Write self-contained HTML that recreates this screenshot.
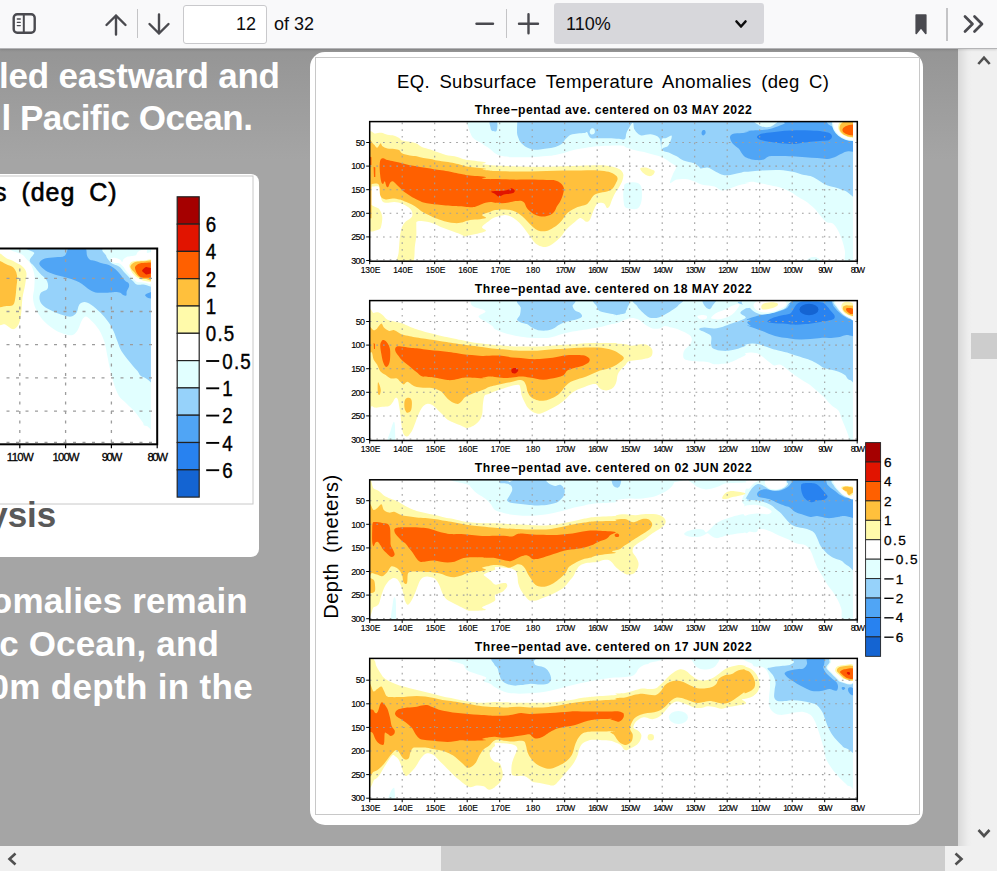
<!DOCTYPE html>
<html><head><meta charset="utf-8">
<style>
html,body{margin:0;padding:0;}
body{width:997px;height:871px;overflow:hidden;position:relative;background:#a5a5a5;font-family:"Liberation Sans",sans-serif;}
#slide{position:absolute;left:0;top:48px;width:958px;height:798px;background:linear-gradient(#959595 0px,#a5a5a5 112px,#a5a5a5 100%);overflow:hidden;}
#toolbar{position:absolute;left:0;top:0;width:997px;height:48px;background:#f9f9fa;box-shadow:0 1px 0 #b4b4b6, 0 2px 2px rgba(0,0,0,.12);z-index:5;}
.tbtxt{position:absolute;font-size:18px;color:#0c0c0d;line-height:20px;}
.sep{position:absolute;width:1px;background:#c4c4c6;}
.hl{position:absolute;color:#fff;font-weight:bold;font-size:35px;line-height:42px;white-space:nowrap;}
.card{position:absolute;background:#fff;}
#vsb{position:absolute;left:958px;top:48px;width:39px;height:798px;background:linear-gradient(90deg,#d9d9d9 0,#ededed 10px,#f0f0f0 14px,#f0f0f0 100%);}
#hsb{position:absolute;left:0;top:846px;width:997px;height:25px;background:#f0f0f0;}
.thumb{position:absolute;background:#cdcdcd;}
svg{position:absolute;left:0;top:0;}
</style></head><body>
<div id="slide">
 <div class="hl" id="h1" style="right:678.2px;top:7px;letter-spacing:-0.2px;">led eastward and</div>
 <div class="hl" id="h2" style="right:705.5px;top:49.1px;letter-spacing:-0.48px;">l Pacific Ocean.</div>
 <div class="hl" id="h3" style="right:710.2px;top:532.2px;letter-spacing:0.15px;">omalies remain</div>
 <div class="hl" id="h4" style="right:739px;top:574.9px;letter-spacing:0.16px;">c Ocean, and</div>
 <div class="hl" id="h5" style="right:705px;top:617.7px;letter-spacing:0.33px;">0m depth in the</div>
 <div class="card" id="cardL" style="left:-20px;top:126px;width:279.3px;height:383px;border-radius:8px;"></div>
 <div class="card" id="cardR" style="left:310.3px;top:4px;width:612.6px;height:773px;border-radius:15px;"></div>
</div>
<div id="vsb"><div class="thumb" style="left:13px;top:285px;width:26px;height:26px;"></div></div>
<div id="hsb"><div class="thumb" style="left:441px;top:0;width:504px;height:25px;"></div></div>
<div id="toolbar">
 <div class="sep" style="left:137px;top:9px;height:29px;"></div>
 <div style="position:absolute;left:183px;top:5px;width:82px;height:37px;border:1px solid #c9c9cc;border-radius:3px;background:#fff;box-sizing:content-box;"></div>
 <div class="tbtxt" style="left:236px;top:14px;">12</div>
 <div class="tbtxt" style="left:274px;top:14px;">of 32</div>
 <div class="sep" style="left:506px;top:9px;height:29px;"></div>
 <div style="position:absolute;left:554px;top:3px;width:210px;height:41px;border-radius:3px;background:#d7d7db;"></div>
 <div class="tbtxt" style="left:566px;top:14px;">110%</div>
 <div class="sep" style="left:946px;top:8px;height:33px;width:2px;background:#c4c4c6;"></div>
</div>
<svg width="997" height="871" viewBox="0 0 997 871" style="z-index:6" fill="none" stroke="#4a4a4f" stroke-width="2.4" stroke-linecap="round" stroke-linejoin="round">
<rect x="13.7" y="14.3" width="21" height="18.5" rx="3.5"/><line x1="23.8" y1="14.5" x2="23.8" y2="32.5" stroke-width="2"/><g stroke-width="1.3"><line x1="17.3" y1="19" x2="20.3" y2="19"/><line x1="17.3" y1="22.3" x2="20.3" y2="22.3"/><line x1="17.3" y1="25.6" x2="20.3" y2="25.6"/></g>
<path d="M116 34.5V15.5M106.5 25L116 15.5L125.5 25"/>
<path d="M159 14.5V33.5M149.5 24L159 33.5L168.5 24"/>
<path d="M476.5 23.8H493"/><path d="M519 23.8H538M528.5 14.3V33.3"/>
<path d="M736.5 21.5L741 26.5L745.5 21.5" stroke="#0c0c0d" stroke-width="2.6"/>
<path d="M916.2 15H925.8V33.5L921 27.5L916.2 33.5Z" fill="#4a4a4f" stroke-width="1.6"/>
<path d="M965 16.5L972.5 24L965 31.5M974.5 16.5L982 24L974.5 31.5" stroke-width="2.7"/>
<g stroke="#505050" stroke-width="2.6" stroke-linecap="butt" stroke-linejoin="miter"><path d="M978.3 64L984 57.6L989.7 64"/><path d="M978.5 830L984 836L989.5 830"/><path d="M15.5 853.5L9.5 859L15.5 864.5"/><path d="M955.5 853.5L961.5 859L955.5 864.5"/></g>
</svg>
<svg width="997" height="871" viewBox="0 0 997 871" style="z-index:2" font-family="Liberation Sans, sans-serif">
<style>.gr{stroke:#9e9e9e;stroke-width:1.05;stroke-dasharray:1.7 4.95;}.gl{stroke:#9c9c9c;stroke-width:1.3;stroke-dasharray:3 6.5;}</style>
<defs><clipPath id="slideclip"><rect x="0" y="49" width="958" height="797"/></clipPath></defs>
<g clip-path="url(#slideclip)">
<rect x="315.5" y="57.5" width="604" height="757" fill="#fff" stroke="#c8c8c8" stroke-width="1"/>
<text x="613.0" y="87.9" font-size="18.50" text-anchor="middle" font-weight="normal" fill="#000" textLength="432.0" lengthAdjust="spacing" word-spacing="4">EQ. Subsurface Temperature Anomalies (deg C)</text>
<clipPath id="cp1"><rect x="369.7" y="121.6" width="483.3" height="139.6"/></clipPath>
<g clip-path="url(#cp1)">
<path d="M466.6 121.9 C466.9 123.0 467.7 125.3 468.3 127.1 C468.9 128.8 469.3 130.5 470.0 132.2 C470.8 133.9 471.5 135.9 472.6 137.4 C473.8 138.8 475.3 139.8 476.9 140.8 C478.5 141.8 480.7 142.5 482.1 143.4 C483.5 144.3 484.1 145.0 485.5 146.0 C487.0 147.0 489.1 148.2 490.7 149.4 C492.3 150.6 493.6 152.2 495.0 153.2 C496.4 154.2 497.9 154.9 499.3 155.5 C500.7 156.0 501.5 156.0 503.6 156.3 C505.8 156.6 507.9 157.0 512.2 157.2 C516.5 157.3 523.7 157.4 529.4 157.2 C535.2 157.0 542.4 156.4 546.7 156.0 C551.0 155.6 552.4 155.5 555.3 154.9 C558.1 154.4 561.0 153.7 563.9 152.9 C566.7 152.1 569.6 151.0 572.5 150.3 C575.4 149.6 577.9 149.2 581.1 148.6 C584.2 148.0 588.0 147.3 591.4 146.9 C594.9 146.4 597.7 146.2 601.8 146.0 C605.8 145.8 611.7 145.6 615.5 145.6 C619.4 145.6 623.4 145.8 625.0 146.0 C626.6 146.2 623.3 146.1 625.0 146.9 C626.7 147.6 631.6 149.3 635.3 150.3 C639.1 151.3 642.9 151.7 647.4 152.9 C651.8 154.0 658.0 155.5 662.0 157.2 C666.0 158.9 669.1 161.6 671.5 163.2 C673.9 164.8 676.0 164.9 676.3 166.7 C676.6 168.4 674.2 170.8 673.2 173.5 C672.2 176.3 669.5 182.0 670.1 183.0 C670.7 184.0 674.1 180.2 676.7 179.6 C679.2 178.9 682.4 178.8 685.3 179.1 C688.1 179.3 691.0 180.3 693.9 181.3 C696.7 182.2 699.0 183.9 702.5 184.7 C705.9 185.6 711.4 185.5 714.5 186.5 C717.7 187.4 719.1 190.0 721.4 190.4 C723.7 190.8 725.4 189.9 728.3 189.0 C731.2 188.2 735.2 186.3 738.6 185.3 C742.1 184.2 747.9 183.4 749.0 183.0 C750.0 182.6 744.5 183.2 745.0 183.0 C745.5 182.8 749.6 181.8 751.9 181.8 C754.2 181.8 756.2 182.5 758.8 183.0 C761.4 183.5 763.9 184.0 767.4 184.7 C770.8 185.5 775.7 186.2 779.4 187.3 C783.2 188.5 786.9 190.2 789.8 191.6 C792.6 193.1 794.1 194.3 796.7 195.9 C799.2 197.5 802.4 199.1 805.3 201.1 C808.1 203.1 811.6 205.8 813.9 208.0 C816.2 210.1 817.3 212.0 819.0 214.0 C820.8 216.0 822.8 218.6 824.2 220.0 C825.6 221.5 826.2 222.0 827.6 222.6 C829.1 223.2 831.1 222.2 832.8 223.5 C834.5 224.8 836.4 227.5 838.0 230.4 C839.6 233.2 841.1 237.3 842.3 240.7 C843.4 244.1 844.2 247.3 844.9 251.0 C845.6 254.8 843.1 261.1 846.6 263.1 C850.0 265.1 862.4 286.9 865.5 263.1 C868.7 239.3 932.0 144.0 865.5 120.2 C799.0 96.3 533.1 119.9 466.6 120.2 C400.1 120.5 466.3 120.7 466.6 121.9Z" fill="#e1ffff"/>
<path d="M624.1 187.3 C624.4 185.9 623.7 184.7 625.0 183.9 C626.3 183.0 629.7 182.3 631.9 182.2 C634.0 182.0 636.3 182.2 637.9 183.0 C639.5 183.9 640.7 184.9 641.4 187.3 C642.0 189.8 642.0 194.8 641.9 197.6 C641.7 200.5 641.3 202.7 640.5 204.5 C639.7 206.4 638.8 208.1 637.1 208.8 C635.3 209.6 632.2 209.1 630.2 208.8 C628.2 208.6 626.1 208.4 625.0 207.1 C623.9 205.8 623.9 203.5 623.6 201.1 C623.3 198.7 623.2 194.8 623.3 192.5 C623.4 190.2 623.9 188.8 624.1 187.3Z" fill="#e1ffff"/>
<path d="M807.0 261.4 C805.3 260.8 808.4 258.6 809.6 257.9 C810.7 257.2 812.4 257.0 813.9 257.1 C815.3 257.1 817.2 257.5 818.2 258.3 C819.2 259.0 821.8 260.8 819.9 261.4 C818.0 261.9 808.7 261.9 807.0 261.4Z" fill="#e1ffff"/>
<path d="M517.4 120.2 C517.3 122.2 516.9 129.3 517.0 132.2 C517.2 135.1 517.6 135.7 518.2 137.4 C518.9 139.1 519.5 141.0 520.8 142.5 C522.1 144.1 524.0 145.7 526.0 146.9 C528.0 148.0 530.6 149.0 532.9 149.4 C535.2 149.9 537.5 149.6 539.8 149.4 C542.1 149.3 544.1 149.0 546.7 148.6 C549.2 148.1 552.7 147.7 555.3 146.9 C557.8 146.0 560.4 144.7 562.2 143.4 C563.9 142.1 564.2 140.5 565.6 139.1 C567.0 137.7 568.8 135.7 570.8 134.8 C572.8 133.9 575.4 133.9 577.6 133.6 C579.9 133.3 583.0 133.3 584.5 133.1 C586.1 132.8 586.4 131.8 587.1 132.2 C587.8 132.6 588.1 134.7 588.8 135.7 C589.6 136.7 589.8 137.8 591.4 138.2 C593.0 138.7 595.4 138.2 598.3 138.2 C601.2 138.2 605.2 138.2 608.6 138.2 C612.1 138.3 616.2 138.6 619.0 138.8 C621.7 138.9 623.7 140.2 625.0 139.1 C626.3 138.0 625.4 134.9 626.7 132.2 C628.0 129.5 631.5 123.2 632.7 122.7 C634.0 122.3 633.2 127.5 634.5 129.6 C635.8 131.7 637.8 134.5 640.5 135.3 C643.2 136.1 647.7 133.8 650.8 134.3 C654.0 134.8 657.6 135.7 659.4 138.2 C661.3 140.8 660.3 147.0 662.0 149.4 C663.7 151.9 667.3 151.7 669.8 152.9 C672.2 154.0 674.4 155.0 676.7 156.3 C679.0 157.6 680.7 159.5 683.5 160.6 C686.4 161.8 691.3 162.2 693.9 163.2 C696.5 164.2 697.9 165.8 699.0 166.7 C700.2 167.5 699.3 168.2 700.8 168.4 C702.2 168.5 705.4 167.1 707.6 167.5 C709.9 167.9 712.2 169.8 714.5 171.0 C716.8 172.1 719.1 173.7 721.4 174.4 C723.7 175.1 725.7 175.4 728.3 175.3 C730.9 175.1 734.1 174.2 736.9 173.5 C739.8 172.9 744.2 171.8 745.5 171.5 C746.9 171.2 742.2 172.0 745.0 171.8 C747.8 171.6 756.5 170.7 762.2 170.4 C768.0 170.2 774.4 169.9 779.4 170.1 C784.5 170.3 788.6 171.1 792.4 171.8 C796.1 172.5 798.8 173.7 801.8 174.4 C804.8 175.1 807.8 175.3 810.4 176.1 C813.0 177.0 815.0 178.3 817.3 179.6 C819.6 180.9 821.9 182.7 824.2 183.9 C826.5 185.0 828.8 185.7 831.1 186.5 C833.4 187.2 835.7 187.5 838.0 188.2 C840.3 188.9 840.3 189.3 844.9 190.8 C849.5 192.2 862.1 208.6 865.5 196.8 C869.0 185.0 923.6 132.9 865.5 120.2 C807.5 107.4 575.4 120.2 517.4 120.2 C459.4 120.2 517.4 118.2 517.4 120.2Z" fill="#96d2fa"/>
<path d="M589.7 131.4 C589.8 130.4 590.7 128.9 591.4 128.4 C592.1 128.0 593.4 128.1 594.0 128.8 C594.6 129.4 595.0 131.3 594.9 132.2 C594.7 133.1 593.9 134.0 593.1 134.3 C592.4 134.6 591.1 134.4 590.6 133.9 C590.0 133.5 589.6 132.3 589.7 131.4Z" fill="#e1ffff"/>
<path d="M489.8 121.0 C488.8 122.0 490.1 125.5 490.4 127.1 C490.6 128.6 490.8 129.8 491.6 130.5 C492.3 131.2 494.1 131.4 495.0 131.4 C495.9 131.4 496.3 131.5 496.7 130.5 C497.1 129.5 497.5 126.9 497.4 125.3 C497.4 123.8 497.6 121.7 496.4 121.0 C495.1 120.3 490.8 120.0 489.8 121.0Z" fill="#96d2fa"/>
<path d="M662.0 139.1 C662.7 137.4 664.0 138.8 665.5 138.2 C666.9 137.7 669.6 135.9 670.6 135.7 C671.7 135.4 671.8 135.7 671.8 136.5 C671.8 137.4 671.3 139.2 670.6 140.8 C670.0 142.4 669.2 144.8 668.0 146.0 C666.9 147.1 664.8 147.3 663.7 147.7 C662.7 148.1 661.8 150.0 661.5 148.6 C661.2 147.1 661.4 140.8 662.0 139.1Z" fill="#e1ffff"/>
<path d="M755.3 121.0 C752.3 121.6 756.8 123.5 757.9 124.5 C759.1 125.4 760.4 126.3 762.2 126.7 C764.1 127.1 767.1 127.4 769.1 127.1 C771.1 126.7 773.1 125.5 774.3 124.5 C775.4 123.5 779.2 121.6 776.0 121.0 C772.8 120.5 758.3 120.5 755.3 121.0Z" fill="#e1ffff"/>
<path d="M730.0 137.4 C730.0 135.8 730.6 134.7 732.6 133.9 C734.6 133.2 739.4 133.5 742.1 133.1 C744.8 132.6 748.5 131.6 749.0 131.4 C749.5 131.1 744.5 131.5 745.0 131.4 C745.5 131.2 749.6 130.7 751.9 130.5 C754.2 130.3 756.2 130.3 758.8 130.2 C761.4 130.0 764.5 130.2 767.4 129.6 C770.3 129.1 773.1 128.1 776.0 127.1 C778.9 126.0 782.3 124.8 784.6 123.6 C786.9 122.5 776.3 120.7 789.8 120.2 C803.3 119.6 852.9 115.1 865.5 120.2 C878.2 125.2 868.4 145.1 865.5 150.3 C862.7 155.5 852.3 150.6 848.3 151.2 C844.3 151.7 843.7 152.7 841.4 153.7 C839.1 154.7 836.8 156.3 834.5 157.2 C832.2 158.0 830.5 158.8 827.6 158.9 C824.8 159.1 821.0 158.3 817.3 158.0 C813.6 157.8 809.4 157.5 805.3 157.2 C801.1 156.9 796.7 156.5 792.4 156.3 C788.0 156.1 783.3 156.0 779.4 156.0 C775.6 156.0 771.7 155.8 769.1 156.3 C766.5 156.9 765.9 158.8 763.9 159.4 C761.9 160.1 759.3 160.2 757.1 160.1 C754.8 160.0 752.2 159.6 750.2 158.9 C748.2 158.2 744.9 156.0 745.0 156.0 C745.1 156.0 750.6 158.7 750.7 158.9 C750.8 159.1 747.0 158.0 745.5 157.2 C744.1 156.3 743.2 155.2 742.1 153.7 C740.9 152.3 740.2 150.3 738.6 148.6 C737.1 146.9 734.1 145.3 732.6 143.4 C731.2 141.5 730.0 139.0 730.0 137.4Z" fill="#50a5f5"/>
<path d="M701.6 132.2 C701.8 131.4 702.3 130.4 702.8 130.2 C703.4 129.9 704.6 130.0 705.1 130.5 C705.5 131.0 705.8 132.3 705.6 133.1 C705.4 133.9 704.5 135.0 703.9 135.3 C703.3 135.6 702.3 135.3 702.0 134.8 C701.6 134.3 701.5 133.0 701.6 132.2Z" fill="#50a5f5"/>
<path d="M757.1 136.5 C757.6 135.6 759.6 134.3 762.2 133.6 C764.8 132.9 768.8 132.7 772.5 132.2 C776.3 131.8 780.6 131.2 784.6 130.8 C788.6 130.5 792.4 130.2 796.7 130.2 C801.0 130.1 806.1 130.3 810.4 130.5 C814.7 130.7 819.3 130.9 822.5 131.4 C825.6 131.8 827.8 132.2 829.4 133.1 C830.9 133.9 832.0 135.4 832.0 136.5 C832.0 137.7 830.9 139.2 829.4 140.0 C827.8 140.7 825.6 140.5 822.5 140.8 C819.3 141.1 814.4 141.3 810.4 141.7 C806.4 142.1 801.5 143.0 798.4 143.4 C795.2 143.8 794.1 143.9 791.5 143.9 C788.9 143.9 785.8 143.6 782.9 143.4 C780.0 143.2 777.4 143.0 774.3 142.5 C771.1 142.1 766.5 141.4 763.9 140.8 C761.4 140.3 759.9 139.8 758.8 139.1 C757.6 138.4 756.5 137.4 757.1 136.5Z" fill="#2882f0"/>
<ellipse cx="853.5" cy="121.0" rx="27.0" ry="9.0" fill="#96d2fa"/>
<ellipse cx="853.5" cy="123.0" rx="21.5" ry="18.0" fill="#e1ffff"/>
<ellipse cx="853.5" cy="123.0" rx="20.3" ry="17.0" fill="#ffffff"/>
<ellipse cx="853.5" cy="127.0" rx="15.3" ry="10.7" fill="#fffaaa"/>
<ellipse cx="853.5" cy="128.0" rx="14.0" ry="9.2" fill="#ffc03c"/>
<ellipse cx="853.5" cy="130.0" rx="11.2" ry="5.4" fill="#ff6000"/>
<path d="M368.4 135.7 C369.6 126.9 373.2 134.1 375.3 133.6 C377.5 133.1 379.3 132.5 381.4 132.7 C383.4 132.9 385.2 134.3 387.4 134.8 C389.5 135.3 392.3 135.1 394.3 135.7 C396.3 136.2 398.1 137.4 399.4 138.2 C400.7 139.0 400.3 139.9 402.0 140.5 C403.7 141.1 407.3 141.2 409.8 141.7 C412.2 142.2 414.6 142.5 416.7 143.4 C418.7 144.3 419.5 145.8 421.8 146.9 C424.1 147.9 427.8 148.6 430.4 149.4 C433.0 150.3 434.7 151.1 437.3 152.0 C439.9 152.9 443.1 154.2 445.9 154.9 C448.8 155.7 452.0 155.8 454.5 156.3 C457.1 156.9 459.1 157.8 461.4 158.4 C463.7 159.0 464.3 159.5 468.3 160.1 C472.3 160.8 483.2 161.7 485.5 162.4 C487.8 163.0 481.5 163.6 482.1 164.1 C482.7 164.5 486.8 164.7 489.0 164.9 C491.1 165.2 491.1 165.2 495.0 165.5 C498.9 165.7 506.5 166.1 512.2 166.3 C518.0 166.5 523.7 166.6 529.4 166.7 C535.2 166.7 540.9 166.7 546.7 166.7 C552.4 166.6 558.1 166.5 563.9 166.3 C569.6 166.2 575.4 166.0 581.1 165.8 C586.8 165.6 594.0 165.3 598.3 165.3 C602.6 165.3 604.1 165.4 606.9 165.8 C609.8 166.2 613.2 166.8 615.5 167.5 C617.8 168.2 619.4 169.0 620.7 170.1 C622.0 171.2 623.0 172.7 623.3 174.4 C623.6 176.1 623.1 178.3 622.4 180.4 C621.7 182.6 620.1 185.3 619.0 187.3 C617.8 189.3 616.7 190.5 615.5 192.5 C614.4 194.5 613.1 197.1 612.1 199.4 C611.1 201.7 610.4 204.8 609.5 206.3 C608.6 207.7 607.8 208.4 606.9 208.0 C606.1 207.5 605.5 204.5 604.3 203.7 C603.2 202.8 601.3 202.7 600.0 202.8 C598.7 203.0 597.7 203.1 596.6 204.5 C595.4 206.0 594.3 208.8 593.1 211.4 C592.0 214.0 590.8 218.3 589.7 220.0 C588.6 221.8 587.4 221.9 586.3 221.8 C585.1 221.6 584.0 219.7 582.8 219.2 C581.7 218.6 580.8 217.7 579.4 218.3 C577.9 218.9 576.2 220.9 574.2 222.6 C572.2 224.3 569.6 226.2 567.3 228.6 C565.0 231.1 562.7 234.8 560.4 237.3 C558.1 239.7 555.8 241.7 553.5 243.3 C551.2 244.9 549.0 246.3 546.7 246.7 C544.4 247.2 541.8 246.6 539.8 245.9 C537.8 245.1 536.3 244.1 534.6 242.4 C532.9 240.7 531.2 237.8 529.4 235.5 C527.7 233.2 526.0 230.8 524.3 228.6 C522.5 226.5 520.8 224.3 519.1 222.6 C517.4 220.9 515.7 219.5 513.9 218.3 C512.2 217.2 510.5 216.2 508.8 215.7 C507.1 215.2 505.9 215.0 503.6 215.2 C501.3 215.5 497.4 216.3 495.0 217.3 C492.6 218.2 491.1 219.3 489.0 220.9 C486.8 222.5 482.7 225.2 482.1 226.9 C481.5 228.6 487.8 229.8 485.5 231.2 C483.2 232.7 471.8 234.7 468.3 235.5 C464.9 236.4 466.0 236.5 464.9 236.4 C463.7 236.2 463.1 235.4 461.4 234.7 C459.7 234.0 456.8 232.9 454.5 232.1 C452.2 231.2 449.9 230.4 447.6 229.5 C445.4 228.6 443.1 227.9 440.8 226.9 C438.5 226.0 436.2 224.7 433.9 223.8 C431.6 223.0 429.3 222.2 427.0 221.8 C424.7 221.3 421.8 220.9 420.1 220.9 C418.4 220.9 417.3 221.0 416.7 221.8 C416.0 222.5 416.4 222.9 416.3 225.2 C416.3 227.5 416.5 232.1 416.3 235.5 C416.1 239.0 415.6 241.3 414.9 245.9 C414.3 250.5 415.2 260.2 412.4 263.1 C409.5 265.9 400.0 264.8 397.7 263.1 C395.4 261.4 398.3 256.2 398.6 252.7 C398.9 249.3 399.2 245.6 399.4 242.4 C399.7 239.3 399.9 236.4 400.3 233.8 C400.7 231.2 401.2 228.9 402.0 226.9 C402.9 224.9 404.0 223.2 405.5 221.8 C406.9 220.3 409.5 219.5 410.6 218.3 C411.8 217.2 412.2 216.2 412.4 214.9 C412.5 213.6 412.2 211.9 411.5 210.6 C410.8 209.3 409.6 208.3 408.0 207.1 C406.5 206.0 404.3 204.5 402.0 203.7 C399.7 202.8 397.0 202.1 394.3 202.0 C391.5 201.8 387.8 203.2 385.7 202.8 C383.5 202.4 382.4 202.0 381.4 199.4 C380.4 196.8 381.2 189.5 379.6 187.3 C378.1 185.2 373.8 186.6 371.9 186.5 C370.0 186.3 369.0 194.9 368.4 186.5 C367.9 178.0 367.3 144.5 368.4 135.7Z" fill="#fffaaa"/>
<path d="M368.4 206.3 C369.6 202.5 373.5 206.5 375.3 207.1 C377.2 207.7 378.5 208.1 379.6 209.7 C380.8 211.3 381.9 214.0 382.2 216.6 C382.5 219.2 381.9 223.0 381.4 225.2 C380.8 227.4 380.9 228.8 378.8 229.5 C376.6 230.2 370.2 233.4 368.4 229.5 C366.7 225.6 367.3 210.0 368.4 206.3Z" fill="#fffaaa"/>
<path d="M640.2 168.4 C640.4 167.4 643.9 167.4 645.7 167.5 C647.4 167.7 649.3 168.7 650.8 169.2 C652.3 169.8 654.2 170.1 654.6 171.0 C655.0 171.8 654.3 173.5 653.4 174.4 C652.5 175.3 650.7 176.3 649.1 176.1 C647.5 176.0 645.4 174.8 643.9 173.5 C642.4 172.3 639.9 169.4 640.2 168.4Z" fill="#fffaaa"/>
<path d="M368.4 142.5 C369.3 135.9 372.2 143.4 373.6 144.3 C375.0 145.1 375.9 147.9 377.1 147.7 C378.2 147.6 379.6 143.7 380.5 143.4 C381.4 143.1 381.1 145.1 382.2 146.0 C383.4 146.9 385.4 148.1 387.4 148.6 C389.4 149.1 392.3 148.8 394.3 149.1 C396.3 149.4 398.1 149.6 399.4 150.3 C400.7 151.0 400.3 152.4 402.0 153.2 C403.7 154.1 407.3 154.9 409.8 155.5 C412.2 156.0 414.4 155.9 416.7 156.3 C419.0 156.8 421.2 157.6 423.5 158.0 C425.8 158.5 428.1 158.5 430.4 158.9 C432.7 159.3 434.7 160.1 437.3 160.6 C439.9 161.1 443.1 161.4 445.9 161.8 C448.8 162.3 452.0 162.7 454.5 163.2 C457.1 163.7 459.1 164.4 461.4 164.9 C463.7 165.5 464.3 166.0 468.3 166.7 C472.3 167.3 483.2 168.2 485.5 168.7 C487.8 169.2 481.5 169.5 482.1 169.8 C482.7 170.0 486.8 170.2 489.0 170.4 C491.1 170.6 491.1 170.8 495.0 171.0 C498.9 171.1 506.5 171.4 512.2 171.5 C518.0 171.6 523.7 171.6 529.4 171.5 C535.2 171.4 540.9 171.1 546.7 171.0 C552.4 170.8 558.1 170.5 563.9 170.4 C569.6 170.4 575.4 170.4 581.1 170.4 C586.8 170.4 593.7 170.2 598.3 170.4 C602.9 170.7 605.8 171.0 608.6 171.8 C611.5 172.6 614.0 174.1 615.5 175.3 C617.0 176.4 617.6 177.3 617.6 178.7 C617.6 180.1 616.4 182.2 615.5 183.9 C614.6 185.6 613.5 187.7 612.1 189.0 C610.7 190.3 609.2 190.9 606.9 191.6 C604.6 192.3 600.6 192.6 598.3 193.3 C596.0 194.1 594.6 194.6 593.1 195.9 C591.7 197.2 590.8 199.7 589.7 201.1 C588.6 202.5 588.3 203.5 586.3 204.5 C584.2 205.5 580.2 206.1 577.6 207.1 C575.1 208.1 572.8 209.3 570.8 210.6 C568.8 211.9 567.0 213.3 565.6 214.9 C564.2 216.4 563.6 218.3 562.2 220.0 C560.7 221.8 559.0 223.6 557.0 225.2 C555.0 226.8 552.1 228.5 550.1 229.5 C548.1 230.5 546.9 231.1 544.9 231.2 C542.9 231.4 540.1 231.1 538.0 230.4 C536.0 229.6 534.6 228.4 532.9 226.9 C531.2 225.5 529.4 223.5 527.7 221.8 C526.0 220.0 524.3 218.1 522.5 216.6 C520.8 215.1 519.1 213.8 517.4 212.8 C515.7 211.8 514.2 211.1 512.2 210.6 C510.2 210.0 508.2 209.4 505.3 209.4 C502.5 209.3 497.7 209.6 495.0 210.0 C492.3 210.5 491.1 211.5 489.0 212.3 C486.8 213.1 482.7 213.9 482.1 214.9 C481.5 215.9 487.8 217.4 485.5 218.3 C483.2 219.2 472.3 219.7 468.3 220.4 C464.3 221.1 463.7 222.2 461.4 222.6 C459.1 223.1 456.8 223.2 454.5 223.1 C452.2 223.0 449.9 222.6 447.6 222.1 C445.4 221.6 443.1 220.8 440.8 220.0 C438.5 219.3 435.9 218.3 433.9 217.5 C431.9 216.6 430.7 215.9 428.7 214.9 C426.7 213.9 424.1 212.9 421.8 211.4 C419.5 210.0 417.2 207.7 414.9 206.3 C412.6 204.8 410.2 203.8 408.0 202.8 C405.9 201.8 403.5 200.8 402.0 200.2 C400.6 199.7 401.0 199.7 399.4 199.4 C397.9 199.1 394.8 198.5 392.5 198.5 C390.3 198.5 387.7 199.8 385.7 199.4 C383.7 198.9 381.6 198.4 380.5 195.9 C379.3 193.5 380.2 186.7 378.8 184.7 C377.3 182.7 373.6 184.0 371.9 183.9 C370.2 183.7 369.0 190.8 368.4 183.9 C367.9 177.0 367.6 149.2 368.4 142.5Z" fill="#ffc03c"/>
<path d="M368.4 183.9 L371.5 183.9 L371.5 218.3 L368.4 218.3Z" fill="#ffc03c"/>
<path d="M379.6 166.7 C379.7 164.1 379.8 161.1 380.5 159.8 C381.2 158.4 382.8 158.3 383.9 158.4 C385.1 158.4 385.7 159.6 387.4 160.1 C389.1 160.6 391.8 161.0 394.3 161.5 C396.7 162.0 399.4 162.6 402.0 163.2 C404.6 163.8 407.3 164.8 409.8 165.3 C412.2 165.8 414.4 165.9 416.7 166.3 C419.0 166.7 421.2 167.2 423.5 167.5 C425.8 167.9 428.1 168.0 430.4 168.4 C432.7 168.8 434.7 169.3 437.3 169.8 C439.9 170.2 443.1 170.5 445.9 171.0 C448.8 171.4 452.0 172.2 454.5 172.7 C457.1 173.2 459.1 173.5 461.4 173.9 C463.7 174.3 464.3 174.7 468.3 175.3 C472.3 175.8 483.2 176.5 485.5 177.0 C487.8 177.5 481.5 178.0 482.1 178.4 C482.7 178.7 486.8 178.9 489.0 179.1 C491.1 179.2 491.1 179.0 495.0 179.1 C498.9 179.1 506.5 179.5 512.2 179.6 C518.0 179.7 523.7 179.5 529.4 179.6 C535.2 179.7 542.4 179.9 546.7 180.1 C551.0 180.2 553.0 179.9 555.3 180.4 C557.6 180.9 559.0 181.7 560.4 183.0 C561.9 184.3 563.4 186.3 563.9 188.2 C564.3 190.0 563.6 192.1 563.0 194.2 C562.4 196.4 561.4 199.1 560.4 201.1 C559.4 203.1 558.0 204.5 557.0 206.3 C556.0 208.0 555.6 210.0 554.4 211.4 C553.3 212.9 552.0 214.0 550.1 214.9 C548.2 215.7 545.5 216.5 543.2 216.6 C540.9 216.6 538.3 215.9 536.3 215.2 C534.3 214.5 532.7 213.5 531.2 212.3 C529.6 211.1 528.0 209.6 526.9 208.0 C525.7 206.4 525.3 204.0 524.3 202.8 C523.3 201.6 522.3 201.0 520.8 200.7 C519.4 200.5 517.7 200.8 515.7 201.1 C513.7 201.4 511.1 202.1 508.8 202.5 C506.5 202.8 504.2 203.1 501.9 203.2 C499.6 203.2 496.9 203.0 495.0 202.8 C493.1 202.6 492.3 202.0 490.7 202.0 C489.1 202.0 487.5 202.2 485.5 202.8 C483.5 203.4 480.7 204.7 478.6 205.4 C476.6 206.1 475.2 206.8 473.5 207.1 C471.8 207.4 470.3 207.3 468.3 207.1 C466.3 207.0 463.7 206.5 461.4 206.3 C459.1 206.1 457.1 206.1 454.5 205.9 C452.0 205.8 448.8 205.6 445.9 205.4 C443.1 205.2 439.9 204.8 437.3 204.5 C434.7 204.2 432.7 204.0 430.4 203.7 C428.1 203.3 425.8 203.2 423.5 202.5 C421.2 201.8 418.7 200.3 416.7 199.4 C414.6 198.4 413.2 197.8 411.5 196.8 C409.8 195.8 407.9 194.5 406.3 193.3 C404.7 192.2 403.2 190.9 402.0 189.9 C400.9 188.9 400.4 188.3 399.4 187.3 C398.4 186.3 397.1 184.9 396.0 183.9 C394.8 182.9 393.6 181.4 392.5 181.3 C391.5 181.1 390.7 182.1 390.0 183.0 C389.2 184.0 388.8 186.4 388.2 187.0 C387.7 187.5 387.1 187.4 386.5 186.5 C385.9 185.5 385.4 181.7 384.8 181.3 C384.2 180.9 383.7 183.7 383.1 183.9 C382.5 184.0 381.8 183.6 381.4 182.2 C380.9 180.7 380.4 177.8 380.2 175.3 C379.9 172.7 379.6 169.2 379.6 166.7Z" fill="#ff6000"/>
<path d="M368.4 156.3 L371.5 157.2 L371.5 164.9 L368.4 164.9Z" fill="#ff6000"/>
<path d="M373.6 166.7 L375.3 167.5 L375.3 177.0 L374.0 177.0Z" fill="#ff6000"/>
<path d="M491.2 191.7 C491.5 191.2 494.3 191.3 496.6 191.1 C498.9 190.9 502.8 190.9 505.0 190.6 C507.2 190.3 508.6 189.4 509.8 189.0 C511.0 188.7 511.4 188.2 512.2 188.4 C513.0 188.6 514.3 189.5 514.6 190.2 C514.9 190.9 514.8 192.0 514.0 192.6 C513.2 193.2 511.5 193.5 509.8 193.8 C508.1 194.1 505.4 194.0 503.8 194.4 C502.2 194.8 501.2 195.9 500.2 196.2 C499.2 196.5 498.7 196.6 497.8 196.2 C496.9 195.8 495.9 194.6 494.8 193.8 C493.7 193.1 490.9 192.1 491.2 191.7Z" fill="#e11400"/>
</g>
<line x1="402.2" y1="122.6" x2="402.2" y2="261.2" class="gr"/>
<line x1="434.7" y1="122.6" x2="434.7" y2="261.2" class="gr"/>
<line x1="467.2" y1="122.6" x2="467.2" y2="261.2" class="gr"/>
<line x1="499.7" y1="122.6" x2="499.7" y2="261.2" class="gr"/>
<line x1="532.2" y1="122.6" x2="532.2" y2="261.2" class="gr"/>
<line x1="564.7" y1="122.6" x2="564.7" y2="261.2" class="gr"/>
<line x1="597.2" y1="122.6" x2="597.2" y2="261.2" class="gr"/>
<line x1="629.7" y1="122.6" x2="629.7" y2="261.2" class="gr"/>
<line x1="662.2" y1="122.6" x2="662.2" y2="261.2" class="gr"/>
<line x1="694.7" y1="122.6" x2="694.7" y2="261.2" class="gr"/>
<line x1="727.2" y1="122.6" x2="727.2" y2="261.2" class="gr"/>
<line x1="759.7" y1="122.6" x2="759.7" y2="261.2" class="gr"/>
<line x1="792.2" y1="122.6" x2="792.2" y2="261.2" class="gr"/>
<line x1="824.7" y1="122.6" x2="824.7" y2="261.2" class="gr"/>
<line x1="369.7" y1="142.5" x2="857.3" y2="142.5" class="gr"/>
<line x1="369.7" y1="166.1" x2="857.3" y2="166.1" class="gr"/>
<line x1="369.7" y1="189.7" x2="857.3" y2="189.7" class="gr"/>
<line x1="369.7" y1="213.3" x2="857.3" y2="213.3" class="gr"/>
<line x1="369.7" y1="236.9" x2="857.3" y2="236.9" class="gr"/>
<line x1="369.7" y1="259.7" x2="857.3" y2="259.7" class="gr"/>
<rect x="369.7" y="121.6" width="487.6" height="139.6" fill="none" stroke="#000" stroke-width="1.5"/>
<line x1="369.7" y1="261.2" x2="369.7" y2="264.2" stroke="#000" stroke-width="1"/>
<text x="370.5" y="272.5" font-size="8.50" text-anchor="middle" font-weight="normal" fill="#000" textLength="19.6" lengthAdjust="spacing" stroke="#000" stroke-width="0.15">130E</text>
<line x1="402.2" y1="261.2" x2="402.2" y2="264.2" stroke="#000" stroke-width="1"/>
<text x="403.0" y="272.5" font-size="8.50" text-anchor="middle" font-weight="normal" fill="#000" textLength="19.6" lengthAdjust="spacing" stroke="#000" stroke-width="0.15">140E</text>
<line x1="434.7" y1="261.2" x2="434.7" y2="264.2" stroke="#000" stroke-width="1"/>
<text x="435.5" y="272.5" font-size="8.50" text-anchor="middle" font-weight="normal" fill="#000" textLength="19.6" lengthAdjust="spacing" stroke="#000" stroke-width="0.15">150E</text>
<line x1="467.2" y1="261.2" x2="467.2" y2="264.2" stroke="#000" stroke-width="1"/>
<text x="468.0" y="272.5" font-size="8.50" text-anchor="middle" font-weight="normal" fill="#000" textLength="19.6" lengthAdjust="spacing" stroke="#000" stroke-width="0.15">160E</text>
<line x1="499.7" y1="261.2" x2="499.7" y2="264.2" stroke="#000" stroke-width="1"/>
<text x="500.5" y="272.5" font-size="8.50" text-anchor="middle" font-weight="normal" fill="#000" textLength="19.6" lengthAdjust="spacing" stroke="#000" stroke-width="0.15">170E</text>
<line x1="532.2" y1="261.2" x2="532.2" y2="264.2" stroke="#000" stroke-width="1"/>
<text x="533.0" y="272.5" font-size="8.50" text-anchor="middle" font-weight="normal" fill="#000" textLength="14.3" lengthAdjust="spacing" stroke="#000" stroke-width="0.15">180</text>
<line x1="564.7" y1="261.2" x2="564.7" y2="264.2" stroke="#000" stroke-width="1"/>
<text x="565.5" y="272.5" font-size="8.50" text-anchor="middle" font-weight="normal" fill="#000" textLength="19.6" lengthAdjust="spacing" stroke="#000" stroke-width="0.15">170W</text>
<line x1="597.2" y1="261.2" x2="597.2" y2="264.2" stroke="#000" stroke-width="1"/>
<text x="598.0" y="272.5" font-size="8.50" text-anchor="middle" font-weight="normal" fill="#000" textLength="19.6" lengthAdjust="spacing" stroke="#000" stroke-width="0.15">160W</text>
<line x1="629.7" y1="261.2" x2="629.7" y2="264.2" stroke="#000" stroke-width="1"/>
<text x="630.5" y="272.5" font-size="8.50" text-anchor="middle" font-weight="normal" fill="#000" textLength="19.6" lengthAdjust="spacing" stroke="#000" stroke-width="0.15">150W</text>
<line x1="662.2" y1="261.2" x2="662.2" y2="264.2" stroke="#000" stroke-width="1"/>
<text x="663.0" y="272.5" font-size="8.50" text-anchor="middle" font-weight="normal" fill="#000" textLength="19.6" lengthAdjust="spacing" stroke="#000" stroke-width="0.15">140W</text>
<line x1="694.7" y1="261.2" x2="694.7" y2="264.2" stroke="#000" stroke-width="1"/>
<text x="695.5" y="272.5" font-size="8.50" text-anchor="middle" font-weight="normal" fill="#000" textLength="19.6" lengthAdjust="spacing" stroke="#000" stroke-width="0.15">130W</text>
<line x1="727.2" y1="261.2" x2="727.2" y2="264.2" stroke="#000" stroke-width="1"/>
<text x="728.0" y="272.5" font-size="8.50" text-anchor="middle" font-weight="normal" fill="#000" textLength="19.6" lengthAdjust="spacing" stroke="#000" stroke-width="0.15">120W</text>
<line x1="759.7" y1="261.2" x2="759.7" y2="264.2" stroke="#000" stroke-width="1"/>
<text x="760.5" y="272.5" font-size="8.50" text-anchor="middle" font-weight="normal" fill="#000" textLength="19.6" lengthAdjust="spacing" stroke="#000" stroke-width="0.15">110W</text>
<line x1="792.2" y1="261.2" x2="792.2" y2="264.2" stroke="#000" stroke-width="1"/>
<text x="793.0" y="272.5" font-size="8.50" text-anchor="middle" font-weight="normal" fill="#000" textLength="19.6" lengthAdjust="spacing" stroke="#000" stroke-width="0.15">100W</text>
<line x1="824.7" y1="261.2" x2="824.7" y2="264.2" stroke="#000" stroke-width="1"/>
<text x="825.5" y="272.5" font-size="8.50" text-anchor="middle" font-weight="normal" fill="#000" textLength="14.3" lengthAdjust="spacing" stroke="#000" stroke-width="0.15">90W</text>
<line x1="857.2" y1="261.2" x2="857.2" y2="264.2" stroke="#000" stroke-width="1"/>
<text x="858.0" y="272.5" font-size="8.50" text-anchor="middle" font-weight="normal" fill="#000" textLength="14.3" lengthAdjust="spacing" stroke="#000" stroke-width="0.15">80W</text>
<line x1="366.2" y1="142.5" x2="369.7" y2="142.5" stroke="#000" stroke-width="1"/>
<text x="365.0" y="145.7" font-size="9.00" text-anchor="end" font-weight="normal" fill="#000" textLength="9.2" lengthAdjust="spacing" stroke="#000" stroke-width="0.15">50</text>
<line x1="366.2" y1="166.1" x2="369.7" y2="166.1" stroke="#000" stroke-width="1"/>
<text x="365.0" y="169.3" font-size="9.00" text-anchor="end" font-weight="normal" fill="#000" textLength="13.8" lengthAdjust="spacing" stroke="#000" stroke-width="0.15">100</text>
<line x1="366.2" y1="189.7" x2="369.7" y2="189.7" stroke="#000" stroke-width="1"/>
<text x="365.0" y="192.9" font-size="9.00" text-anchor="end" font-weight="normal" fill="#000" textLength="13.8" lengthAdjust="spacing" stroke="#000" stroke-width="0.15">150</text>
<line x1="366.2" y1="213.3" x2="369.7" y2="213.3" stroke="#000" stroke-width="1"/>
<text x="365.0" y="216.5" font-size="9.00" text-anchor="end" font-weight="normal" fill="#000" textLength="13.8" lengthAdjust="spacing" stroke="#000" stroke-width="0.15">200</text>
<line x1="366.2" y1="236.9" x2="369.7" y2="236.9" stroke="#000" stroke-width="1"/>
<text x="365.0" y="240.1" font-size="9.00" text-anchor="end" font-weight="normal" fill="#000" textLength="13.8" lengthAdjust="spacing" stroke="#000" stroke-width="0.15">250</text>
<line x1="366.2" y1="260.5" x2="369.7" y2="260.5" stroke="#000" stroke-width="1"/>
<text x="365.0" y="263.7" font-size="9.00" text-anchor="end" font-weight="normal" fill="#000" textLength="13.8" lengthAdjust="spacing" stroke="#000" stroke-width="0.15">300</text>
<text x="613.2" y="114.2" font-size="12.20" text-anchor="middle" font-weight="bold" fill="#000" textLength="277.0" lengthAdjust="spacing" >Three−pentad ave. centered on 03 MAY 2022</text>
<clipPath id="cp2"><rect x="369.7" y="300.6" width="483.3" height="139.9"/></clipPath>
<g clip-path="url(#cp2)">
<path d="M470.0 299.2 C470.5 300.3 470.0 304.0 472.6 306.1 C475.2 308.1 484.5 309.5 485.5 311.2 C486.5 312.9 478.6 314.7 478.6 316.4 C478.6 318.1 483.2 320.0 485.5 321.5 C487.8 323.1 490.8 324.6 492.4 325.9 C494.0 327.1 493.1 328.2 495.0 329.3 C496.9 330.4 500.7 331.8 503.6 332.7 C506.5 333.7 509.3 334.3 512.2 335.0 C515.1 335.6 517.4 336.2 520.8 336.7 C524.3 337.2 528.6 337.7 532.9 337.9 C537.2 338.1 542.9 338.2 546.7 337.9 C550.4 337.6 552.4 336.9 555.3 336.2 C558.1 335.5 561.0 334.4 563.9 333.6 C566.7 332.8 569.6 332.1 572.5 331.5 C575.4 331.0 577.9 330.7 581.1 330.2 C584.2 329.6 588.0 329.0 591.4 328.4 C594.9 327.9 598.3 327.4 601.8 326.7 C605.2 326.0 609.2 324.8 612.1 324.1 C615.0 323.4 616.8 323.1 619.0 322.4 C621.1 321.7 622.8 320.5 625.0 319.8 C627.2 319.1 629.6 318.1 631.9 318.1 C634.2 318.1 636.5 318.7 638.8 319.8 C641.1 321.0 643.4 323.6 645.7 325.0 C648.0 326.4 650.3 327.9 652.5 328.4 C654.8 329.0 657.4 328.9 659.4 328.4 C661.4 328.0 662.6 326.0 664.6 325.9 C666.6 325.7 668.9 326.9 671.5 327.6 C674.1 328.3 677.2 329.0 680.1 330.2 C683.0 331.3 686.8 333.0 688.7 334.5 C690.7 335.9 691.5 337.2 691.8 338.8 C692.1 340.3 691.5 342.2 690.4 343.9 C689.3 345.7 686.5 347.4 685.3 349.1 C684.1 350.8 683.3 352.6 683.2 354.3 C683.1 355.9 683.2 358.0 684.4 359.1 C685.6 360.2 688.0 360.4 690.4 360.8 C692.9 361.2 696.2 361.3 699.0 361.5 C701.9 361.7 705.1 361.6 707.6 362.0 C710.2 362.5 712.2 364.0 714.5 364.3 C716.8 364.5 719.1 364.0 721.4 363.7 C723.7 363.5 725.7 363.6 728.3 362.9 C730.9 362.2 734.1 360.7 736.9 359.4 C739.8 358.1 744.2 356.1 745.5 355.1 C746.9 354.1 743.9 353.8 745.0 353.4 C746.1 353.0 749.6 352.5 751.9 352.5 C754.2 352.6 756.8 353.1 758.8 353.9 C760.8 354.8 762.2 356.4 763.9 357.7 C765.7 359.1 767.4 360.7 769.1 362.0 C770.8 363.3 772.5 365.0 774.3 365.5 C776.0 365.9 777.7 364.3 779.4 364.6 C781.2 364.9 782.9 366.0 784.6 367.2 C786.3 368.3 787.8 369.9 789.8 371.5 C791.8 373.1 794.4 375.1 796.7 376.6 C799.0 378.2 801.2 379.5 803.5 381.0 C805.8 382.4 808.1 383.5 810.4 385.3 C812.7 387.0 815.0 389.3 817.3 391.3 C819.6 393.3 822.2 395.3 824.2 397.3 C826.2 399.3 827.6 401.6 829.4 403.3 C831.1 405.1 833.0 406.4 834.5 407.6 C836.1 408.9 837.7 409.4 838.8 411.1 C840.0 412.8 840.4 415.4 841.4 418.0 C842.4 420.6 843.7 423.7 844.9 426.6 C846.0 429.5 847.3 432.6 848.3 435.2 C849.3 437.8 848.0 440.9 850.9 442.1 C853.8 443.2 863.1 465.9 865.5 442.1 C868.0 418.3 931.4 323.0 865.5 299.2 C799.6 275.3 535.9 299.2 470.0 299.2 C404.1 299.2 469.6 298.0 470.0 299.2Z" fill="#e1ffff"/>
<path d="M387.4 442.1 C386.8 440.1 389.8 433.3 390.8 430.0 C391.8 426.7 392.8 423.4 393.4 422.3 C394.0 421.1 394.3 421.6 394.6 423.1 C394.9 424.7 395.1 428.6 395.1 431.7 C395.1 434.9 395.9 440.4 394.6 442.1 C393.3 443.8 388.0 444.1 387.4 442.1Z" fill="#e1ffff"/>
<path d="M697.3 316.4 C697.5 315.6 700.0 315.1 701.6 315.0 C703.2 314.9 706.1 315.4 706.8 316.0 C707.5 316.7 706.9 318.4 705.9 319.0 C704.9 319.5 702.2 319.9 700.8 319.5 C699.3 319.1 697.2 317.1 697.3 316.4Z" fill="#ffffff"/>
<path d="M711.1 318.1 C710.8 317.0 714.0 314.4 716.3 312.9 C718.6 311.5 722.0 310.8 724.9 309.5 C727.7 308.2 731.0 306.1 733.5 305.2 C735.9 304.3 738.9 303.6 739.5 304.3 C740.1 305.0 738.2 307.8 736.9 309.5 C735.6 311.2 733.8 313.2 731.8 314.7 C729.7 316.1 727.2 317.3 724.9 318.1 C722.6 318.9 720.3 319.5 718.0 319.5 C715.7 319.5 711.4 319.2 711.1 318.1Z" fill="#ffffff"/>
<path d="M520.5 299.2 C512.0 300.6 520.9 305.2 520.8 307.8 C520.7 310.4 520.6 312.7 520.0 314.7 C519.3 316.7 516.9 318.5 517.0 319.8 C517.2 321.1 519.2 321.7 520.8 322.4 C522.5 323.1 525.0 323.3 526.9 324.1 C528.7 325.0 530.2 326.6 532.0 327.6 C533.9 328.6 535.6 329.7 538.0 330.2 C540.5 330.6 544.1 330.8 546.7 330.5 C549.2 330.2 551.5 329.4 553.5 328.4 C555.6 327.5 557.0 326.0 558.7 325.0 C560.4 324.0 561.9 323.1 563.9 322.4 C565.9 321.7 568.5 321.3 570.8 320.7 C573.1 320.1 575.8 319.7 577.6 319.0 C579.5 318.2 581.5 317.4 582.0 316.4 C582.4 315.4 581.4 313.9 580.2 312.9 C579.1 311.9 576.4 311.5 575.1 310.4 C573.8 309.2 573.1 307.9 572.5 306.1 C571.9 304.2 580.3 300.3 571.6 299.2 C563.0 298.0 528.9 297.7 520.5 299.2Z" fill="#96d2fa"/>
<path d="M594.9 299.2 C589.7 300.3 595.7 304.0 596.6 306.1 C597.5 308.1 596.9 309.8 600.0 311.2 C603.2 312.7 613.5 313.9 615.5 314.7 C617.5 315.4 611.5 315.5 612.1 315.5 C612.7 315.5 616.8 315.0 619.0 314.7 C621.1 314.3 623.9 313.9 625.0 313.3 C626.1 312.7 625.5 312.1 625.9 311.2 C626.3 310.3 627.1 309.8 627.4 307.8 C627.7 305.8 633.0 300.6 627.6 299.2 C622.2 297.7 600.0 298.0 594.9 299.2Z" fill="#96d2fa"/>
<path d="M635.3 299.2 C628.2 300.3 636.0 304.0 637.1 306.1 C638.1 308.1 639.6 309.5 641.4 311.2 C643.1 312.9 645.5 315.2 647.4 316.4 C649.2 317.5 650.5 318.0 652.5 318.1 C654.6 318.2 657.1 318.0 659.4 317.2 C661.7 316.5 664.0 315.1 666.3 313.8 C668.6 312.5 671.2 310.9 673.2 309.5 C675.2 308.1 677.2 306.9 678.4 305.2 C679.5 303.5 687.3 300.2 680.1 299.2 C672.9 298.2 642.5 298.0 635.3 299.2Z" fill="#96d2fa"/>
<path d="M703.3 299.2 C701.3 300.2 703.2 303.5 704.2 305.2 C705.2 306.9 707.9 309.2 709.4 309.2 C710.8 309.2 711.7 306.9 712.8 305.2 C714.0 303.5 717.8 300.2 716.3 299.2 C714.7 298.2 705.4 298.2 703.3 299.2Z" fill="#96d2fa"/>
<path d="M699.0 329.3 C698.8 328.4 701.6 327.7 704.2 327.6 C706.8 327.4 711.4 328.6 714.5 328.4 C717.7 328.3 720.6 327.4 723.1 326.7 C725.7 326.0 726.3 325.6 730.0 324.1 C733.8 322.7 743.8 320.0 745.5 318.1 C747.3 316.2 740.4 314.5 740.4 312.9 C740.4 311.4 743.8 309.6 745.5 308.6 C747.3 307.6 750.8 308.2 750.7 306.9 C750.6 305.6 725.9 302.2 745.0 300.9 C764.1 299.6 845.4 285.5 865.5 299.2 C885.6 312.8 868.1 369.2 865.5 382.7 C862.9 396.2 853.5 381.4 850.0 380.1 C846.6 378.8 846.9 376.4 844.9 374.9 C842.9 373.5 840.3 372.3 838.0 371.5 C835.7 370.6 833.4 370.3 831.1 369.8 C828.8 369.2 826.5 369.0 824.2 368.0 C821.9 367.0 819.6 365.0 817.3 363.7 C815.0 362.4 813.3 361.4 810.4 360.3 C807.6 359.1 803.5 358.0 800.1 356.8 C796.7 355.7 793.2 354.4 789.8 353.4 C786.3 352.4 782.3 351.5 779.4 350.8 C776.6 350.1 774.8 349.8 772.5 349.1 C770.3 348.4 768.0 347.3 765.7 346.5 C763.4 345.7 761.1 344.8 758.8 344.3 C756.5 343.8 754.2 343.5 751.9 343.6 C749.6 343.7 746.1 344.5 745.0 344.8 C743.9 345.1 746.9 344.9 745.5 345.7 C744.2 346.4 739.8 348.2 736.9 349.1 C734.1 350.0 731.2 350.6 728.3 350.8 C725.4 351.1 722.3 350.9 719.7 350.5 C717.1 350.0 714.2 349.3 712.8 348.2 C711.4 347.1 711.4 345.9 711.1 343.9 C710.8 341.9 712.0 338.1 711.1 336.2 C710.2 334.3 707.9 333.9 705.9 332.7 C703.9 331.6 699.3 330.2 699.0 329.3Z" fill="#96d2fa"/>
<path d="M747.3 322.4 C747.3 321.4 750.8 320.3 750.7 319.8 C750.6 319.4 746.8 320.1 746.7 319.8 C746.6 319.5 748.7 318.7 750.2 318.1 C751.6 317.5 753.3 317.0 755.3 316.4 C757.3 315.8 759.6 315.2 762.2 314.7 C764.8 314.1 768.0 313.9 770.8 313.3 C773.7 312.7 776.9 312.0 779.4 311.2 C782.0 310.4 784.6 309.8 786.3 308.6 C788.0 307.5 788.8 305.9 789.8 304.3 C790.8 302.8 779.7 300.0 792.4 299.2 C805.0 298.3 853.3 293.1 865.5 299.2 C877.7 305.2 868.7 329.4 865.5 335.3 C862.4 341.3 850.9 334.7 846.6 335.0 C842.3 335.3 842.3 336.6 839.7 337.0 C837.1 337.5 834.2 337.8 831.1 337.9 C827.9 338.1 824.2 337.7 820.8 337.9 C817.3 338.1 813.9 338.8 810.4 339.1 C807.0 339.4 803.5 339.7 800.1 339.6 C796.7 339.5 793.2 338.9 789.8 338.4 C786.3 338.0 782.6 337.7 779.4 337.0 C776.3 336.4 773.7 335.5 770.8 334.5 C768.0 333.5 764.8 332.0 762.2 331.0 C759.6 330.0 757.3 329.2 755.3 328.4 C753.3 327.7 751.6 327.3 750.2 326.7 C748.7 326.1 746.6 325.1 746.7 325.0 C746.8 324.8 750.6 326.3 750.7 325.9 C750.8 325.4 747.3 323.4 747.3 322.4Z" fill="#50a5f5"/>
<path d="M767.4 321.5 C767.4 320.7 770.3 319.1 772.5 318.1 C774.8 317.1 778.3 316.2 781.2 315.5 C784.0 314.8 787.8 314.8 789.8 313.8 C791.8 312.8 792.1 311.1 793.2 309.5 C794.4 307.9 795.2 305.6 796.7 304.3 C798.1 303.0 799.0 302.2 801.8 301.7 C804.7 301.3 810.4 301.6 813.9 301.7 C817.3 301.9 820.2 301.7 822.5 302.6 C824.8 303.5 826.2 305.5 827.6 306.9 C829.1 308.3 829.9 309.8 831.1 311.2 C832.2 312.7 834.1 314.2 834.5 315.5 C835.0 316.8 834.8 318.1 833.7 319.0 C832.5 319.8 830.4 320.1 827.6 320.7 C824.9 321.3 821.0 321.8 817.3 322.4 C813.6 323.0 809.3 323.8 805.3 324.1 C801.2 324.5 796.9 324.7 793.2 324.6 C789.5 324.6 786.3 323.9 782.9 323.6 C779.4 323.3 775.1 323.3 772.5 322.9 C770.0 322.6 767.4 322.4 767.4 321.5Z" fill="#2882f0"/>
<ellipse cx="809.0" cy="309.5" rx="9.5" ry="5.8" fill="#1464d2"/>
<path d="M745.0 299.2 C737.7 300.5 744.3 306.1 745.0 307.4 C745.7 308.8 747.9 306.8 749.3 307.4 C750.7 308.1 751.7 310.1 753.6 311.2 C755.5 312.4 757.9 313.9 760.5 314.3 C763.1 314.7 766.2 314.3 769.1 313.8 C772.0 313.3 775.1 312.1 777.7 311.2 C780.3 310.4 782.9 309.8 784.6 308.6 C786.3 307.5 787.3 305.9 788.0 304.3 C788.8 302.8 796.1 300.0 788.9 299.2 C781.7 298.3 752.3 297.8 745.0 299.2Z" fill="#e1ffff"/>
<path d="M753.6 304.3 C753.9 303.3 754.8 302.6 756.2 301.7 C757.6 300.9 758.3 299.9 762.2 299.5 C766.1 299.1 775.6 299.1 779.4 299.5 C783.3 299.9 784.3 300.9 785.5 301.7 C786.6 302.6 787.0 303.5 786.3 304.7 C785.6 305.8 783.2 307.5 781.2 308.6 C779.2 309.7 776.9 310.6 774.3 311.2 C771.7 311.9 768.2 312.6 765.7 312.6 C763.1 312.6 760.6 312.0 758.8 311.2 C756.9 310.5 755.3 309.3 754.5 308.1 C753.6 307.0 753.3 305.4 753.6 304.3Z" fill="#ffffff"/>
<path d="M761.4 306.1 C761.6 305.1 762.4 304.1 763.9 303.5 C765.5 302.8 768.7 302.4 770.8 302.3 C773.0 302.2 775.7 302.5 776.9 303.0 C778.0 303.4 778.3 304.4 777.7 305.2 C777.1 306.0 775.1 307.1 773.4 307.8 C771.7 308.4 769.2 308.9 767.4 309.2 C765.5 309.4 763.2 309.7 762.2 309.2 C761.2 308.6 761.1 307.0 761.4 306.1Z" fill="#fffaaa"/>
<path d="M831.6 301.0 L833.4 305.9 L837.2 310.5 L842.1 315.1 L847.7 318.6 L853.4 320.0 L853.4 301.0Z" fill="#96d2fa"/>
<path d="M834.4 301.0 C831.5 302.0 835.2 304.9 836.2 306.6 C837.1 308.4 838.6 310.0 840.0 311.6 C841.5 313.1 843.2 314.6 844.9 315.8 C846.6 316.9 848.8 318.0 850.2 318.6 C851.6 319.1 852.8 322.1 853.4 319.1 C853.9 316.2 856.5 304.0 853.4 301.0 C850.2 298.0 837.3 300.1 834.4 301.0Z" fill="#e1ffff"/>
<path d="M835.9 301.0 C833.4 302.1 837.0 305.5 837.9 307.3 C838.8 309.2 840.1 310.9 841.4 312.3 C842.7 313.7 844.1 314.8 845.6 315.8 C847.2 316.8 849.3 317.8 850.6 318.2 C851.8 318.7 852.9 321.4 853.4 318.6 C853.8 315.7 856.3 303.9 853.4 301.0 C850.5 298.1 838.5 300.0 835.9 301.0Z" fill="#ffffff"/>
<path d="M841.4 307.3 C841.3 306.2 841.5 304.7 842.1 303.8 C842.7 303.0 843.8 302.4 844.9 302.1 C846.1 301.8 847.7 301.7 849.1 302.1 C850.6 302.5 852.7 302.2 853.4 304.5 C854.1 306.8 854.1 314.0 853.4 315.8 C852.7 317.6 850.4 315.8 849.1 315.4 C847.9 315.1 846.7 314.4 845.6 313.7 C844.6 312.9 843.5 311.9 842.8 310.9 C842.1 309.8 841.5 308.5 841.4 307.3Z" fill="#fffaaa"/>
<path d="M842.8 308.7 C842.8 308.0 842.9 306.9 843.5 306.3 C844.1 305.7 845.2 305.4 846.3 305.2 C847.5 305.1 849.4 305.4 850.6 305.6 C851.7 305.8 852.9 305.0 853.4 306.6 C853.8 308.3 853.9 314.0 853.4 315.4 C852.8 316.8 851.0 315.5 849.8 315.1 C848.7 314.7 847.3 313.7 846.3 313.0 C845.3 312.3 844.5 311.6 843.9 310.9 C843.3 310.1 842.9 309.5 842.8 308.7Z" fill="#ffc03c"/>
<path d="M846.0 309.1 C846.0 308.6 846.3 308.2 847.0 308.0 C847.8 307.9 849.5 307.9 850.6 308.0 C851.6 308.2 852.9 308.2 853.4 309.1 C853.8 310.0 853.8 312.5 853.4 313.3 C852.9 314.1 851.4 314.1 850.6 314.0 C849.7 313.9 849.1 313.1 848.4 312.6 C847.8 312.1 847.1 311.4 846.7 310.9 C846.3 310.3 845.9 309.6 846.0 309.1Z" fill="#ff6000"/>
<path d="M368.4 316.4 C369.3 301.2 371.9 313.6 373.6 312.9 C375.3 312.3 377.2 312.2 378.8 312.6 C380.4 313.0 381.6 314.3 383.1 315.5 C384.5 316.7 385.5 318.8 387.4 319.8 C389.2 320.8 391.8 321.0 394.3 321.5 C396.7 322.1 399.4 322.4 402.0 323.3 C404.6 324.1 407.3 325.7 409.8 326.7 C412.2 327.7 414.1 328.4 416.7 329.3 C419.2 330.2 422.4 331.1 425.3 331.9 C428.1 332.7 431.0 333.2 433.9 333.9 C436.7 334.7 439.6 335.5 442.5 336.2 C445.4 336.8 447.9 337.2 451.1 337.9 C454.2 338.6 458.0 339.4 461.4 340.1 C464.9 340.9 468.3 341.6 471.8 342.2 C475.2 342.8 478.2 343.1 482.1 343.6 C486.0 344.1 491.1 344.8 495.0 345.1 C498.9 345.5 501.9 345.4 505.3 345.7 C508.8 345.9 511.6 346.4 515.7 346.5 C519.7 346.7 525.4 346.5 529.4 346.5 C533.5 346.5 536.3 346.7 539.8 346.5 C543.2 346.4 546.1 345.9 550.1 345.7 C554.1 345.4 559.3 345.1 563.9 344.8 C568.5 344.5 573.1 344.2 577.6 343.9 C582.2 343.6 585.1 343.2 591.4 343.1 C597.7 342.9 611.5 343.0 615.5 343.1 C619.5 343.2 614.0 343.4 615.5 343.6 C617.1 343.8 622.3 343.9 625.0 344.3 C627.7 344.6 629.6 345.6 631.9 345.7 C634.2 345.7 636.5 344.7 638.8 344.5 C641.1 344.2 643.7 344.0 645.7 344.5 C647.7 344.9 649.7 346.2 650.8 347.4 C652.0 348.6 652.5 350.1 652.5 351.7 C652.5 353.3 652.3 355.6 650.8 356.8 C649.4 358.1 646.5 358.5 643.9 359.1 C641.4 359.7 637.9 359.9 635.3 360.3 C632.7 360.7 630.2 360.6 628.4 361.5 C626.7 362.4 626.3 364.1 625.0 365.5 C623.7 366.8 621.9 368.2 620.7 369.8 C619.5 371.3 618.3 372.9 617.6 374.9 C616.9 376.9 617.0 379.8 616.4 381.8 C615.8 383.8 615.1 385.6 613.8 387.0 C612.5 388.4 610.4 389.6 608.6 390.1 C606.9 390.6 605.1 390.5 603.5 390.1 C601.9 389.7 600.3 388.8 599.2 387.8 C598.0 386.9 597.9 385.0 596.6 384.4 C595.3 383.8 593.4 384.0 591.4 384.4 C589.4 384.8 586.8 386.1 584.5 387.0 C582.2 387.8 579.9 388.4 577.6 389.6 C575.4 390.7 572.8 392.3 570.8 393.9 C568.8 395.4 567.3 397.5 565.6 399.0 C563.9 400.6 562.4 401.9 560.4 403.3 C558.4 404.8 555.8 406.4 553.5 407.6 C551.2 408.9 549.0 410.1 546.7 411.1 C544.4 412.1 542.1 413.5 539.8 413.7 C537.5 413.8 534.9 413.0 532.9 411.9 C530.9 410.9 529.2 409.4 527.7 407.6 C526.3 405.9 525.3 403.6 524.3 401.6 C523.3 399.6 522.3 397.7 521.7 395.6 C521.1 393.4 520.9 390.5 520.5 388.7 C520.1 386.9 520.2 385.5 519.1 384.9 C518.0 384.3 515.9 384.9 513.9 385.3 C511.9 385.7 509.3 386.6 507.1 387.3 C504.8 388.0 502.2 388.9 500.2 389.6 C498.2 390.2 496.9 390.6 495.0 391.3 C493.1 392.0 490.7 393.2 489.0 393.9 C487.3 394.6 485.7 393.9 484.7 395.6 C483.7 397.3 483.4 401.0 482.9 404.2 C482.5 407.4 482.8 411.7 482.1 414.5 C481.4 417.4 480.4 419.4 478.6 421.4 C476.9 423.4 473.8 425.5 471.8 426.6 C469.7 427.7 468.3 428.1 466.6 428.0 C464.9 427.8 463.4 426.5 461.4 425.7 C459.4 424.9 456.8 424.1 454.5 423.1 C452.2 422.1 449.7 421.1 447.6 419.7 C445.6 418.3 444.2 416.3 442.5 414.5 C440.8 412.8 439.0 410.9 437.3 409.4 C435.6 407.8 433.9 406.0 432.2 405.1 C430.4 404.1 428.6 403.6 427.0 403.9 C425.4 404.1 424.0 405.3 422.7 406.8 C421.4 408.3 420.4 410.4 419.2 412.8 C418.1 415.2 416.9 418.5 415.8 421.4 C414.6 424.3 413.5 427.7 412.4 430.0 C411.2 432.3 409.9 434.1 408.9 435.2 C407.9 436.3 407.2 436.7 406.3 436.6 C405.5 436.4 404.5 435.7 403.7 434.3 C403.0 433.0 402.5 431.0 402.0 428.3 C401.5 425.6 401.2 421.4 400.8 418.0 C400.4 414.5 400.0 410.8 399.4 407.6 C398.9 404.5 398.4 400.6 397.7 399.0 C397.0 397.5 396.0 397.6 395.1 398.2 C394.3 398.7 393.6 401.2 392.5 402.5 C391.5 403.8 390.8 405.2 389.1 405.9 C387.4 406.6 384.5 406.5 382.2 406.8 C379.9 407.1 377.1 407.8 375.3 407.6 C373.6 407.5 373.0 406.5 371.9 405.9 C370.7 405.3 369.0 419.1 368.4 404.2 C367.9 389.3 367.6 331.6 368.4 316.4Z" fill="#fffaaa"/>
<path d="M368.4 327.6 C369.3 324.1 372.2 330.0 373.6 330.2 C375.0 330.3 375.8 329.5 377.1 328.4 C378.3 327.3 380.2 323.8 381.4 323.6 C382.5 323.5 382.6 326.3 383.9 327.6 C385.2 328.8 387.4 330.6 389.1 331.0 C390.8 331.5 392.1 329.6 394.3 330.2 C396.4 330.7 399.4 333.5 402.0 334.5 C404.6 335.5 407.3 335.7 409.8 336.2 C412.2 336.7 414.1 337.0 416.7 337.4 C419.2 337.8 422.4 338.3 425.3 338.8 C428.1 339.2 431.0 339.7 433.9 340.1 C436.7 340.6 439.6 340.9 442.5 341.4 C445.4 341.8 447.9 342.2 451.1 342.7 C454.2 343.2 458.0 343.8 461.4 344.3 C464.9 344.8 468.3 345.2 471.8 345.7 C475.2 346.1 478.2 346.5 482.1 347.0 C486.0 347.5 491.1 348.4 495.0 348.8 C498.9 349.2 501.9 349.2 505.3 349.4 C508.8 349.7 511.6 350.2 515.7 350.5 C519.7 350.7 525.4 350.8 529.4 350.8 C533.5 350.8 536.3 350.7 539.8 350.5 C543.2 350.2 546.1 349.7 550.1 349.4 C554.1 349.2 559.3 349.0 563.9 348.8 C568.5 348.5 573.1 348.0 577.6 347.7 C582.2 347.5 587.4 347.4 591.4 347.4 C595.4 347.4 598.3 347.3 601.8 347.7 C605.2 348.2 609.2 349.0 612.1 350.0 C615.0 350.9 617.1 352.3 619.0 353.4 C620.8 354.6 622.6 355.8 623.3 356.8 C624.0 357.9 624.0 358.4 623.3 359.4 C622.6 360.4 620.6 361.7 619.0 362.9 C617.4 364.0 615.8 365.3 613.8 366.3 C611.8 367.3 609.2 368.2 606.9 368.9 C604.6 369.6 602.3 369.8 600.0 370.6 C597.7 371.4 595.4 372.5 593.1 373.5 C590.8 374.6 588.8 375.7 586.3 376.6 C583.7 377.6 580.2 378.4 577.6 379.2 C575.1 380.1 572.8 380.7 570.8 381.8 C568.8 383.0 567.0 384.7 565.6 386.1 C564.2 387.6 563.6 388.8 562.2 390.4 C560.7 392.0 559.0 394.2 557.0 395.6 C555.0 397.0 552.4 398.2 550.1 399.0 C547.8 399.9 545.5 400.6 543.2 400.8 C540.9 400.9 538.3 400.5 536.3 399.9 C534.3 399.3 532.6 398.6 531.2 397.3 C529.7 396.0 528.6 394.2 527.7 392.1 C526.9 390.1 526.7 387.1 526.0 385.3 C525.3 383.4 524.6 381.8 523.4 381.0 C522.3 380.1 521.0 379.9 519.1 380.1 C517.2 380.2 514.8 381.2 512.2 381.8 C509.6 382.4 506.5 382.9 503.6 383.5 C500.7 384.2 497.4 385.0 495.0 385.6 C492.6 386.2 490.8 386.3 489.0 387.0 C487.1 387.6 485.8 388.7 483.8 389.6 C481.8 390.4 479.2 391.3 476.9 392.1 C474.6 393.0 472.0 393.9 470.0 394.7 C468.0 395.6 466.3 396.2 464.9 397.3 C463.4 398.5 462.6 400.5 461.4 401.6 C460.3 402.7 459.4 403.7 458.0 403.9 C456.5 404.0 454.5 403.3 452.8 402.5 C451.1 401.6 449.1 400.0 447.6 398.7 C446.2 397.4 445.4 396.0 444.2 394.7 C443.1 393.5 442.5 392.3 440.8 391.3 C439.0 390.2 436.5 388.9 433.9 388.4 C431.3 387.8 428.1 388.1 425.3 387.8 C422.4 387.6 419.0 387.6 416.7 387.0 C414.4 386.4 413.1 385.3 411.5 384.4 C409.9 383.5 408.5 381.8 407.2 381.8 C405.9 381.8 404.9 384.4 403.7 384.4 C402.6 384.4 401.4 382.8 400.3 381.8 C399.2 380.8 398.4 378.9 396.9 378.4 C395.3 377.8 392.7 378.9 390.8 378.4 C389.0 377.8 387.4 376.1 385.7 374.9 C383.9 373.8 381.9 373.2 380.5 371.5 C379.1 369.8 378.2 366.6 377.1 364.6 C375.9 362.6 374.5 361.4 373.6 359.4 C372.7 357.4 372.7 354.0 371.9 352.5 C371.0 351.1 369.0 355.0 368.4 350.8 C367.9 346.7 367.6 331.0 368.4 327.6Z" fill="#ffc03c"/>
<path d="M377.9 382.7 C378.2 381.4 379.1 384.0 379.6 385.3 C380.1 386.5 380.8 388.8 380.8 390.4 C380.8 392.0 380.1 394.3 379.6 394.7 C379.1 395.2 378.2 395.0 377.9 393.0 C377.6 391.0 377.6 384.0 377.9 382.7Z" fill="#ffc03c"/>
<path d="M405.5 399.0 C406.2 398.0 407.9 397.7 408.9 397.8 C409.9 398.0 411.0 398.5 411.5 399.9 C412.0 401.2 412.0 404.1 411.8 405.9 C411.7 407.8 411.4 409.9 410.6 411.1 C409.9 412.2 408.1 413.1 407.2 412.8 C406.2 412.5 405.4 410.8 404.9 409.4 C404.5 407.9 404.2 405.9 404.3 404.2 C404.3 402.5 404.7 400.1 405.5 399.0Z" fill="#ffc03c"/>
<path d="M381.4 341.4 C382.0 340.4 382.9 339.9 383.9 340.1 C384.9 340.4 386.4 341.6 387.4 343.1 C388.4 344.6 389.5 346.4 390.0 349.1 C390.4 351.8 390.3 356.7 390.0 359.4 C389.7 362.2 389.0 364.3 388.2 365.5 C387.5 366.7 386.5 367.2 385.7 366.7 C384.8 366.1 383.8 364.1 383.1 362.0 C382.4 359.9 381.8 357.0 381.4 354.3 C380.9 351.5 380.2 347.8 380.2 345.7 C380.2 343.5 380.7 342.3 381.4 341.4Z" fill="#ff6000"/>
<path d="M395.1 349.1 C395.3 348.1 395.8 346.9 396.9 346.5 C397.9 346.1 399.0 346.3 401.2 346.5 C403.3 346.7 407.2 347.4 409.8 347.7 C412.4 348.0 414.1 348.0 416.7 348.2 C419.2 348.5 422.4 349.1 425.3 349.4 C428.1 349.8 431.0 350.2 433.9 350.5 C436.7 350.8 439.6 350.9 442.5 351.2 C445.4 351.5 447.9 351.7 451.1 352.2 C454.2 352.7 458.0 353.4 461.4 353.9 C464.9 354.4 468.3 354.8 471.8 355.1 C475.2 355.5 478.2 355.9 482.1 356.0 C486.0 356.1 491.4 355.6 495.0 355.6 C498.6 355.6 500.7 355.7 503.6 356.0 C506.5 356.3 509.3 357.0 512.2 357.4 C515.1 357.7 518.0 357.8 520.8 358.1 C523.7 358.3 526.3 358.9 529.4 359.1 C532.6 359.3 536.3 359.3 539.8 359.1 C543.2 358.9 546.7 358.5 550.1 358.1 C553.5 357.6 557.3 356.8 560.4 356.3 C563.6 355.8 566.2 355.3 569.0 355.1 C571.9 354.9 575.1 355.0 577.6 355.1 C580.2 355.2 582.7 355.2 584.5 355.6 C586.4 356.1 588.0 357.3 588.8 358.1 C589.7 358.8 589.8 359.5 589.7 360.3 C589.6 361.1 589.4 361.9 588.0 362.9 C586.5 363.9 583.4 365.5 581.1 366.3 C578.8 367.2 576.5 367.3 574.2 368.0 C571.9 368.8 569.0 369.5 567.3 370.6 C565.6 371.8 565.6 373.8 563.9 374.9 C562.2 376.1 559.3 376.9 557.0 377.5 C554.7 378.1 552.4 378.3 550.1 378.7 C547.8 379.1 545.5 379.7 543.2 379.7 C540.9 379.7 538.6 379.1 536.3 378.7 C534.0 378.3 532.0 377.9 529.4 377.5 C526.9 377.2 523.7 376.6 520.8 376.6 C518.0 376.6 515.1 377.3 512.2 377.5 C509.3 377.7 506.5 378.1 503.6 378.0 C500.7 377.9 497.4 377.2 495.0 377.0 C492.6 376.8 491.1 376.5 489.0 376.6 C486.8 376.8 482.7 377.7 482.1 378.0 C481.5 378.4 487.8 378.8 485.5 378.7 C483.2 378.6 472.3 377.6 468.3 377.5 C464.3 377.4 463.7 377.7 461.4 378.0 C459.1 378.4 456.8 379.4 454.5 379.7 C452.2 380.1 449.9 380.3 447.6 380.1 C445.4 379.9 443.1 379.1 440.8 378.7 C438.5 378.3 435.9 377.8 433.9 377.5 C431.9 377.2 430.7 377.2 428.7 377.0 C426.7 376.8 423.8 377.1 421.8 376.3 C419.8 375.5 418.4 373.7 416.7 372.3 C414.9 371.0 413.2 369.5 411.5 368.0 C409.8 366.6 407.9 365.0 406.3 363.7 C404.7 362.4 403.3 361.6 402.0 360.3 C400.7 359.0 399.6 357.3 398.6 356.0 C397.6 354.7 396.6 353.7 396.0 352.5 C395.4 351.4 395.0 350.1 395.1 349.1Z" fill="#ff6000"/>
<path d="M373.6 343.1 L375.0 343.9 L375.0 349.1 L374.0 349.1Z" fill="#ff6000"/>
<path d="M511.4 369.8 C511.6 369.0 512.9 368.3 513.9 368.0 C514.9 367.8 516.7 368.0 517.4 368.4 C518.1 368.8 518.5 369.8 518.2 370.6 C518.0 371.4 516.7 372.8 515.7 373.2 C514.7 373.6 512.9 373.4 512.2 372.9 C511.5 372.3 511.1 370.6 511.4 369.8Z" fill="#e11400"/>
</g>
<line x1="402.2" y1="301.6" x2="402.2" y2="440.5" class="gr"/>
<line x1="434.7" y1="301.6" x2="434.7" y2="440.5" class="gr"/>
<line x1="467.2" y1="301.6" x2="467.2" y2="440.5" class="gr"/>
<line x1="499.7" y1="301.6" x2="499.7" y2="440.5" class="gr"/>
<line x1="532.2" y1="301.6" x2="532.2" y2="440.5" class="gr"/>
<line x1="564.7" y1="301.6" x2="564.7" y2="440.5" class="gr"/>
<line x1="597.2" y1="301.6" x2="597.2" y2="440.5" class="gr"/>
<line x1="629.7" y1="301.6" x2="629.7" y2="440.5" class="gr"/>
<line x1="662.2" y1="301.6" x2="662.2" y2="440.5" class="gr"/>
<line x1="694.7" y1="301.6" x2="694.7" y2="440.5" class="gr"/>
<line x1="727.2" y1="301.6" x2="727.2" y2="440.5" class="gr"/>
<line x1="759.7" y1="301.6" x2="759.7" y2="440.5" class="gr"/>
<line x1="792.2" y1="301.6" x2="792.2" y2="440.5" class="gr"/>
<line x1="824.7" y1="301.6" x2="824.7" y2="440.5" class="gr"/>
<line x1="369.7" y1="321.5" x2="857.3" y2="321.5" class="gr"/>
<line x1="369.7" y1="345.1" x2="857.3" y2="345.1" class="gr"/>
<line x1="369.7" y1="368.7" x2="857.3" y2="368.7" class="gr"/>
<line x1="369.7" y1="392.3" x2="857.3" y2="392.3" class="gr"/>
<line x1="369.7" y1="415.9" x2="857.3" y2="415.9" class="gr"/>
<line x1="369.7" y1="439.0" x2="857.3" y2="439.0" class="gr"/>
<rect x="369.7" y="300.6" width="487.6" height="139.9" fill="none" stroke="#000" stroke-width="1.5"/>
<line x1="369.7" y1="440.5" x2="369.7" y2="443.5" stroke="#000" stroke-width="1"/>
<text x="370.5" y="451.8" font-size="8.50" text-anchor="middle" font-weight="normal" fill="#000" textLength="19.6" lengthAdjust="spacing" stroke="#000" stroke-width="0.15">130E</text>
<line x1="402.2" y1="440.5" x2="402.2" y2="443.5" stroke="#000" stroke-width="1"/>
<text x="403.0" y="451.8" font-size="8.50" text-anchor="middle" font-weight="normal" fill="#000" textLength="19.6" lengthAdjust="spacing" stroke="#000" stroke-width="0.15">140E</text>
<line x1="434.7" y1="440.5" x2="434.7" y2="443.5" stroke="#000" stroke-width="1"/>
<text x="435.5" y="451.8" font-size="8.50" text-anchor="middle" font-weight="normal" fill="#000" textLength="19.6" lengthAdjust="spacing" stroke="#000" stroke-width="0.15">150E</text>
<line x1="467.2" y1="440.5" x2="467.2" y2="443.5" stroke="#000" stroke-width="1"/>
<text x="468.0" y="451.8" font-size="8.50" text-anchor="middle" font-weight="normal" fill="#000" textLength="19.6" lengthAdjust="spacing" stroke="#000" stroke-width="0.15">160E</text>
<line x1="499.7" y1="440.5" x2="499.7" y2="443.5" stroke="#000" stroke-width="1"/>
<text x="500.5" y="451.8" font-size="8.50" text-anchor="middle" font-weight="normal" fill="#000" textLength="19.6" lengthAdjust="spacing" stroke="#000" stroke-width="0.15">170E</text>
<line x1="532.2" y1="440.5" x2="532.2" y2="443.5" stroke="#000" stroke-width="1"/>
<text x="533.0" y="451.8" font-size="8.50" text-anchor="middle" font-weight="normal" fill="#000" textLength="14.3" lengthAdjust="spacing" stroke="#000" stroke-width="0.15">180</text>
<line x1="564.7" y1="440.5" x2="564.7" y2="443.5" stroke="#000" stroke-width="1"/>
<text x="565.5" y="451.8" font-size="8.50" text-anchor="middle" font-weight="normal" fill="#000" textLength="19.6" lengthAdjust="spacing" stroke="#000" stroke-width="0.15">170W</text>
<line x1="597.2" y1="440.5" x2="597.2" y2="443.5" stroke="#000" stroke-width="1"/>
<text x="598.0" y="451.8" font-size="8.50" text-anchor="middle" font-weight="normal" fill="#000" textLength="19.6" lengthAdjust="spacing" stroke="#000" stroke-width="0.15">160W</text>
<line x1="629.7" y1="440.5" x2="629.7" y2="443.5" stroke="#000" stroke-width="1"/>
<text x="630.5" y="451.8" font-size="8.50" text-anchor="middle" font-weight="normal" fill="#000" textLength="19.6" lengthAdjust="spacing" stroke="#000" stroke-width="0.15">150W</text>
<line x1="662.2" y1="440.5" x2="662.2" y2="443.5" stroke="#000" stroke-width="1"/>
<text x="663.0" y="451.8" font-size="8.50" text-anchor="middle" font-weight="normal" fill="#000" textLength="19.6" lengthAdjust="spacing" stroke="#000" stroke-width="0.15">140W</text>
<line x1="694.7" y1="440.5" x2="694.7" y2="443.5" stroke="#000" stroke-width="1"/>
<text x="695.5" y="451.8" font-size="8.50" text-anchor="middle" font-weight="normal" fill="#000" textLength="19.6" lengthAdjust="spacing" stroke="#000" stroke-width="0.15">130W</text>
<line x1="727.2" y1="440.5" x2="727.2" y2="443.5" stroke="#000" stroke-width="1"/>
<text x="728.0" y="451.8" font-size="8.50" text-anchor="middle" font-weight="normal" fill="#000" textLength="19.6" lengthAdjust="spacing" stroke="#000" stroke-width="0.15">120W</text>
<line x1="759.7" y1="440.5" x2="759.7" y2="443.5" stroke="#000" stroke-width="1"/>
<text x="760.5" y="451.8" font-size="8.50" text-anchor="middle" font-weight="normal" fill="#000" textLength="19.6" lengthAdjust="spacing" stroke="#000" stroke-width="0.15">110W</text>
<line x1="792.2" y1="440.5" x2="792.2" y2="443.5" stroke="#000" stroke-width="1"/>
<text x="793.0" y="451.8" font-size="8.50" text-anchor="middle" font-weight="normal" fill="#000" textLength="19.6" lengthAdjust="spacing" stroke="#000" stroke-width="0.15">100W</text>
<line x1="824.7" y1="440.5" x2="824.7" y2="443.5" stroke="#000" stroke-width="1"/>
<text x="825.5" y="451.8" font-size="8.50" text-anchor="middle" font-weight="normal" fill="#000" textLength="14.3" lengthAdjust="spacing" stroke="#000" stroke-width="0.15">90W</text>
<line x1="857.2" y1="440.5" x2="857.2" y2="443.5" stroke="#000" stroke-width="1"/>
<text x="858.0" y="451.8" font-size="8.50" text-anchor="middle" font-weight="normal" fill="#000" textLength="14.3" lengthAdjust="spacing" stroke="#000" stroke-width="0.15">80W</text>
<line x1="366.2" y1="321.5" x2="369.7" y2="321.5" stroke="#000" stroke-width="1"/>
<text x="365.0" y="324.7" font-size="9.00" text-anchor="end" font-weight="normal" fill="#000" textLength="9.2" lengthAdjust="spacing" stroke="#000" stroke-width="0.15">50</text>
<line x1="366.2" y1="345.1" x2="369.7" y2="345.1" stroke="#000" stroke-width="1"/>
<text x="365.0" y="348.3" font-size="9.00" text-anchor="end" font-weight="normal" fill="#000" textLength="13.8" lengthAdjust="spacing" stroke="#000" stroke-width="0.15">100</text>
<line x1="366.2" y1="368.7" x2="369.7" y2="368.7" stroke="#000" stroke-width="1"/>
<text x="365.0" y="371.9" font-size="9.00" text-anchor="end" font-weight="normal" fill="#000" textLength="13.8" lengthAdjust="spacing" stroke="#000" stroke-width="0.15">150</text>
<line x1="366.2" y1="392.3" x2="369.7" y2="392.3" stroke="#000" stroke-width="1"/>
<text x="365.0" y="395.5" font-size="9.00" text-anchor="end" font-weight="normal" fill="#000" textLength="13.8" lengthAdjust="spacing" stroke="#000" stroke-width="0.15">200</text>
<line x1="366.2" y1="415.9" x2="369.7" y2="415.9" stroke="#000" stroke-width="1"/>
<text x="365.0" y="419.1" font-size="9.00" text-anchor="end" font-weight="normal" fill="#000" textLength="13.8" lengthAdjust="spacing" stroke="#000" stroke-width="0.15">250</text>
<line x1="366.2" y1="439.5" x2="369.7" y2="439.5" stroke="#000" stroke-width="1"/>
<text x="365.0" y="442.7" font-size="9.00" text-anchor="end" font-weight="normal" fill="#000" textLength="13.8" lengthAdjust="spacing" stroke="#000" stroke-width="0.15">300</text>
<text x="613.2" y="293.2" font-size="12.20" text-anchor="middle" font-weight="bold" fill="#000" textLength="277.0" lengthAdjust="spacing" >Three−pentad ave. centered on 18 MAY 2022</text>
<clipPath id="cp3"><rect x="369.7" y="479.8" width="483.3" height="140.1"/></clipPath>
<g clip-path="url(#cp3)">
<path d="M465.7 478.2 C431.4 479.3 467.9 483.0 469.2 485.1 C470.5 487.1 471.9 488.6 473.5 490.2 C475.1 491.8 476.6 493.1 478.6 494.5 C480.7 496.0 483.5 497.2 485.5 498.8 C487.5 500.4 489.1 502.1 490.7 504.0 C492.3 505.9 492.8 508.5 495.0 510.0 C497.2 511.5 500.7 512.2 503.6 512.9 C506.5 513.7 509.1 514.2 512.2 514.7 C515.4 515.1 519.1 515.5 522.5 515.7 C526.0 515.9 529.4 515.9 532.9 515.7 C536.3 515.5 539.8 515.1 543.2 514.7 C546.7 514.2 550.1 513.6 553.5 512.9 C557.0 512.3 560.4 511.5 563.9 510.5 C567.3 509.6 570.8 508.3 574.2 507.4 C577.6 506.6 581.1 506.0 584.5 505.4 C588.0 504.7 589.7 504.2 594.9 503.6 C600.0 503.1 612.1 502.8 615.5 502.3 C619.0 501.8 614.0 501.1 615.5 500.5 C617.1 500.0 622.3 499.2 625.0 498.8 C627.7 498.5 629.6 498.5 631.9 498.5 C634.2 498.5 636.5 498.9 638.8 498.8 C641.1 498.7 643.4 498.3 645.7 498.0 C648.0 497.7 650.3 497.7 652.5 497.1 C654.8 496.5 657.1 495.5 659.4 494.5 C661.7 493.5 664.3 492.4 666.3 491.1 C668.3 489.8 670.2 488.2 671.5 486.8 C672.8 485.3 673.5 483.9 674.1 482.5 C674.6 481.0 709.7 478.9 674.9 478.2 C640.2 477.4 500.0 477.0 465.7 478.2Z" fill="#e1ffff"/>
<path d="M692.2 478.2 C683.0 479.2 692.7 482.6 693.9 484.2 C695.0 485.8 697.0 486.8 699.0 487.6 C701.0 488.5 703.6 489.3 705.9 489.4 C708.2 489.4 710.5 488.7 712.8 488.2 C715.1 487.6 717.4 486.7 719.7 485.9 C722.0 485.1 722.3 483.9 726.6 483.3 C730.9 482.8 742.4 482.8 745.5 482.5 C748.7 482.2 745.0 482.3 745.5 481.6 C746.1 480.9 757.9 478.7 749.0 478.2 C740.1 477.6 701.3 477.2 692.2 478.2Z" fill="#e1ffff"/>
<path d="M684.4 533.3 C685.0 532.5 686.6 531.4 688.7 530.7 C690.9 530.0 694.9 529.1 697.3 529.0 C699.8 528.8 701.9 529.2 703.3 529.8 C704.8 530.4 704.9 532.4 705.9 532.4 C706.9 532.4 707.9 531.1 709.4 529.8 C710.8 528.5 712.5 526.2 714.5 524.7 C716.5 523.1 718.6 521.6 721.4 520.4 C724.3 519.1 728.3 517.9 731.8 516.9 C735.2 515.9 739.2 515.0 742.1 514.3 C745.0 513.7 746.4 513.4 749.0 512.9 C751.6 512.5 756.1 508.8 757.6 511.7 C759.0 514.7 759.0 527.4 757.6 530.7 C756.1 534.0 751.6 531.1 749.0 531.5 C746.4 532.0 742.7 533.1 742.1 533.3 C741.5 533.4 747.8 532.1 745.5 532.4 C743.2 532.7 732.3 534.2 728.3 535.0 C724.3 535.8 723.4 536.5 721.4 537.1 C719.4 537.6 718.0 538.3 716.3 538.1 C714.5 537.9 712.5 536.7 711.1 535.8 C709.7 535.0 708.8 533.4 707.6 533.3 C706.5 533.1 705.6 534.4 704.2 535.0 C702.8 535.6 701.3 536.4 699.0 536.7 C696.7 537.0 692.7 536.9 690.4 536.7 C688.1 536.5 686.3 535.9 685.3 535.3 C684.3 534.8 683.8 534.0 684.4 533.3Z" fill="#e1ffff"/>
<path d="M742.1 500.5 C742.1 499.1 742.7 497.1 743.8 495.4 C745.0 493.7 747.5 491.9 749.0 490.2 C750.4 488.5 751.4 486.2 752.4 485.1 C753.4 483.9 753.9 483.6 755.0 483.3 C756.1 483.0 758.6 479.6 759.3 483.3 C760.0 487.1 760.0 502.0 759.3 505.7 C758.6 509.4 756.7 505.5 755.0 505.4 C753.3 505.2 750.8 505.1 749.0 504.9 C747.1 504.6 745.0 504.7 743.8 504.0 C742.7 503.3 742.1 502.0 742.1 500.5Z" fill="#e1ffff"/>
<path d="M745.0 492.8 C745.7 485.8 747.9 490.0 749.3 488.5 C750.7 487.0 752.0 485.0 753.6 483.7 C755.2 482.4 757.3 481.7 758.8 480.7 C760.2 479.8 744.4 478.6 762.2 478.2 C780.0 477.7 848.3 454.3 865.5 478.2 C882.7 502.0 869.1 597.3 865.5 621.1 C861.9 644.9 848.0 623.1 844.0 621.1 C840.0 619.1 842.4 612.5 841.4 609.0 C840.4 605.6 839.4 603.3 838.0 600.4 C836.5 597.5 834.5 594.4 832.8 591.8 C831.1 589.2 829.4 587.5 827.6 584.9 C825.9 582.3 824.2 579.2 822.5 576.3 C820.8 573.4 818.8 570.6 817.3 567.7 C815.9 564.8 815.0 562.0 813.9 559.1 C812.7 556.2 811.9 552.8 810.4 550.5 C809.0 548.2 807.6 546.5 805.3 545.3 C803.0 544.2 799.5 544.6 796.7 543.6 C793.8 542.6 790.9 540.6 788.0 539.3 C785.2 538.0 782.3 537.1 779.4 535.8 C776.6 534.6 773.7 532.7 770.8 531.5 C768.0 530.4 765.4 529.2 762.2 529.0 C759.1 528.7 754.8 529.5 751.9 529.8 C749.0 530.1 746.1 536.9 745.0 530.7 C743.9 524.5 744.3 499.8 745.0 492.8Z" fill="#e1ffff"/>
<path d="M744.1 506.6 C745.4 504.9 749.2 505.0 751.9 504.9 C754.6 504.7 757.9 505.1 760.5 505.7 C763.1 506.3 765.5 507.3 767.4 508.3 C769.2 509.3 771.7 510.7 771.7 511.7 C771.7 512.7 769.5 514.0 767.4 514.3 C765.2 514.6 761.6 513.5 758.8 513.5 C755.9 513.5 752.6 514.0 750.2 514.3 C747.7 514.6 745.1 516.5 744.1 515.2 C743.1 513.9 742.8 508.3 744.1 506.6Z" fill="#ffffff"/>
<path d="M390.8 621.1 C390.3 618.5 392.0 609.5 392.5 605.6 C393.1 601.7 393.4 598.8 393.9 597.8 C394.4 596.8 395.3 597.4 395.6 599.6 C396.0 601.7 396.0 607.2 396.0 610.7 C396.0 614.3 396.5 619.4 395.6 621.1 C394.8 622.8 391.3 623.7 390.8 621.1Z" fill="#e1ffff"/>
<path d="M507.9 483.3 C507.8 484.2 510.6 484.8 511.4 485.9 C512.1 487.1 512.5 488.6 512.2 490.2 C511.9 491.8 510.5 493.7 509.6 495.4 C508.8 497.1 506.6 499.3 507.1 500.5 C507.5 501.8 509.9 502.6 512.2 503.1 C514.5 503.7 518.0 503.7 520.8 504.0 C523.7 504.3 526.9 504.6 529.4 504.9 C532.0 505.1 533.5 505.4 536.3 505.4 C539.2 505.4 543.5 505.2 546.7 504.9 C549.8 504.5 553.0 504.0 555.3 503.1 C557.6 502.3 559.0 501.0 560.4 499.7 C561.9 498.4 563.2 497.0 563.9 495.4 C564.6 493.8 565.0 491.8 564.7 490.2 C564.4 488.6 563.0 486.8 562.2 485.9 C561.3 485.0 560.7 484.7 559.6 484.7 C558.4 484.7 556.8 486.0 555.3 485.9 C553.7 485.8 551.5 484.9 550.1 484.2 C548.7 483.5 547.8 482.6 546.7 481.6 C545.5 480.6 548.1 478.7 543.2 478.2 C538.3 477.6 522.5 477.7 517.4 478.2 C512.2 478.6 513.8 479.9 512.2 480.7 C510.6 481.6 508.1 482.5 507.9 483.3Z" fill="#96d2fa"/>
<path d="M499.3 481.3 C499.9 480.9 502.0 480.7 503.6 480.7 C505.2 480.8 507.9 481.1 508.8 481.6 C509.6 482.1 509.6 483.4 508.8 483.7 C507.9 484.0 505.1 483.4 503.6 483.3 C502.1 483.2 500.5 483.3 499.8 483.0 C499.1 482.6 498.7 481.6 499.3 481.3Z" fill="#96d2fa"/>
<path d="M612.1 478.2 C610.8 479.3 612.2 483.5 612.9 485.1 C613.7 486.6 615.2 487.5 616.4 487.6 C617.5 487.8 619.1 487.5 619.8 485.9 C620.6 484.3 622.0 479.5 620.7 478.2 C619.4 476.9 613.4 477.0 612.1 478.2Z" fill="#96d2fa"/>
<path d="M746.4 498.8 C746.0 497.8 747.1 496.1 748.1 494.5 C749.1 492.9 751.3 490.6 752.4 489.4 C753.6 488.1 756.1 485.2 755.0 486.8 C753.9 488.4 747.0 497.7 745.9 498.8 C744.8 500.0 747.3 495.5 748.4 493.7 C749.6 491.8 751.3 489.2 752.7 487.6 C754.2 486.1 755.5 484.6 757.1 484.2 C758.6 483.8 760.2 484.2 762.2 485.1 C764.2 485.9 766.8 488.5 769.1 489.4 C771.4 490.2 773.7 490.4 776.0 490.2 C778.3 490.1 780.9 489.5 782.9 488.5 C784.9 487.5 786.6 485.9 788.0 484.2 C789.5 482.5 778.6 479.2 791.5 478.2 C804.4 477.2 853.2 462.5 865.5 478.2 C877.9 493.8 868.4 557.4 865.5 572.0 C862.7 586.6 852.3 567.8 848.3 566.0 C844.3 564.1 843.7 562.1 841.4 560.8 C839.1 559.5 836.8 559.4 834.5 558.2 C832.2 557.1 829.9 555.9 827.6 553.9 C825.4 551.9 822.5 548.8 820.8 546.2 C819.0 543.6 818.5 540.7 817.3 538.4 C816.2 536.1 815.6 534.0 813.9 532.4 C812.2 530.8 809.6 529.8 807.0 529.0 C804.4 528.1 801.0 528.0 798.4 527.2 C795.8 526.5 793.5 525.9 791.5 524.7 C789.5 523.4 788.0 521.4 786.3 519.5 C784.6 517.6 782.9 515.2 781.2 513.5 C779.4 511.7 777.7 510.6 776.0 509.2 C774.3 507.7 773.1 506.1 770.8 504.9 C768.5 503.6 765.1 502.2 762.2 501.4 C759.3 500.6 756.3 500.4 753.6 500.2 C750.9 500.0 746.3 500.1 745.9 500.2 C745.4 500.3 750.6 500.8 750.7 500.5 C750.8 500.3 746.8 499.8 746.4 498.8Z" fill="#96d2fa"/>
<path d="M764.8 482.5 C765.1 481.4 764.1 479.2 767.4 478.5 C770.7 477.8 781.4 477.7 784.6 478.5 C787.8 479.3 786.6 481.8 786.3 483.3 C786.0 484.9 784.6 486.6 782.9 487.6 C781.2 488.6 778.3 489.3 776.0 489.4 C773.7 489.4 770.8 488.9 769.1 488.2 C767.4 487.4 766.4 486.0 765.7 485.1 C764.9 484.1 764.5 483.6 764.8 482.5Z" fill="#ffffff"/>
<path d="M757.1 493.7 C757.3 492.5 758.8 490.9 760.5 490.2 C762.2 489.5 765.1 489.2 767.4 489.4 C769.7 489.5 772.0 490.9 774.3 491.1 C776.6 491.2 778.9 490.9 781.2 490.2 C783.5 489.5 786.2 488.2 788.0 486.8 C789.9 485.3 791.3 483.0 792.4 481.6 C793.4 480.2 781.9 478.7 794.1 478.2 C806.3 477.6 853.6 471.7 865.5 478.2 C877.4 484.6 869.0 510.6 865.5 516.9 C862.1 523.2 849.5 516.0 844.9 516.0 C840.3 516.0 840.8 516.6 838.0 516.9 C835.1 517.3 831.1 518.3 827.6 518.1 C824.2 518.0 820.2 516.2 817.3 516.0 C814.4 515.8 813.0 517.2 810.4 516.9 C807.8 516.6 804.4 515.2 801.8 514.3 C799.2 513.5 796.9 512.9 794.9 511.7 C792.9 510.6 791.5 508.4 789.8 507.4 C788.0 506.4 786.6 506.4 784.6 505.7 C782.6 505.0 780.0 504.1 777.7 503.1 C775.4 502.1 773.1 500.5 770.8 499.7 C768.5 498.8 765.9 498.4 763.9 498.0 C761.9 497.5 759.9 497.8 758.8 497.1 C757.6 496.4 756.8 494.8 757.1 493.7Z" fill="#50a5f5"/>
<path d="M801.0 485.9 C801.2 484.2 801.4 483.8 803.5 483.3 C805.7 482.9 811.3 482.9 813.9 483.3 C816.5 483.8 817.3 484.5 819.0 485.9 C820.8 487.3 822.8 490.2 824.2 491.9 C825.6 493.7 827.6 495.0 827.6 496.2 C827.6 497.5 825.9 499.0 824.2 499.7 C822.5 500.4 819.5 500.1 817.3 500.5 C815.2 501.0 813.3 502.6 811.3 502.3 C809.3 502.0 806.8 500.3 805.3 498.8 C803.7 497.4 802.9 495.8 802.2 493.7 C801.4 491.5 800.7 487.6 801.0 485.9Z" fill="#2882f0"/>
<path d="M826.0 480.0 L827.0 484.2 L830.2 487.4 L835.1 490.9 L839.3 494.4 L844.9 497.6 L853.4 499.0 L853.4 480.0Z" fill="#96d2fa"/>
<path d="M832.6 480.0 C829.4 481.0 833.2 484.2 834.1 486.0 C834.9 487.7 836.5 489.0 837.9 490.6 C839.3 492.1 840.8 493.9 842.5 495.1 C844.1 496.3 845.9 497.1 847.7 497.6 C849.6 498.1 852.4 501.1 853.4 498.1 C854.3 495.2 856.8 483.0 853.4 480.0 C849.9 477.0 835.9 479.0 832.6 480.0Z" fill="#e1ffff"/>
<path d="M834.3 480.0 C831.3 481.1 835.0 484.6 835.8 486.3 C836.6 488.1 838.0 489.1 839.3 490.6 C840.6 492.0 842.0 493.7 843.5 494.8 C845.1 495.9 846.8 496.8 848.4 497.2 C850.1 497.7 852.5 500.4 853.4 497.6 C854.2 494.7 856.5 482.9 853.4 480.0 C850.2 477.1 837.2 479.0 834.3 480.0Z" fill="#ffffff"/>
<path d="M841.1 488.1 C841.0 487.5 841.7 486.7 842.8 486.3 C843.9 486.0 846.0 485.9 847.7 486.0 C849.5 486.1 852.4 485.8 853.4 487.0 C854.3 488.3 853.8 491.9 853.4 493.4 C852.9 494.8 851.4 495.5 850.6 495.8 C849.7 496.2 849.1 496.0 848.4 495.5 C847.7 494.9 847.2 493.5 846.3 492.7 C845.5 491.8 844.4 491.0 843.5 490.2 C842.7 489.4 841.2 488.7 841.1 488.1Z" fill="#fffaaa"/>
<path d="M842.5 488.4 C842.4 487.9 842.9 487.3 843.9 487.0 C844.9 486.7 846.9 486.5 848.4 486.7 C850.0 486.9 852.5 487.2 853.4 488.1 C854.2 489.0 853.8 491.0 853.4 492.0 C853.0 493.0 851.6 493.5 850.9 494.1 C850.2 494.6 849.7 495.1 849.1 495.1 C848.6 495.1 848.2 494.6 847.7 494.1 C847.3 493.5 847.3 492.2 846.7 491.6 C846.1 491.0 844.9 490.7 844.2 490.2 C843.5 489.7 842.5 489.0 842.5 488.4Z" fill="#ffc03c"/>
<path d="M722.3 498.5 C721.7 497.8 723.0 495.7 724.0 494.5 C725.0 493.4 726.7 492.2 728.3 491.6 C729.9 491.0 730.6 490.7 733.5 491.1 C736.3 491.4 745.7 492.7 745.5 493.7 C745.4 494.7 735.6 496.2 732.6 497.1 C729.6 498.0 729.2 498.6 727.5 498.8 C725.7 499.1 722.9 499.2 722.3 498.5Z" fill="#fffaaa"/>
<path d="M368.4 485.1 C369.3 465.1 371.9 487.5 373.6 488.5 C375.3 489.5 377.1 489.9 378.8 491.1 C380.5 492.2 381.9 494.1 383.9 495.4 C385.9 496.7 388.5 497.8 390.8 498.8 C393.1 499.8 395.8 500.5 397.7 501.4 C399.6 502.3 400.0 502.8 402.0 504.0 C404.0 505.1 407.3 507.2 409.8 508.3 C412.2 509.4 414.1 510.1 416.7 510.9 C419.2 511.7 422.4 512.3 425.3 512.9 C428.1 513.6 431.0 514.0 433.9 514.7 C436.7 515.3 439.6 516.2 442.5 516.9 C445.4 517.6 447.9 518.0 451.1 518.6 C454.2 519.3 458.0 520.2 461.4 520.9 C464.9 521.5 468.3 522.2 471.8 522.6 C475.2 523.0 478.2 523.2 482.1 523.3 C486.0 523.4 491.1 523.2 495.0 523.3 C498.9 523.4 501.9 523.6 505.3 523.8 C508.8 524.0 511.6 524.1 515.7 524.3 C519.7 524.5 524.8 524.8 529.4 525.0 C534.0 525.2 539.2 525.6 543.2 525.5 C547.2 525.5 550.1 525.1 553.5 524.7 C557.0 524.2 560.4 523.6 563.9 522.9 C567.3 522.3 570.8 521.6 574.2 520.9 C577.6 520.2 581.1 519.3 584.5 518.6 C588.0 518.0 589.7 517.3 594.9 516.9 C600.0 516.5 612.1 516.3 615.5 516.0 C619.0 515.8 614.0 515.5 615.5 515.2 C617.1 514.9 621.7 514.3 625.0 514.3 C628.3 514.3 631.9 515.2 635.3 515.2 C638.8 515.1 642.2 514.1 645.7 514.0 C649.1 513.8 653.1 513.8 656.0 514.3 C658.9 514.8 661.3 515.9 662.9 516.9 C664.5 517.9 665.2 519.1 665.5 520.4 C665.8 521.6 665.6 523.2 664.6 524.7 C663.6 526.1 661.4 527.5 659.4 529.0 C657.4 530.4 654.8 531.7 652.5 533.3 C650.3 534.8 648.0 536.9 645.7 538.4 C643.4 540.0 640.8 541.3 638.8 542.7 C636.8 544.2 634.6 545.5 633.6 547.0 C632.6 548.6 632.3 550.5 632.7 552.2 C633.2 553.9 635.2 555.6 636.2 557.4 C637.1 559.1 638.1 560.8 638.4 562.5 C638.7 564.3 638.6 566.0 637.9 567.7 C637.3 569.4 635.9 571.7 634.5 572.9 C633.0 574.0 630.9 574.4 629.3 574.6 C627.7 574.7 626.4 574.3 625.0 573.7 C623.6 573.2 622.3 572.3 620.7 571.1 C619.1 570.0 617.0 568.3 615.5 566.8 C614.1 565.4 613.2 563.7 612.1 562.5 C610.9 561.4 610.1 560.4 608.6 560.0 C607.2 559.5 605.2 559.7 603.5 560.0 C601.8 560.2 600.3 561.2 598.3 561.7 C596.3 562.1 593.7 562.2 591.4 562.5 C589.1 562.8 586.5 562.8 584.5 563.4 C582.5 564.0 580.8 564.7 579.4 566.0 C577.9 567.3 576.9 569.4 575.9 571.1 C574.9 572.9 574.5 574.6 573.3 576.3 C572.2 578.0 570.6 579.6 569.0 581.5 C567.5 583.3 565.9 585.8 563.9 587.5 C561.9 589.2 559.3 590.5 557.0 591.8 C554.7 593.1 552.4 594.2 550.1 595.3 C547.8 596.3 545.5 597.0 543.2 597.8 C540.9 598.7 538.6 600.0 536.3 600.4 C534.0 600.8 531.3 601.1 529.4 600.4 C527.6 599.7 526.6 597.8 525.1 596.1 C523.7 594.4 522.0 592.2 520.8 590.1 C519.7 587.9 518.8 585.5 518.2 583.2 C517.7 580.9 517.8 578.3 517.4 576.3 C517.0 574.3 516.7 572.4 515.7 571.1 C514.7 569.9 513.1 569.1 511.4 568.6 C509.6 568.0 507.2 567.9 505.3 567.7 C503.5 567.5 501.9 567.3 500.2 567.2 C498.4 567.1 495.9 566.8 495.0 567.2 C494.1 567.6 496.0 569.0 495.0 569.8 C494.0 570.6 490.8 571.2 489.0 572.0 C487.1 572.8 484.2 573.7 483.8 574.6 C483.4 575.5 485.2 576.2 486.4 577.2 C487.5 578.2 489.3 579.4 490.7 580.6 C492.1 581.8 493.1 584.1 495.0 584.6 C496.9 585.0 500.0 583.4 501.9 583.2 C503.8 583.0 505.3 582.6 506.2 583.2 C507.1 583.8 507.5 585.4 507.1 586.6 C506.6 587.9 505.0 589.8 503.6 590.9 C502.2 592.1 499.9 592.8 498.4 593.5 C497.0 594.2 495.6 594.1 495.0 595.3 C494.4 596.4 496.0 599.0 495.0 600.4 C494.0 601.9 491.1 602.7 489.0 603.9 C486.8 605.0 482.7 606.3 482.1 607.3 C481.5 608.3 487.5 609.3 485.5 609.9 C483.5 610.5 473.5 610.9 470.0 610.7 C466.6 610.6 466.9 609.9 464.9 609.0 C462.9 608.2 460.3 606.7 458.0 605.6 C455.7 604.4 453.1 603.3 451.1 602.1 C449.1 601.0 447.4 600.1 445.9 598.7 C444.5 597.3 443.5 595.5 442.5 593.5 C441.5 591.5 440.8 588.7 439.9 586.6 C439.0 584.6 438.3 582.9 437.3 581.5 C436.3 580.0 435.3 578.8 433.9 578.0 C432.4 577.2 430.4 576.8 428.7 576.7 C427.0 576.5 425.0 576.5 423.5 577.2 C422.1 577.8 421.1 579.0 420.1 580.6 C419.1 582.2 418.4 584.5 417.5 586.6 C416.7 588.8 415.9 591.2 414.9 593.5 C413.9 595.8 412.6 598.6 411.5 600.4 C410.3 602.3 409.1 604.4 408.0 604.7 C407.0 605.0 406.2 603.7 405.5 602.1 C404.7 600.6 404.3 597.5 403.7 595.3 C403.2 593.0 402.7 590.5 402.0 588.4 C401.3 586.2 400.3 583.9 399.4 582.3 C398.6 580.8 397.9 579.6 396.9 578.9 C395.8 578.2 394.7 577.7 393.4 578.0 C392.1 578.3 390.5 579.2 389.1 580.6 C387.7 582.1 386.1 584.2 384.8 586.6 C383.5 589.1 382.4 592.4 381.4 595.3 C380.4 598.1 380.1 601.9 378.8 603.9 C377.5 605.9 375.3 606.6 373.6 607.3 C371.9 608.0 369.3 628.5 368.4 608.2 C367.6 587.8 367.6 505.0 368.4 485.1Z" fill="#fffaaa"/>
<path d="M368.4 507.4 C369.3 497.1 372.2 509.9 373.6 510.0 C375.0 510.2 375.8 509.2 377.1 508.3 C378.3 507.4 380.2 504.1 381.4 504.3 C382.5 504.6 382.6 508.6 383.9 510.0 C385.2 511.4 387.4 512.3 389.1 512.6 C390.8 512.9 392.1 511.3 394.3 511.7 C396.4 512.2 399.4 514.4 402.0 515.2 C404.6 516.0 407.3 516.0 409.8 516.4 C412.2 516.8 414.1 517.1 416.7 517.4 C419.2 517.7 422.4 517.8 425.3 518.1 C428.1 518.4 431.0 518.8 433.9 519.1 C436.7 519.5 439.6 519.9 442.5 520.4 C445.4 520.8 447.9 521.2 451.1 521.7 C454.2 522.3 458.0 523.2 461.4 523.8 C464.9 524.4 468.3 525.1 471.8 525.5 C475.2 525.9 478.2 526.0 482.1 526.4 C486.0 526.8 491.1 527.4 495.0 527.8 C498.9 528.1 501.9 528.2 505.3 528.4 C508.8 528.6 511.6 528.8 515.7 529.0 C519.7 529.1 524.8 529.4 529.4 529.5 C534.0 529.6 539.2 529.6 543.2 529.5 C547.2 529.3 550.1 529.0 553.5 528.4 C557.0 527.9 560.4 527.1 563.9 526.4 C567.3 525.7 570.8 524.9 574.2 524.3 C577.6 523.7 581.1 523.1 584.5 522.6 C588.0 522.1 589.7 521.5 594.9 521.2 C600.0 520.9 612.1 521.1 615.5 520.9 C619.0 520.6 614.0 520.1 615.5 519.8 C617.1 519.5 622.3 518.8 625.0 519.1 C627.7 519.5 629.9 521.7 631.9 522.1 C633.9 522.4 635.3 521.7 637.1 521.2 C638.8 520.7 640.5 519.5 642.2 519.1 C643.9 518.8 645.9 518.8 647.4 519.1 C648.8 519.5 650.0 520.3 650.8 521.2 C651.6 522.1 652.3 523.4 652.2 524.7 C652.1 525.9 651.3 527.5 650.0 529.0 C648.6 530.4 646.1 531.8 643.9 533.3 C641.8 534.7 639.3 536.1 637.1 537.6 C634.8 539.0 632.2 540.6 630.2 541.9 C628.2 543.2 626.9 544.0 625.0 545.3 C623.1 546.6 621.1 548.6 619.0 549.6 C616.8 550.6 612.7 550.8 612.1 551.3 C611.5 551.9 617.8 552.4 615.5 553.1 C613.2 553.7 602.3 554.6 598.3 555.3 C594.3 556.0 593.7 556.8 591.4 557.4 C589.1 557.9 586.5 558.2 584.5 558.7 C582.5 559.3 581.1 560.0 579.4 560.8 C577.6 561.6 575.9 562.4 574.2 563.4 C572.5 564.4 570.5 565.3 569.0 566.8 C567.6 568.4 567.0 571.0 565.6 572.9 C564.2 574.7 562.4 576.3 560.4 578.0 C558.4 579.8 555.8 581.8 553.5 583.2 C551.2 584.6 549.0 585.7 546.7 586.3 C544.4 586.9 541.8 587.0 539.8 586.6 C537.8 586.3 536.0 585.4 534.6 584.1 C533.2 582.8 532.3 580.6 531.2 578.9 C530.0 577.2 528.7 575.5 527.7 573.7 C526.7 572.0 526.1 570.0 525.1 568.6 C524.1 567.1 523.0 565.8 521.7 565.1 C520.4 564.4 519.0 564.0 517.4 564.3 C515.8 564.5 513.7 566.3 512.2 566.8 C510.8 567.4 510.2 567.8 508.8 567.7 C507.3 567.6 505.9 566.4 503.6 566.0 C501.3 565.5 497.4 565.1 495.0 565.1 C492.6 565.1 491.1 565.5 489.0 566.0 C486.8 566.4 482.7 567.0 482.1 567.7 C481.5 568.4 487.8 569.4 485.5 570.3 C483.2 571.1 472.3 572.0 468.3 572.9 C464.3 573.7 463.7 574.7 461.4 575.5 C459.1 576.2 456.8 577.0 454.5 577.2 C452.2 577.3 449.9 576.9 447.6 576.3 C445.4 575.7 443.1 574.4 440.8 573.7 C438.5 573.1 436.5 572.8 433.9 572.5 C431.3 572.2 428.1 572.2 425.3 572.0 C422.4 571.8 419.2 571.5 416.7 571.5 C414.1 571.5 411.3 571.5 409.8 572.0 C408.3 572.5 408.1 572.9 407.7 574.6 C407.3 576.3 407.6 580.8 407.2 582.3 C406.8 583.9 406.1 584.2 405.5 584.1 C404.8 583.9 403.8 583.1 403.2 581.5 C402.7 579.9 402.8 576.6 402.0 574.6 C401.2 572.6 399.9 570.7 398.6 569.4 C397.3 568.1 395.6 567.3 394.3 566.8 C393.0 566.4 392.0 566.0 390.8 566.8 C389.7 567.7 388.8 570.4 387.4 572.0 C385.9 573.6 383.9 575.9 382.2 576.3 C380.5 576.7 378.8 575.2 377.1 574.6 C375.3 574.0 373.3 573.3 371.9 572.9 C370.5 572.4 369.0 582.9 368.4 572.0 C367.9 561.1 367.6 517.8 368.4 507.4Z" fill="#ffc03c"/>
<path d="M368.4 578.9 C369.3 576.9 372.5 578.8 373.6 579.8 C374.7 580.8 374.8 582.9 375.0 584.9 C375.1 586.9 375.6 590.7 374.5 591.8 C373.4 593.0 369.4 594.0 368.4 591.8 C367.4 589.7 367.6 580.9 368.4 578.9Z" fill="#ffc03c"/>
<path d="M372.7 522.9 C373.3 521.6 373.8 522.1 375.3 522.1 C376.9 522.1 380.2 522.6 382.2 522.9 C384.2 523.2 386.1 522.9 387.4 523.8 C388.7 524.7 389.5 525.7 390.0 528.1 C390.5 530.5 390.3 535.6 390.5 538.4 C390.6 541.3 390.3 543.3 390.8 545.3 C391.3 547.3 392.8 548.9 393.4 550.5 C394.0 552.1 394.9 553.7 394.6 554.8 C394.3 555.9 392.9 557.2 391.7 557.0 C390.5 556.9 388.8 555.2 387.4 553.9 C385.9 552.7 384.2 551.1 383.1 549.6 C381.9 548.2 381.4 546.6 380.5 545.3 C379.6 544.0 378.8 542.3 377.9 541.9 C377.1 541.4 376.0 542.0 375.3 542.7 C374.6 543.5 374.1 546.3 373.6 546.2 C373.1 546.0 372.5 544.6 372.2 541.9 C372.0 539.1 372.1 533.0 372.2 529.8 C372.3 526.7 372.2 524.2 372.7 522.9Z" fill="#ff6000"/>
<path d="M394.3 529.8 C394.5 528.8 395.4 528.2 396.9 527.8 C398.3 527.3 400.2 527.3 402.9 527.2 C405.6 527.2 409.8 527.2 413.2 527.2 C416.7 527.3 420.7 527.5 423.5 527.8 C426.4 528.0 428.1 528.4 430.4 529.0 C432.7 529.5 435.0 530.5 437.3 531.2 C439.6 531.9 441.9 532.4 444.2 532.9 C446.5 533.4 448.2 533.9 451.1 534.1 C454.0 534.3 458.0 534.0 461.4 534.1 C464.9 534.3 468.3 534.7 471.8 535.0 C475.2 535.3 478.2 535.9 482.1 536.0 C486.0 536.1 491.4 535.7 495.0 535.7 C498.6 535.6 500.7 535.7 503.6 535.8 C506.5 536.0 509.9 536.7 512.2 536.4 C514.5 536.1 515.7 534.6 517.4 534.1 C519.1 533.7 520.0 533.5 522.5 533.6 C525.1 533.7 528.9 534.4 532.9 534.6 C536.9 534.9 542.6 534.9 546.7 535.0 C550.7 535.0 553.5 535.1 557.0 535.0 C560.4 534.8 563.9 534.6 567.3 534.1 C570.8 533.7 574.2 533.0 577.6 532.4 C581.1 531.8 584.5 531.0 588.0 530.7 C591.4 530.4 593.7 530.5 598.3 530.7 C602.9 530.9 613.5 531.2 615.5 531.9 C617.5 532.6 611.8 533.9 610.4 535.0 C608.9 536.1 608.9 537.3 606.9 538.4 C604.9 539.6 600.9 540.7 598.3 541.9 C595.7 543.0 593.7 544.4 591.4 545.3 C589.1 546.2 586.8 546.8 584.5 547.4 C582.2 548.0 579.9 548.4 577.6 548.8 C575.4 549.1 573.1 549.3 570.8 549.6 C568.5 550.0 566.2 550.3 563.9 550.8 C561.6 551.4 559.3 552.3 557.0 553.1 C554.7 553.8 552.4 554.6 550.1 555.3 C547.8 556.0 545.5 556.7 543.2 557.4 C540.9 558.0 538.2 558.9 536.3 559.1 C534.5 559.3 533.2 559.2 532.0 558.7 C530.9 558.3 530.4 557.1 529.4 556.5 C528.4 555.9 527.4 555.3 526.0 555.3 C524.6 555.3 522.5 555.9 520.8 556.5 C519.1 557.1 517.4 558.3 515.7 559.1 C513.9 559.9 512.5 561.0 510.5 561.2 C508.5 561.3 506.2 560.5 503.6 560.0 C501.0 559.4 497.4 558.3 495.0 557.9 C492.6 557.5 491.1 557.8 489.0 557.7 C486.8 557.6 482.7 557.4 482.1 557.4 C481.5 557.4 487.8 557.7 485.5 557.7 C483.2 557.7 472.3 557.2 468.3 557.4 C464.3 557.5 463.7 558.0 461.4 558.7 C459.1 559.5 456.8 561.0 454.5 561.7 C452.2 562.3 449.9 562.5 447.6 562.5 C445.4 562.5 443.1 562.0 440.8 561.7 C438.5 561.3 436.2 560.6 433.9 560.5 C431.6 560.4 429.3 561.0 427.0 561.2 C424.7 561.4 422.0 562.3 420.1 561.7 C418.2 561.0 417.1 558.9 415.8 557.4 C414.5 555.8 413.5 553.8 412.4 552.2 C411.2 550.6 410.1 549.3 408.9 547.9 C407.8 546.5 406.6 544.7 405.5 543.6 C404.3 542.4 403.2 542.0 402.0 541.0 C400.9 540.0 399.6 538.7 398.6 537.6 C397.5 536.4 396.4 535.4 395.6 534.1 C394.9 532.8 394.1 530.9 394.3 529.8Z" fill="#ff6000"/>
<path d="M614.7 534.6 C614.9 534.1 616.2 533.6 616.9 533.6 C617.6 533.6 618.7 534.1 619.0 534.6 C619.3 535.2 619.2 536.4 618.6 536.7 C618.1 537.1 616.2 537.1 615.5 536.7 C614.9 536.4 614.4 535.2 614.7 534.6Z" fill="#ff6000"/>
</g>
<line x1="402.2" y1="480.8" x2="402.2" y2="619.9" class="gr"/>
<line x1="434.7" y1="480.8" x2="434.7" y2="619.9" class="gr"/>
<line x1="467.2" y1="480.8" x2="467.2" y2="619.9" class="gr"/>
<line x1="499.7" y1="480.8" x2="499.7" y2="619.9" class="gr"/>
<line x1="532.2" y1="480.8" x2="532.2" y2="619.9" class="gr"/>
<line x1="564.7" y1="480.8" x2="564.7" y2="619.9" class="gr"/>
<line x1="597.2" y1="480.8" x2="597.2" y2="619.9" class="gr"/>
<line x1="629.7" y1="480.8" x2="629.7" y2="619.9" class="gr"/>
<line x1="662.2" y1="480.8" x2="662.2" y2="619.9" class="gr"/>
<line x1="694.7" y1="480.8" x2="694.7" y2="619.9" class="gr"/>
<line x1="727.2" y1="480.8" x2="727.2" y2="619.9" class="gr"/>
<line x1="759.7" y1="480.8" x2="759.7" y2="619.9" class="gr"/>
<line x1="792.2" y1="480.8" x2="792.2" y2="619.9" class="gr"/>
<line x1="824.7" y1="480.8" x2="824.7" y2="619.9" class="gr"/>
<line x1="369.7" y1="500.7" x2="857.3" y2="500.7" class="gr"/>
<line x1="369.7" y1="524.3" x2="857.3" y2="524.3" class="gr"/>
<line x1="369.7" y1="547.9" x2="857.3" y2="547.9" class="gr"/>
<line x1="369.7" y1="571.5" x2="857.3" y2="571.5" class="gr"/>
<line x1="369.7" y1="595.1" x2="857.3" y2="595.1" class="gr"/>
<line x1="369.7" y1="618.4" x2="857.3" y2="618.4" class="gr"/>
<rect x="369.7" y="479.8" width="487.6" height="140.1" fill="none" stroke="#000" stroke-width="1.5"/>
<line x1="369.7" y1="619.9" x2="369.7" y2="622.9" stroke="#000" stroke-width="1"/>
<text x="370.5" y="631.2" font-size="8.50" text-anchor="middle" font-weight="normal" fill="#000" textLength="19.6" lengthAdjust="spacing" stroke="#000" stroke-width="0.15">130E</text>
<line x1="402.2" y1="619.9" x2="402.2" y2="622.9" stroke="#000" stroke-width="1"/>
<text x="403.0" y="631.2" font-size="8.50" text-anchor="middle" font-weight="normal" fill="#000" textLength="19.6" lengthAdjust="spacing" stroke="#000" stroke-width="0.15">140E</text>
<line x1="434.7" y1="619.9" x2="434.7" y2="622.9" stroke="#000" stroke-width="1"/>
<text x="435.5" y="631.2" font-size="8.50" text-anchor="middle" font-weight="normal" fill="#000" textLength="19.6" lengthAdjust="spacing" stroke="#000" stroke-width="0.15">150E</text>
<line x1="467.2" y1="619.9" x2="467.2" y2="622.9" stroke="#000" stroke-width="1"/>
<text x="468.0" y="631.2" font-size="8.50" text-anchor="middle" font-weight="normal" fill="#000" textLength="19.6" lengthAdjust="spacing" stroke="#000" stroke-width="0.15">160E</text>
<line x1="499.7" y1="619.9" x2="499.7" y2="622.9" stroke="#000" stroke-width="1"/>
<text x="500.5" y="631.2" font-size="8.50" text-anchor="middle" font-weight="normal" fill="#000" textLength="19.6" lengthAdjust="spacing" stroke="#000" stroke-width="0.15">170E</text>
<line x1="532.2" y1="619.9" x2="532.2" y2="622.9" stroke="#000" stroke-width="1"/>
<text x="533.0" y="631.2" font-size="8.50" text-anchor="middle" font-weight="normal" fill="#000" textLength="14.3" lengthAdjust="spacing" stroke="#000" stroke-width="0.15">180</text>
<line x1="564.7" y1="619.9" x2="564.7" y2="622.9" stroke="#000" stroke-width="1"/>
<text x="565.5" y="631.2" font-size="8.50" text-anchor="middle" font-weight="normal" fill="#000" textLength="19.6" lengthAdjust="spacing" stroke="#000" stroke-width="0.15">170W</text>
<line x1="597.2" y1="619.9" x2="597.2" y2="622.9" stroke="#000" stroke-width="1"/>
<text x="598.0" y="631.2" font-size="8.50" text-anchor="middle" font-weight="normal" fill="#000" textLength="19.6" lengthAdjust="spacing" stroke="#000" stroke-width="0.15">160W</text>
<line x1="629.7" y1="619.9" x2="629.7" y2="622.9" stroke="#000" stroke-width="1"/>
<text x="630.5" y="631.2" font-size="8.50" text-anchor="middle" font-weight="normal" fill="#000" textLength="19.6" lengthAdjust="spacing" stroke="#000" stroke-width="0.15">150W</text>
<line x1="662.2" y1="619.9" x2="662.2" y2="622.9" stroke="#000" stroke-width="1"/>
<text x="663.0" y="631.2" font-size="8.50" text-anchor="middle" font-weight="normal" fill="#000" textLength="19.6" lengthAdjust="spacing" stroke="#000" stroke-width="0.15">140W</text>
<line x1="694.7" y1="619.9" x2="694.7" y2="622.9" stroke="#000" stroke-width="1"/>
<text x="695.5" y="631.2" font-size="8.50" text-anchor="middle" font-weight="normal" fill="#000" textLength="19.6" lengthAdjust="spacing" stroke="#000" stroke-width="0.15">130W</text>
<line x1="727.2" y1="619.9" x2="727.2" y2="622.9" stroke="#000" stroke-width="1"/>
<text x="728.0" y="631.2" font-size="8.50" text-anchor="middle" font-weight="normal" fill="#000" textLength="19.6" lengthAdjust="spacing" stroke="#000" stroke-width="0.15">120W</text>
<line x1="759.7" y1="619.9" x2="759.7" y2="622.9" stroke="#000" stroke-width="1"/>
<text x="760.5" y="631.2" font-size="8.50" text-anchor="middle" font-weight="normal" fill="#000" textLength="19.6" lengthAdjust="spacing" stroke="#000" stroke-width="0.15">110W</text>
<line x1="792.2" y1="619.9" x2="792.2" y2="622.9" stroke="#000" stroke-width="1"/>
<text x="793.0" y="631.2" font-size="8.50" text-anchor="middle" font-weight="normal" fill="#000" textLength="19.6" lengthAdjust="spacing" stroke="#000" stroke-width="0.15">100W</text>
<line x1="824.7" y1="619.9" x2="824.7" y2="622.9" stroke="#000" stroke-width="1"/>
<text x="825.5" y="631.2" font-size="8.50" text-anchor="middle" font-weight="normal" fill="#000" textLength="14.3" lengthAdjust="spacing" stroke="#000" stroke-width="0.15">90W</text>
<line x1="857.2" y1="619.9" x2="857.2" y2="622.9" stroke="#000" stroke-width="1"/>
<text x="858.0" y="631.2" font-size="8.50" text-anchor="middle" font-weight="normal" fill="#000" textLength="14.3" lengthAdjust="spacing" stroke="#000" stroke-width="0.15">80W</text>
<line x1="366.2" y1="500.7" x2="369.7" y2="500.7" stroke="#000" stroke-width="1"/>
<text x="365.0" y="503.9" font-size="9.00" text-anchor="end" font-weight="normal" fill="#000" textLength="9.2" lengthAdjust="spacing" stroke="#000" stroke-width="0.15">50</text>
<line x1="366.2" y1="524.3" x2="369.7" y2="524.3" stroke="#000" stroke-width="1"/>
<text x="365.0" y="527.5" font-size="9.00" text-anchor="end" font-weight="normal" fill="#000" textLength="13.8" lengthAdjust="spacing" stroke="#000" stroke-width="0.15">100</text>
<line x1="366.2" y1="547.9" x2="369.7" y2="547.9" stroke="#000" stroke-width="1"/>
<text x="365.0" y="551.1" font-size="9.00" text-anchor="end" font-weight="normal" fill="#000" textLength="13.8" lengthAdjust="spacing" stroke="#000" stroke-width="0.15">150</text>
<line x1="366.2" y1="571.5" x2="369.7" y2="571.5" stroke="#000" stroke-width="1"/>
<text x="365.0" y="574.7" font-size="9.00" text-anchor="end" font-weight="normal" fill="#000" textLength="13.8" lengthAdjust="spacing" stroke="#000" stroke-width="0.15">200</text>
<line x1="366.2" y1="595.1" x2="369.7" y2="595.1" stroke="#000" stroke-width="1"/>
<text x="365.0" y="598.3" font-size="9.00" text-anchor="end" font-weight="normal" fill="#000" textLength="13.8" lengthAdjust="spacing" stroke="#000" stroke-width="0.15">250</text>
<line x1="366.2" y1="618.7" x2="369.7" y2="618.7" stroke="#000" stroke-width="1"/>
<text x="365.0" y="621.9" font-size="9.00" text-anchor="end" font-weight="normal" fill="#000" textLength="13.8" lengthAdjust="spacing" stroke="#000" stroke-width="0.15">300</text>
<text x="613.2" y="472.4" font-size="12.20" text-anchor="middle" font-weight="bold" fill="#000" textLength="277.0" lengthAdjust="spacing" >Three−pentad ave. centered on 02 JUN 2022</text>
<clipPath id="cp4"><rect x="369.7" y="658.4" width="483.3" height="140.8"/></clipPath>
<g clip-path="url(#cp4)">
<path d="M461.4 657.2 C430.3 658.5 462.9 662.6 464.0 664.9 C465.2 667.2 464.7 668.9 468.3 670.9 C471.9 672.9 482.9 675.2 485.5 677.0 C488.1 678.7 482.9 680.1 483.8 681.3 C484.7 682.4 488.8 682.8 490.7 683.9 C492.6 684.9 493.1 686.2 495.0 687.3 C496.9 688.4 499.6 689.8 501.9 690.7 C504.2 691.7 505.9 692.5 508.8 693.0 C511.6 693.5 515.7 693.6 519.1 693.7 C522.5 693.7 526.0 693.5 529.4 693.3 C532.9 693.1 536.3 692.9 539.8 692.5 C543.2 692.0 546.7 691.5 550.1 690.7 C553.5 690.0 557.0 689.0 560.4 688.2 C563.9 687.3 567.3 686.4 570.8 685.6 C574.2 684.7 577.6 683.8 581.1 683.0 C584.5 682.2 588.0 681.6 591.4 680.9 C594.9 680.3 598.3 679.7 601.8 679.2 C605.2 678.7 608.2 678.2 612.1 677.8 C616.0 677.5 621.7 677.3 625.0 677.0 C628.3 676.7 630.0 676.8 631.9 676.1 C633.8 675.4 635.0 674.0 636.2 672.7 C637.3 671.4 637.5 669.6 638.8 668.4 C640.1 667.1 642.2 665.8 643.9 664.9 C645.7 664.1 648.0 664.5 649.1 663.2 C650.3 661.9 682.1 658.2 650.8 657.2 C619.5 656.2 492.6 655.9 461.4 657.2Z" fill="#e1ffff"/>
<path d="M693.0 657.2 C689.0 658.2 693.2 661.5 693.9 663.2 C694.6 664.9 695.6 666.4 697.3 667.5 C699.0 668.6 701.9 669.4 704.2 669.6 C706.5 669.7 709.1 669.1 711.1 668.4 C713.1 667.6 715.1 666.8 716.3 664.9 C717.4 663.0 721.9 658.5 718.0 657.2 C714.1 655.9 697.0 656.2 693.0 657.2Z" fill="#e1ffff"/>
<path d="M751.6 657.2 C732.7 658.3 751.8 662.5 752.4 664.1 C753.0 665.6 753.7 666.2 755.0 666.6 C756.3 667.1 758.7 666.2 760.5 666.6 C762.3 667.1 764.2 667.6 765.7 669.2 C767.1 670.8 768.4 673.2 769.1 676.1 C769.8 679.0 770.0 683.0 770.0 686.4 C770.0 689.9 769.2 693.6 769.1 696.8 C769.0 699.9 768.5 702.9 769.1 705.4 C769.7 707.8 770.8 709.8 772.5 711.4 C774.3 713.0 776.9 714.4 779.4 714.8 C782.0 715.3 785.2 714.4 788.0 714.0 C790.9 713.6 794.1 712.6 796.7 712.3 C799.2 711.9 801.2 711.5 803.5 711.9 C805.8 712.4 808.6 713.4 810.4 714.8 C812.3 716.3 813.6 718.7 814.7 720.9 C815.9 723.0 816.3 724.9 817.3 727.8 C818.3 730.6 819.6 734.4 820.8 738.1 C821.9 741.8 823.3 746.7 824.2 750.1 C825.1 753.6 824.8 755.9 825.9 758.8 C827.1 761.6 829.1 764.5 831.1 767.4 C833.1 770.2 835.7 773.4 838.0 776.0 C840.3 778.6 842.9 781.1 844.9 782.9 C846.9 784.6 846.6 785.4 850.0 786.3 C853.5 787.2 862.9 809.5 865.5 788.0 C868.1 766.5 884.5 679.0 865.5 657.2 C846.5 635.4 770.4 656.0 751.6 657.2Z" fill="#e1ffff"/>
<ellipse cx="678.4" cy="717.4" rx="9.5" ry="6.5" fill="#e1ffff"/>
<path d="M388.2 800.1 C387.7 798.6 390.0 793.5 390.8 791.5 C391.7 789.5 392.8 788.3 393.4 788.0 C394.0 787.7 394.5 787.7 394.6 789.7 C394.8 791.8 395.3 798.4 394.3 800.1 C393.2 801.8 388.8 801.5 388.2 800.1Z" fill="#e1ffff"/>
<path d="M494.1 664.1 C494.7 665.9 496.7 666.6 497.6 668.4 C498.4 670.1 498.6 672.4 499.3 674.4 C500.0 676.4 500.6 678.8 501.9 680.4 C503.2 682.0 505.0 683.0 507.1 683.9 C509.1 684.7 511.6 685.4 513.9 685.6 C516.2 685.8 518.2 685.3 520.8 685.1 C523.4 684.8 526.6 684.0 529.4 683.9 C532.3 683.7 535.2 684.4 538.0 684.4 C540.9 684.4 544.5 684.5 546.7 683.9 C548.8 683.2 550.4 682.0 551.0 680.4 C551.5 678.8 550.8 676.2 550.1 674.4 C549.4 672.5 548.1 670.5 546.7 669.2 C545.2 667.9 543.4 667.4 541.5 666.6 C539.6 665.9 536.8 665.8 535.5 664.9 C534.2 664.1 534.2 662.8 533.7 661.5 C533.3 660.2 539.5 657.9 532.9 657.2 C526.3 656.4 500.6 656.0 494.1 657.2 C487.7 658.3 493.6 662.2 494.1 664.1Z" fill="#96d2fa"/>
<path d="M767.4 668.4 C767.5 667.6 769.4 667.8 770.8 667.5 C772.3 667.2 774.0 666.9 776.0 666.6 C778.0 666.3 780.6 666.1 782.9 665.8 C785.2 665.5 787.9 665.5 789.8 664.9 C791.6 664.3 792.9 663.6 794.1 662.3 C795.2 661.0 784.7 658.0 796.7 657.2 C808.6 656.3 854.1 641.7 865.5 657.2 C877.0 672.7 868.7 734.9 865.5 750.1 C862.4 765.4 850.6 749.3 846.6 748.4 C842.6 747.6 843.1 746.4 841.4 745.0 C839.7 743.5 838.0 741.8 836.3 739.8 C834.5 737.8 832.5 735.2 831.1 732.9 C829.7 730.6 828.7 728.3 827.6 726.0 C826.6 723.7 825.9 721.4 825.1 719.2 C824.2 716.9 823.8 714.6 822.5 712.3 C821.2 710.0 819.3 707.0 817.3 705.4 C815.3 703.8 813.0 703.5 810.4 702.8 C807.8 702.1 804.7 701.5 801.8 701.1 C799.0 700.6 796.1 700.2 793.2 700.2 C790.3 700.2 787.2 700.9 784.6 701.1 C782.0 701.2 779.4 701.6 777.7 701.1 C776.0 700.5 774.8 699.5 774.3 697.6 C773.8 695.8 774.4 692.3 774.6 689.9 C774.8 687.4 775.8 685.3 775.6 683.0 C775.4 680.7 774.4 678.0 773.4 676.1 C772.5 674.2 771.0 673.1 770.0 671.8 C769.0 670.5 767.2 669.1 767.4 668.4Z" fill="#96d2fa"/>
<path d="M784.6 673.5 C784.6 672.4 786.0 671.7 788.0 670.9 C790.1 670.2 794.1 669.6 796.7 669.2 C799.2 668.8 801.8 669.2 803.5 668.4 C805.3 667.5 806.3 665.9 807.0 664.1 C807.7 662.2 805.1 658.3 807.8 657.2 C810.6 656.0 820.6 656.0 823.3 657.2 C826.1 658.3 824.2 662.3 824.2 664.1 C824.2 665.8 823.1 666.1 823.3 667.5 C823.6 668.9 824.6 670.9 825.9 672.7 C827.2 674.4 829.4 676.2 831.1 677.8 C832.8 679.4 835.1 680.7 836.3 682.1 C837.4 683.6 838.0 685.0 838.0 686.4 C838.0 687.9 837.7 690.3 836.3 690.7 C834.8 691.2 831.7 689.0 829.4 689.0 C827.1 689.0 825.1 690.4 822.5 690.7 C819.9 691.1 816.5 691.5 813.9 691.3 C811.3 691.0 809.3 690.0 807.0 689.0 C804.7 688.1 802.4 686.9 800.1 685.6 C797.8 684.3 795.2 682.6 793.2 681.3 C791.2 680.0 789.5 679.1 788.0 677.8 C786.6 676.5 784.6 674.7 784.6 673.5Z" fill="#50a5f5"/>
<path d="M848.3 688.2 C848.7 687.5 850.0 687.2 850.9 687.3 C851.8 687.4 853.0 687.7 853.5 689.0 C853.9 690.3 854.0 694.2 853.5 695.0 C853.0 695.9 851.2 694.8 850.4 694.2 C849.5 693.6 848.7 692.3 848.3 691.3 C848.0 690.3 847.9 688.8 848.3 688.2Z" fill="#50a5f5"/>
<path d="M841.9 687.3 C842.3 687.0 843.5 686.8 844.0 687.0 C844.6 687.2 845.3 688.0 845.2 688.5 C845.1 689.0 844.0 689.8 843.5 689.9 C842.9 690.0 842.2 689.5 841.9 689.0 C841.7 688.6 841.6 687.6 841.9 687.3Z" fill="#50a5f5"/>
<path d="M831.2 658.0 C827.3 658.7 830.3 660.9 829.5 662.5 C828.7 664.2 826.1 666.0 826.3 667.8 C826.6 669.6 829.2 671.2 830.9 673.1 C832.6 674.9 834.8 677.1 836.5 678.7 C838.3 680.2 838.6 681.7 841.4 682.3 C844.2 683.0 851.4 686.7 853.4 682.6 C855.3 678.6 857.0 662.1 853.4 658.0 C849.7 653.9 835.2 657.2 831.2 658.0Z" fill="#e1ffff"/>
<path d="M833.0 658.0 C829.3 658.7 831.8 660.8 830.9 662.5 C830.0 664.2 827.4 666.5 827.5 668.1 C827.6 669.8 830.1 670.8 831.6 672.4 C833.1 673.9 834.8 675.7 836.5 677.3 C838.3 678.9 839.3 681.1 842.1 681.8 C844.9 682.6 851.5 685.8 853.4 681.8 C855.2 677.9 856.8 661.9 853.4 658.0 C850.0 654.0 836.7 657.2 833.0 658.0Z" fill="#ffffff"/>
<path d="M835.1 670.3 C835.1 669.3 835.8 667.9 836.5 667.1 C837.2 666.3 837.9 666.0 839.3 665.7 C840.7 665.3 842.6 665.0 844.9 665.0 C847.3 664.9 852.0 662.8 853.4 665.3 C854.8 667.9 854.3 677.7 853.4 680.1 C852.4 682.5 849.4 679.9 847.7 679.7 C846.1 679.6 844.8 679.7 843.5 679.0 C842.2 678.4 841.2 676.9 840.0 675.9 C838.8 674.9 837.3 674.0 836.5 673.1 C835.7 672.1 835.1 671.2 835.1 670.3Z" fill="#fffaaa"/>
<path d="M836.9 670.6 C836.8 669.7 837.4 668.5 838.3 667.8 C839.1 667.1 839.6 666.6 842.1 666.4 C844.6 666.2 851.5 664.2 853.4 666.4 C855.2 668.6 854.6 677.6 853.4 679.7 C852.1 681.8 847.5 679.6 845.6 679.0 C843.8 678.5 843.3 677.6 842.1 676.6 C841.0 675.6 839.5 674.1 838.6 673.1 C837.7 672.1 836.9 671.5 836.9 670.6Z" fill="#ffc03c"/>
<path d="M840.0 672.0 C840.1 671.4 841.1 670.4 842.1 669.9 C843.2 669.4 844.5 669.0 846.3 668.9 C848.2 668.7 852.2 667.3 853.4 668.9 C854.5 670.4 854.3 676.7 853.4 678.3 C852.4 679.9 849.3 678.7 847.7 678.3 C846.2 678.0 845.3 677.0 844.2 676.2 C843.2 675.5 842.1 674.5 841.4 673.8 C840.7 673.1 839.9 672.7 840.0 672.0Z" fill="#ff6000"/>
<path d="M846.9 672.4 C847.2 672.1 848.6 671.9 849.1 672.0 C849.7 672.1 849.9 672.6 850.0 673.1 C850.1 673.5 850.1 674.3 849.8 674.6 C849.6 674.9 848.9 675.0 848.4 674.8 C848.0 674.7 847.4 674.2 847.2 673.8 C846.9 673.4 846.6 672.7 846.9 672.4Z" fill="#e11400"/>
<path d="M368.4 659.7 C369.4 640.1 373.2 659.6 374.5 660.6 C375.8 661.6 375.3 663.9 376.2 665.8 C377.1 667.6 378.3 669.8 379.6 671.8 C380.9 673.8 382.1 676.1 383.9 677.8 C385.8 679.5 388.2 680.8 390.8 682.1 C393.4 683.4 396.3 684.6 399.4 685.6 C402.6 686.6 406.3 687.3 409.8 688.2 C413.2 689.0 416.7 689.9 420.1 690.7 C423.5 691.6 427.0 692.5 430.4 693.3 C433.9 694.2 437.3 695.1 440.8 695.9 C444.2 696.7 447.6 697.4 451.1 698.1 C454.5 698.9 458.0 699.6 461.4 700.2 C464.9 700.8 468.3 701.5 471.8 701.9 C475.2 702.4 478.2 702.8 482.1 702.8 C486.0 702.8 491.1 702.0 495.0 701.9 C498.9 701.8 501.9 702.1 505.3 702.3 C508.8 702.4 511.6 702.7 515.7 702.8 C519.7 702.9 524.8 702.8 529.4 702.8 C534.0 702.8 539.2 702.9 543.2 702.8 C547.2 702.7 550.1 702.6 553.5 702.3 C557.0 702.0 560.4 701.6 563.9 701.1 C567.3 700.6 570.8 699.9 574.2 699.4 C577.6 698.8 581.1 698.1 584.5 697.6 C588.0 697.1 589.7 696.9 594.9 696.4 C600.0 696.0 612.1 695.5 615.5 695.0 C619.0 694.6 614.0 694.0 615.5 693.7 C617.1 693.3 622.0 693.5 625.0 693.0 C628.0 692.5 630.7 691.5 633.6 690.7 C636.5 690.0 639.6 688.8 642.2 688.5 C644.8 688.2 646.8 689.1 649.1 689.0 C651.4 689.0 654.0 689.0 656.0 688.2 C658.0 687.3 659.4 685.4 661.2 683.9 C662.9 682.3 664.3 680.6 666.3 678.7 C668.3 676.8 670.9 674.2 673.2 672.7 C675.5 671.1 677.9 669.5 680.1 669.2 C682.3 668.9 684.1 669.8 686.1 670.9 C688.1 672.1 690.3 674.7 692.2 676.1 C694.0 677.5 695.3 678.8 697.3 679.5 C699.3 680.3 701.9 680.6 704.2 680.4 C706.5 680.3 708.8 679.7 711.1 678.7 C713.4 677.7 715.7 676.0 718.0 674.4 C720.3 672.8 722.6 670.5 724.9 669.2 C727.2 667.9 729.5 667.4 731.8 666.6 C734.1 665.9 736.3 665.1 738.6 664.9 C740.9 664.8 744.5 665.5 745.5 665.8 C746.6 666.1 744.2 666.2 745.0 666.6 C745.8 667.1 748.4 667.4 750.2 668.4 C751.9 669.4 753.9 670.8 755.3 672.7 C756.8 674.5 758.1 677.3 758.8 679.5 C759.5 681.8 759.9 684.3 759.6 686.4 C759.3 688.6 758.3 690.7 757.1 692.5 C755.8 694.2 753.9 695.7 751.9 696.8 C749.9 697.8 746.6 698.4 745.0 698.8 C743.4 699.3 742.0 698.5 742.1 699.4 C742.2 700.2 747.8 702.4 745.5 703.7 C743.2 704.9 732.3 706.2 728.3 707.1 C724.3 708.0 723.7 708.8 721.4 708.8 C719.1 708.8 716.8 707.5 714.5 707.1 C712.2 706.7 709.9 706.1 707.6 706.2 C705.4 706.4 703.1 707.8 700.8 708.0 C698.5 708.2 696.2 708.0 693.9 707.4 C691.6 706.9 689.3 705.4 687.0 704.5 C684.7 703.6 682.1 702.4 680.1 701.9 C678.1 701.5 676.7 701.4 674.9 701.9 C673.2 702.5 671.5 703.8 669.8 705.4 C668.0 707.0 666.3 709.5 664.6 711.4 C662.9 713.3 661.4 715.3 659.4 716.6 C657.4 717.9 654.8 719.0 652.5 719.2 C650.3 719.3 647.7 717.6 645.7 717.4 C643.7 717.3 642.2 717.4 640.5 718.3 C638.8 719.2 636.5 721.0 635.3 722.6 C634.2 724.2 633.0 726.3 633.6 727.8 C634.2 729.2 637.5 729.9 638.8 731.2 C640.1 732.5 641.2 733.8 641.4 735.5 C641.5 737.2 640.6 739.8 639.6 741.5 C638.6 743.3 636.9 744.7 635.3 745.8 C633.8 747.0 631.9 747.7 630.2 748.4 C628.4 749.1 626.6 750.7 625.0 750.1 C623.4 749.6 622.3 746.3 620.7 745.0 C619.1 743.7 617.3 743.1 615.5 742.4 C613.8 741.7 612.7 741.0 610.4 740.7 C608.1 740.3 604.6 740.3 601.8 740.2 C598.9 740.0 595.4 739.7 593.1 739.8 C590.8 739.9 589.7 740.1 588.0 740.7 C586.3 741.2 584.2 742.0 582.8 743.3 C581.4 744.5 580.2 746.4 579.4 748.4 C578.5 750.4 578.5 753.0 577.6 755.3 C576.8 757.6 575.6 759.9 574.2 762.2 C572.8 764.5 570.8 766.9 569.0 769.1 C567.3 771.2 565.6 773.1 563.9 775.1 C562.2 777.1 560.4 779.4 558.7 781.1 C557.0 782.9 555.6 784.9 553.5 785.4 C551.5 786.0 549.0 785.0 546.7 784.6 C544.4 784.2 542.1 783.3 539.8 782.9 C537.5 782.4 534.7 782.7 532.9 782.0 C531.0 781.3 530.0 779.6 528.6 778.6 C527.1 777.6 526.1 776.4 524.3 776.0 C522.4 775.5 519.4 776.1 517.4 776.0 C515.4 775.8 513.2 776.3 512.2 775.1 C511.2 774.0 511.4 771.2 511.4 769.1 C511.4 766.9 511.6 764.5 512.2 762.2 C512.8 759.9 513.9 757.5 514.8 755.3 C515.7 753.2 517.2 750.9 517.4 749.3 C517.5 747.7 516.8 746.7 515.7 745.8 C514.5 745.0 512.5 744.5 510.5 744.1 C508.5 743.7 506.2 743.5 503.6 743.3 C501.0 743.1 496.4 742.5 495.0 742.9 C493.6 743.3 495.4 744.9 495.0 745.8 C494.6 746.8 493.3 747.3 492.4 748.4 C491.6 749.6 490.2 751.3 489.8 752.7 C489.5 754.2 489.9 755.8 490.4 757.0 C490.8 758.3 491.6 759.3 492.4 760.1 C493.2 761.0 494.6 761.9 495.0 762.2 C495.4 762.5 494.3 762.1 495.0 762.2 C495.7 762.3 498.2 761.9 499.3 763.1 C500.5 764.2 501.3 766.9 501.9 769.1 C502.5 771.2 503.0 773.8 502.7 776.0 C502.5 778.1 501.2 780.4 500.2 782.0 C499.2 783.6 497.6 784.7 496.7 785.4 C495.9 786.2 495.3 786.4 495.0 786.6 C494.7 786.9 496.0 786.6 495.0 787.2 C494.0 787.7 490.8 789.9 489.0 789.7 C487.1 789.6 485.8 787.0 483.8 786.3 C481.8 785.6 479.2 785.3 476.9 785.4 C474.6 785.6 472.0 787.3 470.0 787.2 C468.0 787.0 466.6 785.7 464.9 784.6 C463.1 783.4 461.4 781.7 459.7 780.3 C458.0 778.8 456.3 777.6 454.5 776.0 C452.8 774.4 451.1 772.5 449.4 770.8 C447.6 769.1 445.9 767.4 444.2 765.6 C442.5 763.9 440.8 762.2 439.0 760.5 C437.3 758.8 435.6 756.5 433.9 755.3 C432.2 754.1 430.3 753.4 428.7 753.2 C427.1 753.1 425.8 753.4 424.4 754.5 C423.0 755.5 421.5 757.6 420.1 759.6 C418.7 761.6 417.4 764.4 415.8 766.5 C414.2 768.7 412.2 771.0 410.6 772.5 C409.1 774.1 407.5 775.8 406.3 776.0 C405.2 776.1 404.6 775.1 403.7 773.4 C402.9 771.7 402.0 767.9 401.2 765.6 C400.3 763.3 399.6 761.2 398.6 759.6 C397.6 758.0 396.1 756.9 395.1 756.2 C394.1 755.5 393.6 754.7 392.5 755.3 C391.5 755.9 390.5 757.6 389.1 759.6 C387.7 761.6 385.7 764.6 383.9 767.4 C382.2 770.1 380.4 774.0 378.8 776.0 C377.2 778.0 376.2 779.0 374.5 779.4 C372.7 779.8 369.4 798.5 368.4 778.6 C367.4 758.6 367.4 679.4 368.4 659.7Z" fill="#fffaaa"/>
<ellipse cx="650.8" cy="737.2" rx="3.2" ry="3.2" fill="#fffaaa"/>
<path d="M368.4 688.2 C369.3 675.1 372.2 691.5 373.6 691.6 C375.0 691.7 375.8 689.9 377.1 689.0 C378.3 688.2 380.2 686.2 381.4 686.4 C382.5 686.7 383.1 689.2 383.9 690.7 C384.8 692.3 385.4 694.8 386.5 695.9 C387.7 697.0 388.7 696.9 390.8 697.1 C393.0 697.3 396.6 697.2 399.4 697.1 C402.3 697.0 405.2 696.6 408.0 696.4 C410.9 696.2 413.8 695.9 416.7 695.9 C419.5 695.9 422.4 696.1 425.3 696.4 C428.1 696.8 431.0 697.6 433.9 698.1 C436.7 698.7 439.6 699.4 442.5 699.9 C445.4 700.4 447.9 700.6 451.1 701.1 C454.2 701.6 458.0 702.2 461.4 702.8 C464.9 703.4 468.3 703.9 471.8 704.5 C475.2 705.1 478.2 705.8 482.1 706.2 C486.0 706.7 491.1 706.9 495.0 707.1 C498.9 707.3 501.6 707.5 505.3 707.4 C509.1 707.4 513.4 706.8 517.4 706.8 C521.4 706.8 525.1 707.3 529.4 707.4 C533.7 707.6 539.2 707.6 543.2 707.4 C547.2 707.2 550.1 706.7 553.5 706.2 C557.0 705.8 560.4 705.1 563.9 704.5 C567.3 703.9 570.8 703.3 574.2 702.8 C577.6 702.3 581.1 702.0 584.5 701.6 C588.0 701.2 589.7 700.9 594.9 700.6 C600.0 700.2 612.1 699.8 615.5 699.4 C619.0 698.9 614.0 698.4 615.5 698.1 C617.1 697.9 622.0 698.1 625.0 697.6 C628.0 697.1 630.7 695.7 633.6 695.0 C636.5 694.4 639.6 693.7 642.2 693.7 C644.8 693.6 646.8 694.5 649.1 694.7 C651.4 694.9 654.0 695.7 656.0 695.0 C658.0 694.4 659.7 692.3 661.2 690.7 C662.6 689.2 663.2 687.0 664.6 685.6 C666.0 684.1 667.8 683.0 669.8 682.1 C671.8 681.3 674.4 680.4 676.7 680.4 C679.0 680.4 681.2 681.3 683.5 682.1 C685.8 683.0 688.1 684.6 690.4 685.6 C692.7 686.6 695.0 687.7 697.3 688.2 C699.6 688.6 701.9 688.6 704.2 688.5 C706.5 688.4 709.1 688.1 711.1 687.3 C713.1 686.5 715.0 685.3 716.3 683.9 C717.5 682.4 717.4 680.1 718.8 678.7 C720.3 677.3 722.7 676.0 724.9 675.2 C727.0 674.5 729.7 674.8 731.8 674.0 C733.8 673.3 734.9 671.7 736.9 670.9 C738.9 670.1 742.5 669.4 743.8 669.2 C745.2 669.1 744.1 669.6 745.0 670.1 C745.9 670.5 748.0 670.8 749.3 671.8 C750.6 672.8 751.8 674.4 752.7 676.1 C753.7 677.8 754.7 680.3 755.0 682.1 C755.3 684.0 755.1 685.9 754.5 687.3 C753.8 688.7 752.6 689.7 751.0 690.7 C749.4 691.7 746.2 693.0 745.0 693.3 C743.8 693.6 745.2 691.7 743.8 692.5 C742.5 693.2 739.2 696.1 736.9 697.6 C734.6 699.2 732.3 700.9 730.0 701.9 C727.7 702.9 725.4 703.6 723.1 703.7 C720.8 703.7 718.6 702.7 716.3 702.3 C714.0 701.8 711.7 701.1 709.4 701.1 C707.1 701.1 704.8 702.0 702.5 702.3 C700.2 702.6 697.9 703.1 695.6 702.8 C693.3 702.5 691.0 701.3 688.7 700.6 C686.4 699.8 683.8 698.6 681.8 698.1 C679.8 697.7 678.4 697.3 676.7 697.6 C674.9 698.0 673.2 698.9 671.5 700.2 C669.8 701.5 668.0 703.8 666.3 705.4 C664.6 707.0 663.2 708.5 661.2 709.7 C659.2 710.8 656.6 711.7 654.3 712.3 C652.0 712.8 649.7 712.7 647.4 713.1 C645.1 713.6 642.6 714.0 640.5 714.8 C638.3 715.7 636.0 716.7 634.5 718.3 C632.9 719.9 631.7 722.5 631.0 724.3 C630.3 726.2 629.9 727.8 630.2 729.5 C630.5 731.2 632.5 732.8 632.7 734.6 C633.0 736.5 632.6 739.1 631.9 740.7 C631.2 742.3 629.6 743.4 628.4 744.1 C627.3 744.8 626.3 745.1 625.0 745.0 C623.7 744.8 622.0 744.1 620.7 743.3 C619.4 742.4 618.4 741.2 617.3 739.8 C616.1 738.4 615.0 735.9 613.8 734.6 C612.7 733.4 610.1 732.6 610.4 732.1 C610.7 731.5 617.5 731.3 615.5 731.2 C613.5 731.1 602.3 731.5 598.3 731.5 C594.3 731.6 593.7 731.4 591.4 731.5 C589.1 731.7 586.4 731.9 584.5 732.6 C582.7 733.2 581.5 734.2 580.2 735.5 C578.9 736.9 577.7 738.8 576.8 740.7 C575.8 742.5 575.3 744.5 574.5 746.7 C573.8 748.9 573.4 751.6 572.5 753.6 C571.6 755.6 570.5 757.2 569.0 758.8 C567.6 760.3 565.9 761.8 563.9 763.1 C561.9 764.4 559.3 765.6 557.0 766.5 C554.7 767.5 552.4 768.6 550.1 768.7 C547.8 768.9 545.5 768.2 543.2 767.4 C540.9 766.6 538.3 765.4 536.3 763.9 C534.3 762.5 532.6 760.6 531.2 758.8 C529.7 756.9 528.6 754.9 527.7 752.7 C526.9 750.6 526.6 747.7 526.0 745.8 C525.4 744.0 525.4 742.4 524.3 741.5 C523.1 740.7 521.1 740.7 519.1 740.7 C517.1 740.7 514.8 741.5 512.2 741.5 C509.6 741.5 506.5 740.9 503.6 740.7 C500.7 740.4 497.4 739.3 495.0 740.2 C492.6 741.0 490.8 744.3 489.0 745.8 C487.1 747.4 485.4 747.7 483.8 749.3 C482.2 750.9 480.8 753.2 479.5 755.3 C478.2 757.5 477.4 760.3 476.1 762.2 C474.8 764.1 473.2 765.6 471.8 766.5 C470.3 767.4 468.9 768.1 467.5 767.7 C466.0 767.3 464.7 765.3 463.1 763.9 C461.6 762.6 459.7 761.1 458.0 759.6 C456.3 758.2 454.8 756.6 452.8 755.3 C450.8 754.0 448.2 752.7 445.9 751.9 C443.6 751.0 441.6 750.7 439.0 750.1 C436.5 749.6 433.0 748.9 430.4 748.4 C427.8 748.0 425.8 747.7 423.5 747.6 C421.2 747.4 418.5 747.4 416.7 747.6 C414.8 747.7 413.4 747.4 412.4 748.4 C411.3 749.4 410.7 752.0 410.1 753.6 C409.5 755.2 409.7 756.9 408.9 757.9 C408.1 758.9 406.6 759.8 405.5 759.6 C404.3 759.5 403.0 758.2 402.0 757.0 C401.0 755.9 400.3 753.9 399.4 752.7 C398.6 751.6 397.9 750.3 396.9 750.1 C395.8 750.0 394.7 750.7 393.4 751.9 C392.1 753.0 390.7 755.0 389.1 757.0 C387.5 759.0 385.7 761.9 383.9 763.9 C382.2 765.9 380.5 767.8 378.8 769.1 C377.1 770.4 375.3 771.5 373.6 771.7 C371.9 771.8 369.3 783.9 368.4 769.9 C367.6 756.0 367.6 701.2 368.4 688.2Z" fill="#ffc03c"/>
<path d="M368.4 711.4 C369.2 708.1 371.6 709.4 372.7 709.7 C373.9 710.0 374.5 712.8 375.3 713.1 C376.2 713.4 377.1 713.0 377.9 711.4 C378.8 709.8 379.6 705.1 380.5 703.7 C381.4 702.2 381.9 701.9 383.1 702.8 C384.2 703.7 386.2 706.4 387.4 708.8 C388.5 711.3 389.2 714.6 390.0 717.4 C390.7 720.3 390.9 723.9 391.7 726.0 C392.5 728.2 394.2 729.1 394.6 730.3 C395.0 731.6 394.9 732.8 394.3 733.8 C393.6 734.7 392.0 736.0 390.8 736.0 C389.7 736.0 388.4 734.3 387.4 733.8 C386.4 733.3 385.3 731.6 384.8 732.9 C384.3 734.2 384.6 739.5 384.3 741.5 C384.0 743.5 384.0 744.7 383.1 745.0 C382.2 745.3 380.1 744.3 378.8 743.3 C377.5 742.3 376.3 740.7 375.3 739.0 C374.3 737.2 373.9 734.5 372.7 732.9 C371.6 731.3 369.2 733.1 368.4 729.5 C367.7 725.9 367.7 714.7 368.4 711.4Z" fill="#ff6000"/>
<path d="M395.1 713.1 C395.4 712.1 396.1 710.5 397.7 709.7 C399.3 708.8 401.7 708.4 404.6 708.0 C407.5 707.5 412.1 707.5 414.9 707.1 C417.8 706.7 419.8 705.7 421.8 705.4 C423.8 705.0 425.3 704.7 427.0 705.0 C428.7 705.3 430.1 706.3 432.2 707.1 C434.2 707.9 436.5 709.0 439.0 709.7 C441.6 710.4 444.5 710.8 447.6 711.4 C450.8 712.0 454.5 712.7 458.0 713.1 C461.4 713.6 464.9 713.7 468.3 714.0 C471.8 714.3 475.2 714.6 478.6 714.8 C482.1 715.1 486.2 715.2 489.0 715.4 C491.7 715.5 492.6 715.7 495.0 715.7 C497.4 715.8 500.7 715.9 503.6 715.7 C506.5 715.6 509.3 715.3 512.2 714.8 C515.1 714.4 518.0 713.3 520.8 713.1 C523.7 713.0 526.3 713.9 529.4 714.0 C532.6 714.1 536.3 713.8 539.8 713.6 C543.2 713.5 546.7 713.4 550.1 713.1 C553.5 712.9 557.0 712.6 560.4 712.3 C563.9 712.0 567.3 711.5 570.8 711.4 C574.2 711.3 577.6 711.4 581.1 711.4 C584.5 711.4 588.0 711.4 591.4 711.4 C594.9 711.4 598.3 711.4 601.8 711.4 C605.2 711.4 609.2 711.4 612.1 711.4 C615.0 711.4 617.1 711.1 619.0 711.4 C620.8 711.7 622.5 712.3 623.3 713.1 C624.1 714.0 623.9 715.6 623.8 716.6 C623.7 717.6 623.2 718.3 622.4 719.2 C621.6 720.0 620.1 721.4 619.0 721.7 C617.8 722.0 617.0 721.3 615.5 720.9 C614.1 720.4 610.4 719.5 610.4 719.2 C610.4 718.8 617.5 718.8 615.5 718.8 C613.5 718.8 602.3 719.0 598.3 719.2 C594.3 719.4 593.7 719.6 591.4 720.0 C589.1 720.4 586.8 721.0 584.5 721.7 C582.2 722.5 579.9 723.6 577.6 724.3 C575.4 725.0 573.1 725.6 570.8 726.0 C568.5 726.5 566.2 726.5 563.9 726.9 C561.6 727.3 559.3 727.8 557.0 728.6 C554.7 729.5 552.1 730.9 550.1 732.1 C548.1 733.2 546.7 734.5 544.9 735.5 C543.2 736.5 541.3 737.6 539.8 738.1 C538.2 738.6 536.8 738.7 535.5 738.4 C534.2 738.2 533.0 737.1 532.0 736.4 C531.0 735.7 530.7 734.5 529.4 734.3 C528.1 734.1 526.3 734.7 524.3 735.0 C522.3 735.3 520.0 735.7 517.4 736.0 C514.8 736.4 511.4 736.9 508.8 737.2 C506.2 737.5 504.2 737.8 501.9 737.7 C499.6 737.7 497.2 736.8 495.0 736.7 C492.8 736.6 491.1 736.9 489.0 737.2 C486.8 737.6 482.7 738.5 482.1 739.0 C481.5 739.4 487.8 739.9 485.5 740.2 C483.2 740.4 472.3 740.7 468.3 740.7 C464.3 740.7 463.7 740.1 461.4 740.2 C459.1 740.2 456.8 740.9 454.5 741.2 C452.2 741.5 449.9 741.8 447.6 741.9 C445.4 741.9 443.1 741.7 440.8 741.5 C438.5 741.3 436.2 740.9 433.9 740.7 C431.6 740.4 429.3 740.4 427.0 740.2 C424.7 739.9 422.0 739.9 420.1 739.0 C418.2 738.0 417.1 736.4 415.8 734.6 C414.5 732.9 413.6 730.3 412.4 728.6 C411.1 726.9 409.5 725.6 408.0 724.3 C406.6 723.0 405.2 721.9 403.7 720.9 C402.3 719.9 400.7 719.2 399.4 718.3 C398.1 717.4 396.7 716.6 396.0 715.7 C395.3 714.8 394.8 714.1 395.1 713.1Z" fill="#ff6000"/>
</g>
<line x1="402.2" y1="659.4" x2="402.2" y2="799.2" class="gr"/>
<line x1="434.7" y1="659.4" x2="434.7" y2="799.2" class="gr"/>
<line x1="467.2" y1="659.4" x2="467.2" y2="799.2" class="gr"/>
<line x1="499.7" y1="659.4" x2="499.7" y2="799.2" class="gr"/>
<line x1="532.2" y1="659.4" x2="532.2" y2="799.2" class="gr"/>
<line x1="564.7" y1="659.4" x2="564.7" y2="799.2" class="gr"/>
<line x1="597.2" y1="659.4" x2="597.2" y2="799.2" class="gr"/>
<line x1="629.7" y1="659.4" x2="629.7" y2="799.2" class="gr"/>
<line x1="662.2" y1="659.4" x2="662.2" y2="799.2" class="gr"/>
<line x1="694.7" y1="659.4" x2="694.7" y2="799.2" class="gr"/>
<line x1="727.2" y1="659.4" x2="727.2" y2="799.2" class="gr"/>
<line x1="759.7" y1="659.4" x2="759.7" y2="799.2" class="gr"/>
<line x1="792.2" y1="659.4" x2="792.2" y2="799.2" class="gr"/>
<line x1="824.7" y1="659.4" x2="824.7" y2="799.2" class="gr"/>
<line x1="369.7" y1="680.2" x2="857.3" y2="680.2" class="gr"/>
<line x1="369.7" y1="703.8" x2="857.3" y2="703.8" class="gr"/>
<line x1="369.7" y1="727.4" x2="857.3" y2="727.4" class="gr"/>
<line x1="369.7" y1="751.0" x2="857.3" y2="751.0" class="gr"/>
<line x1="369.7" y1="774.6" x2="857.3" y2="774.6" class="gr"/>
<line x1="369.7" y1="797.7" x2="857.3" y2="797.7" class="gr"/>
<rect x="369.7" y="658.4" width="487.6" height="140.8" fill="none" stroke="#000" stroke-width="1.5"/>
<line x1="369.7" y1="799.2" x2="369.7" y2="802.2" stroke="#000" stroke-width="1"/>
<text x="370.5" y="810.5" font-size="8.50" text-anchor="middle" font-weight="normal" fill="#000" textLength="19.6" lengthAdjust="spacing" stroke="#000" stroke-width="0.15">130E</text>
<line x1="402.2" y1="799.2" x2="402.2" y2="802.2" stroke="#000" stroke-width="1"/>
<text x="403.0" y="810.5" font-size="8.50" text-anchor="middle" font-weight="normal" fill="#000" textLength="19.6" lengthAdjust="spacing" stroke="#000" stroke-width="0.15">140E</text>
<line x1="434.7" y1="799.2" x2="434.7" y2="802.2" stroke="#000" stroke-width="1"/>
<text x="435.5" y="810.5" font-size="8.50" text-anchor="middle" font-weight="normal" fill="#000" textLength="19.6" lengthAdjust="spacing" stroke="#000" stroke-width="0.15">150E</text>
<line x1="467.2" y1="799.2" x2="467.2" y2="802.2" stroke="#000" stroke-width="1"/>
<text x="468.0" y="810.5" font-size="8.50" text-anchor="middle" font-weight="normal" fill="#000" textLength="19.6" lengthAdjust="spacing" stroke="#000" stroke-width="0.15">160E</text>
<line x1="499.7" y1="799.2" x2="499.7" y2="802.2" stroke="#000" stroke-width="1"/>
<text x="500.5" y="810.5" font-size="8.50" text-anchor="middle" font-weight="normal" fill="#000" textLength="19.6" lengthAdjust="spacing" stroke="#000" stroke-width="0.15">170E</text>
<line x1="532.2" y1="799.2" x2="532.2" y2="802.2" stroke="#000" stroke-width="1"/>
<text x="533.0" y="810.5" font-size="8.50" text-anchor="middle" font-weight="normal" fill="#000" textLength="14.3" lengthAdjust="spacing" stroke="#000" stroke-width="0.15">180</text>
<line x1="564.7" y1="799.2" x2="564.7" y2="802.2" stroke="#000" stroke-width="1"/>
<text x="565.5" y="810.5" font-size="8.50" text-anchor="middle" font-weight="normal" fill="#000" textLength="19.6" lengthAdjust="spacing" stroke="#000" stroke-width="0.15">170W</text>
<line x1="597.2" y1="799.2" x2="597.2" y2="802.2" stroke="#000" stroke-width="1"/>
<text x="598.0" y="810.5" font-size="8.50" text-anchor="middle" font-weight="normal" fill="#000" textLength="19.6" lengthAdjust="spacing" stroke="#000" stroke-width="0.15">160W</text>
<line x1="629.7" y1="799.2" x2="629.7" y2="802.2" stroke="#000" stroke-width="1"/>
<text x="630.5" y="810.5" font-size="8.50" text-anchor="middle" font-weight="normal" fill="#000" textLength="19.6" lengthAdjust="spacing" stroke="#000" stroke-width="0.15">150W</text>
<line x1="662.2" y1="799.2" x2="662.2" y2="802.2" stroke="#000" stroke-width="1"/>
<text x="663.0" y="810.5" font-size="8.50" text-anchor="middle" font-weight="normal" fill="#000" textLength="19.6" lengthAdjust="spacing" stroke="#000" stroke-width="0.15">140W</text>
<line x1="694.7" y1="799.2" x2="694.7" y2="802.2" stroke="#000" stroke-width="1"/>
<text x="695.5" y="810.5" font-size="8.50" text-anchor="middle" font-weight="normal" fill="#000" textLength="19.6" lengthAdjust="spacing" stroke="#000" stroke-width="0.15">130W</text>
<line x1="727.2" y1="799.2" x2="727.2" y2="802.2" stroke="#000" stroke-width="1"/>
<text x="728.0" y="810.5" font-size="8.50" text-anchor="middle" font-weight="normal" fill="#000" textLength="19.6" lengthAdjust="spacing" stroke="#000" stroke-width="0.15">120W</text>
<line x1="759.7" y1="799.2" x2="759.7" y2="802.2" stroke="#000" stroke-width="1"/>
<text x="760.5" y="810.5" font-size="8.50" text-anchor="middle" font-weight="normal" fill="#000" textLength="19.6" lengthAdjust="spacing" stroke="#000" stroke-width="0.15">110W</text>
<line x1="792.2" y1="799.2" x2="792.2" y2="802.2" stroke="#000" stroke-width="1"/>
<text x="793.0" y="810.5" font-size="8.50" text-anchor="middle" font-weight="normal" fill="#000" textLength="19.6" lengthAdjust="spacing" stroke="#000" stroke-width="0.15">100W</text>
<line x1="824.7" y1="799.2" x2="824.7" y2="802.2" stroke="#000" stroke-width="1"/>
<text x="825.5" y="810.5" font-size="8.50" text-anchor="middle" font-weight="normal" fill="#000" textLength="14.3" lengthAdjust="spacing" stroke="#000" stroke-width="0.15">90W</text>
<line x1="857.2" y1="799.2" x2="857.2" y2="802.2" stroke="#000" stroke-width="1"/>
<text x="858.0" y="810.5" font-size="8.50" text-anchor="middle" font-weight="normal" fill="#000" textLength="14.3" lengthAdjust="spacing" stroke="#000" stroke-width="0.15">80W</text>
<line x1="366.2" y1="680.2" x2="369.7" y2="680.2" stroke="#000" stroke-width="1"/>
<text x="365.0" y="683.4" font-size="9.00" text-anchor="end" font-weight="normal" fill="#000" textLength="9.2" lengthAdjust="spacing" stroke="#000" stroke-width="0.15">50</text>
<line x1="366.2" y1="703.8" x2="369.7" y2="703.8" stroke="#000" stroke-width="1"/>
<text x="365.0" y="707.0" font-size="9.00" text-anchor="end" font-weight="normal" fill="#000" textLength="13.8" lengthAdjust="spacing" stroke="#000" stroke-width="0.15">100</text>
<line x1="366.2" y1="727.4" x2="369.7" y2="727.4" stroke="#000" stroke-width="1"/>
<text x="365.0" y="730.6" font-size="9.00" text-anchor="end" font-weight="normal" fill="#000" textLength="13.8" lengthAdjust="spacing" stroke="#000" stroke-width="0.15">150</text>
<line x1="366.2" y1="751.0" x2="369.7" y2="751.0" stroke="#000" stroke-width="1"/>
<text x="365.0" y="754.2" font-size="9.00" text-anchor="end" font-weight="normal" fill="#000" textLength="13.8" lengthAdjust="spacing" stroke="#000" stroke-width="0.15">200</text>
<line x1="366.2" y1="774.6" x2="369.7" y2="774.6" stroke="#000" stroke-width="1"/>
<text x="365.0" y="777.8" font-size="9.00" text-anchor="end" font-weight="normal" fill="#000" textLength="13.8" lengthAdjust="spacing" stroke="#000" stroke-width="0.15">250</text>
<line x1="366.2" y1="798.2" x2="369.7" y2="798.2" stroke="#000" stroke-width="1"/>
<text x="365.0" y="801.4" font-size="9.00" text-anchor="end" font-weight="normal" fill="#000" textLength="13.8" lengthAdjust="spacing" stroke="#000" stroke-width="0.15">300</text>
<text x="613.2" y="651.0" font-size="12.20" text-anchor="middle" font-weight="bold" fill="#000" textLength="277.0" lengthAdjust="spacing" >Three−pentad ave. centered on 17 JUN 2022</text>
<rect x="865.6" y="442.60" width="15.0" height="19.43" fill="#a50000" stroke="#222" stroke-width="0.9"/>
<rect x="865.6" y="462.03" width="15.0" height="19.43" fill="#e11400" stroke="#222" stroke-width="0.9"/>
<rect x="865.6" y="481.46" width="15.0" height="19.43" fill="#ff6000" stroke="#222" stroke-width="0.9"/>
<rect x="865.6" y="500.89" width="15.0" height="19.43" fill="#ffc03c" stroke="#222" stroke-width="0.9"/>
<rect x="865.6" y="520.32" width="15.0" height="19.43" fill="#fffaaa" stroke="#222" stroke-width="0.9"/>
<rect x="865.6" y="539.75" width="15.0" height="19.43" fill="#ffffff" stroke="#222" stroke-width="0.9"/>
<rect x="865.6" y="559.18" width="15.0" height="19.43" fill="#e1ffff" stroke="#222" stroke-width="0.9"/>
<rect x="865.6" y="578.61" width="15.0" height="19.43" fill="#96d2fa" stroke="#222" stroke-width="0.9"/>
<rect x="865.6" y="598.04" width="15.0" height="19.43" fill="#50a5f5" stroke="#222" stroke-width="0.9"/>
<rect x="865.6" y="617.47" width="15.0" height="19.43" fill="#2882f0" stroke="#222" stroke-width="0.9"/>
<rect x="865.6" y="636.90" width="15.0" height="19.43" fill="#1464d2" stroke="#222" stroke-width="0.9"/>
<text transform="translate(884.0,466.9) scale(1.000,1)" font-size="13.6" stroke="#000" stroke-width="0.30">6</text>
<text transform="translate(884.0,486.4) scale(1.000,1)" font-size="13.6" stroke="#000" stroke-width="0.30">4</text>
<text transform="translate(884.0,505.8) scale(1.000,1)" font-size="13.6" stroke="#000" stroke-width="0.30">2</text>
<text transform="translate(884.0,525.2) scale(1.000,1)" font-size="13.6" stroke="#000" stroke-width="0.30">1</text>
<text transform="translate(884.0,544.6) scale(1.000,1)" font-size="13.6" textLength="21.8" lengthAdjust="spacing" stroke="#000" stroke-width="0.30">0.5</text>
<line x1="884.3" y1="559.5" x2="893.6" y2="559.5" stroke="#000" stroke-width="1.35"/>
<text transform="translate(895.8,564.1) scale(1.000,1)" font-size="13.6" textLength="21.8" lengthAdjust="spacing" stroke="#000" stroke-width="0.30">0.5</text>
<line x1="884.3" y1="578.9" x2="893.6" y2="578.9" stroke="#000" stroke-width="1.35"/>
<text transform="translate(895.8,583.5) scale(1.000,1)" font-size="13.6" stroke="#000" stroke-width="0.30">1</text>
<line x1="884.3" y1="598.3" x2="893.6" y2="598.3" stroke="#000" stroke-width="1.35"/>
<text transform="translate(895.8,602.9) scale(1.000,1)" font-size="13.6" stroke="#000" stroke-width="0.30">2</text>
<line x1="884.3" y1="617.8" x2="893.6" y2="617.8" stroke="#000" stroke-width="1.35"/>
<text transform="translate(895.8,622.4) scale(1.000,1)" font-size="13.6" stroke="#000" stroke-width="0.30">4</text>
<line x1="884.3" y1="637.2" x2="893.6" y2="637.2" stroke="#000" stroke-width="1.35"/>
<text transform="translate(895.8,641.8) scale(1.000,1)" font-size="13.6" stroke="#000" stroke-width="0.30">6</text><text transform="translate(338.4,618.8) rotate(-90)" font-size="20" textLength="144" lengthAdjust="spacing" word-spacing="4">Depth (meters)</text>
<rect x="-10" y="176" width="263" height="328" fill="#fff" stroke="#c8c8c8" stroke-width="1"/>
<text x="116.7" y="200.6" font-size="25.00" text-anchor="end" font-weight="normal" fill="#000" textLength="122.7" lengthAdjust="spacing" word-spacing="6" stroke="#000" stroke-width="0.6">s (deg C)</text>
<clipPath id="cpL"><rect x="-5.0" y="248.5" width="155.9" height="196.0"/></clipPath>
<g clip-path="url(#cpL)">
<path d="M19.8 246.6 C-4.4 248.1 22.0 253.0 23.8 255.8 C25.5 258.7 28.6 260.7 30.4 263.8 C32.1 266.8 33.7 270.4 34.3 274.3 C35.0 278.3 34.5 283.6 34.3 287.5 C34.1 291.5 32.8 294.6 33.0 298.1 C33.2 301.6 34.1 305.1 35.6 308.6 C37.2 312.2 39.4 315.9 42.2 319.2 C45.1 322.5 49.3 326.0 52.8 328.4 C56.3 330.9 60.1 332.6 63.4 333.7 C66.7 334.8 70.2 335.7 72.6 335.0 C75.0 334.4 76.3 332.2 77.9 329.8 C79.4 327.3 80.5 322.7 81.8 320.5 C83.2 318.3 84.3 316.6 85.8 316.6 C87.3 316.6 88.9 318.3 91.1 320.5 C93.3 322.7 96.8 326.2 99.0 329.8 C101.2 333.3 103.0 337.7 104.3 341.6 C105.6 345.6 106.0 349.3 106.9 353.5 C107.8 357.7 108.4 361.9 109.5 366.7 C110.6 371.5 112.0 377.7 113.5 382.5 C115.0 387.4 116.6 392.2 118.8 395.7 C121.0 399.3 124.1 401.0 126.7 403.7 C129.3 406.3 132.0 408.5 134.6 411.6 C137.3 414.7 140.6 419.7 142.5 422.1 C144.5 424.6 142.1 425.7 146.5 426.1 C150.9 426.5 165.2 454.7 168.9 424.8 C172.7 394.9 193.8 276.3 168.9 246.6 C144.1 216.9 44.0 245.1 19.8 246.6Z" fill="#e1ffff"/>
<path d="M29.6 260.6 C29.6 258.4 33.3 255.5 34.3 253.2 C35.3 250.9 13.2 247.7 35.6 246.6 C58.1 245.5 146.7 224.6 168.9 246.6 C191.2 268.6 173.1 356.8 168.9 378.6 C164.8 400.4 149.1 378.6 143.9 377.3 C138.6 375.9 139.7 373.3 137.3 370.7 C134.8 368.0 132.0 364.7 129.3 361.4 C126.7 358.1 123.4 354.2 121.4 350.9 C119.4 347.6 118.8 344.9 117.5 341.6 C116.1 338.3 115.0 334.4 113.5 331.1 C112.0 327.8 110.4 324.9 108.2 321.8 C106.0 318.8 103.2 315.5 100.3 312.6 C97.5 309.7 93.7 306.4 91.1 304.7 C88.4 302.9 86.5 302.0 84.5 302.0 C82.5 302.0 80.5 302.9 79.2 304.7 C77.9 306.4 77.9 310.6 76.6 312.6 C75.2 314.6 73.5 316.1 71.3 316.6 C69.1 317.0 66.4 316.1 63.4 315.2 C60.3 314.4 56.1 312.8 52.8 311.3 C49.5 309.7 45.8 308.0 43.6 306.0 C41.4 304.0 40.0 301.6 39.6 299.4 C39.2 297.2 39.6 294.6 40.9 292.8 C42.2 291.0 46.5 290.8 47.5 288.8 C48.5 286.9 48.3 283.6 47.0 280.9 C45.7 278.3 41.7 275.4 39.6 273.0 C37.5 270.6 36.0 268.5 34.3 266.4 C32.6 264.3 29.6 262.8 29.6 260.6Z" fill="#96d2fa"/>
<path d="M39.6 262.4 C40.3 261.1 42.2 259.4 44.9 258.5 C47.5 257.6 52.1 257.6 55.4 257.2 C58.7 256.7 62.3 257.6 64.7 255.8 C67.1 254.1 66.7 248.1 70.0 246.6 C73.3 245.1 81.6 245.1 84.5 246.6 C87.3 248.1 86.2 253.6 87.1 255.8 C88.0 258.0 88.8 258.9 90.0 259.7 C91.2 260.6 92.8 260.1 94.6 260.7 C96.4 261.2 99.0 262.3 101.0 263.0 C103.0 263.6 104.8 263.8 106.5 264.3 C108.2 264.9 109.6 265.3 111.1 266.2 C112.7 267.0 114.2 268.0 115.7 269.4 C117.2 270.8 118.8 272.6 120.3 274.4 C121.8 276.3 123.5 279.0 124.9 280.4 C126.3 281.9 127.9 282.1 128.6 283.2 C129.3 284.2 129.3 285.5 129.0 286.8 C128.7 288.2 127.2 290.0 126.7 291.4 C126.3 292.9 126.9 295.0 126.3 295.6 C125.7 296.2 124.1 295.6 123.1 295.1 C122.1 294.6 121.5 293.3 120.3 292.8 C119.1 292.3 117.2 292.0 115.7 291.9 C114.2 291.8 113.1 292.2 111.1 292.4 C109.1 292.5 106.4 292.8 103.8 292.8 C101.2 292.8 97.8 292.8 95.5 292.4 C93.2 291.9 92.7 291.7 90.0 290.1 C87.3 288.4 82.8 284.2 79.2 282.2 C75.6 280.3 72.2 279.4 68.6 278.3 C65.1 277.2 61.6 276.7 58.1 275.6 C54.6 274.5 50.4 273.2 47.5 271.7 C44.7 270.1 42.2 267.9 40.9 266.4 C39.6 264.9 38.9 263.8 39.6 262.4Z" fill="#50a5f5"/>
<path d="M145.1 295.1 C145.4 294.6 145.9 294.0 147.9 293.3 C149.9 292.6 155.5 290.1 157.0 291.0 C158.6 291.9 158.5 297.6 157.0 298.8 C155.6 299.9 150.2 298.2 148.3 297.9 C146.5 297.5 146.6 296.9 146.0 296.5 C145.5 296.0 144.8 295.6 145.1 295.1Z" fill="#50a5f5"/>
<path d="M106.1 247.8 C97.6 249.1 105.7 253.6 106.1 255.6 C106.5 257.6 107.4 258.4 108.4 259.7 C109.4 261.0 110.7 262.5 112.0 263.4 C113.4 264.3 115.3 264.6 116.6 265.3 C118.0 265.9 119.1 266.4 120.3 267.6 C121.5 268.7 122.6 270.6 124.0 272.1 C125.4 273.7 127.0 275.2 128.6 276.7 C130.1 278.3 131.8 280.0 133.2 281.3 C134.5 282.6 135.2 284.0 136.8 284.5 C138.5 285.1 139.9 284.6 143.3 284.5 C146.6 284.5 154.8 290.2 157.0 284.1 C159.3 278.0 165.5 253.9 157.0 247.8 C148.6 241.8 114.6 246.5 106.1 247.8Z" fill="#e1ffff"/>
<path d="M111.1 258.4 C111.8 257.8 114.2 257.7 115.7 257.9 C117.2 258.1 119.2 259.1 120.3 259.7 C121.4 260.4 121.6 262.1 122.1 262.0 C122.7 262.0 122.8 260.1 123.5 259.3 C124.3 258.4 125.4 257.5 126.7 257.0 C128.0 256.5 129.8 256.4 131.3 256.1 C132.9 255.8 134.9 255.8 135.9 255.2 C137.0 254.5 136.8 252.8 137.8 251.9 C138.7 251.1 139.9 250.5 141.4 250.1 C143.0 249.7 146.0 249.2 146.9 249.6 C147.9 250.1 145.7 252.2 147.4 252.9 C149.1 253.5 155.4 248.8 157.0 253.8 C158.7 258.8 159.0 277.9 157.0 282.7 C155.1 287.5 148.3 282.8 145.1 282.7 C141.9 282.6 139.6 282.8 137.8 282.3 C135.9 281.7 135.3 280.6 134.1 279.5 C132.9 278.3 131.7 276.7 130.4 275.4 C129.1 274.0 127.5 272.7 126.3 271.2 C125.1 269.8 124.2 267.9 123.1 266.6 C121.9 265.3 120.8 264.0 119.4 263.4 C118.0 262.8 116.1 263.3 114.8 263.0 C113.5 262.7 112.2 262.3 111.6 261.6 C111.0 260.8 110.4 259.0 111.1 258.4Z" fill="#ffffff"/>
<path d="M129.5 264.8 C129.8 263.9 130.4 262.7 131.3 262.0 C132.3 261.4 133.0 261.2 135.0 260.9 C137.0 260.7 139.6 260.4 143.3 260.4 C146.9 260.3 154.8 257.3 157.0 260.7 C159.3 264.1 159.0 277.5 157.0 280.9 C155.1 284.2 147.7 281.0 145.1 280.9 C142.5 280.7 142.7 280.4 141.4 280.0 C140.2 279.5 139.0 279.0 137.8 278.1 C136.5 277.3 135.2 276.1 134.1 274.9 C133.0 273.8 132.1 272.5 131.3 271.2 C130.6 270.0 130.0 268.6 129.7 267.6 C129.4 266.5 129.2 265.7 129.5 264.8Z" fill="#fffaaa"/>
<path d="M130.4 266.2 C130.7 265.2 131.9 263.7 133.2 263.0 C134.4 262.2 135.8 261.9 137.8 261.6 C139.8 261.3 141.9 261.3 145.1 261.3 C148.3 261.3 155.1 258.4 157.0 261.6 C159.0 264.8 158.9 277.5 157.0 280.4 C155.2 283.3 148.6 279.4 146.0 279.0 C143.4 278.7 142.8 278.9 141.4 278.4 C140.1 277.9 139.0 277.3 137.8 276.3 C136.5 275.2 135.2 273.4 134.1 272.1 C133.0 270.9 131.9 269.9 131.3 268.9 C130.7 267.9 130.1 267.2 130.4 266.2Z" fill="#ffc03c"/>
<path d="M135.0 267.6 C135.2 266.1 136.4 265.1 137.8 264.3 C139.1 263.6 140.1 263.0 143.3 263.0 C146.5 262.9 154.8 261.7 157.0 263.9 C159.3 266.1 159.0 274.0 157.0 276.3 C155.1 278.6 147.9 277.6 145.1 277.7 C142.3 277.7 141.4 277.5 140.1 276.7 C138.7 276.0 137.7 274.6 136.8 273.1 C136.0 271.5 134.9 269.0 135.0 267.6Z" fill="#ff6000"/>
<path d="M142.2 270.3 C142.6 269.4 144.9 267.6 146.0 267.1 C147.1 266.6 146.9 267.2 148.8 267.6 C150.6 267.9 155.7 268.6 157.0 269.4 C158.4 270.2 158.4 271.4 157.0 272.1 C155.7 272.9 150.6 273.6 148.8 274.0 C146.9 274.4 146.9 274.7 146.0 274.4 C145.2 274.2 144.4 273.3 143.7 272.6 C143.1 271.9 141.8 271.2 142.2 270.3Z" fill="#e11400"/>
<path d="M-5.3 257.2 C-3.1 247.1 4.4 258.1 7.9 259.0 C11.4 259.9 13.4 261.2 15.8 262.4 C18.3 263.7 20.7 264.6 22.4 266.4 C24.2 268.2 26.0 269.9 26.4 273.0 C26.8 276.1 25.7 280.7 25.1 284.9 C24.4 289.1 23.1 293.2 22.4 298.1 C21.8 302.9 21.8 309.5 21.1 313.9 C20.5 318.3 19.8 321.9 18.5 324.5 C17.2 327.0 15.4 329.2 13.2 329.2 C11.0 329.2 8.4 326.1 5.3 324.5 C2.2 322.8 -3.5 330.4 -5.3 319.2 C-7.0 308.0 -7.5 267.2 -5.3 257.2Z" fill="#fffaaa"/>
<path d="M-5.3 263.2 C-3.1 256.9 4.6 264.1 7.9 265.1 C11.2 266.0 13.0 267.1 14.5 269.0 C16.1 271.0 16.9 273.9 17.2 277.0 C17.5 280.0 16.7 284.0 16.4 287.5 C16.1 291.0 15.8 295.2 15.3 298.1 C14.8 300.9 14.7 303.4 13.2 304.7 C11.7 306.0 9.7 306.2 6.6 306.0 C3.5 305.8 -3.3 310.5 -5.3 303.4 C-7.3 296.2 -7.5 269.6 -5.3 263.2Z" fill="#ffc03c"/>
</g>
<line x1="111.4" y1="249.5" x2="111.4" y2="444.3" class="gl"/>
<line x1="65.6" y1="249.5" x2="65.6" y2="444.3" class="gl"/>
<line x1="19.8" y1="249.5" x2="19.8" y2="444.3" class="gl"/>
<line x1="-3" y1="278.3" x2="157.2" y2="278.3" class="gl"/>
<line x1="-3" y1="311.5" x2="157.2" y2="311.5" class="gl"/>
<line x1="-3" y1="344.7" x2="157.2" y2="344.7" class="gl"/>
<line x1="-3" y1="377.9" x2="157.2" y2="377.9" class="gl"/>
<line x1="-3" y1="411.1" x2="157.2" y2="411.1" class="gl"/>
<line x1="-3" y1="442.3" x2="157.2" y2="442.3" class="gl"/>
<rect x="-10" y="248.5" width="167.2" height="195.8" fill="none" stroke="#000" stroke-width="2"/>
<line x1="157.2" y1="444.3" x2="157.2" y2="448.3" stroke="#000" stroke-width="1.2"/>
<text x="157.7" y="460.5" font-size="11.40" text-anchor="middle" font-weight="normal" fill="#000" textLength="20.5" lengthAdjust="spacing" stroke="#000" stroke-width="0.3">80W</text>
<line x1="111.4" y1="444.3" x2="111.4" y2="448.3" stroke="#000" stroke-width="1.2"/>
<text x="111.9" y="460.5" font-size="11.40" text-anchor="middle" font-weight="normal" fill="#000" textLength="20.5" lengthAdjust="spacing" stroke="#000" stroke-width="0.3">90W</text>
<line x1="65.6" y1="444.3" x2="65.6" y2="448.3" stroke="#000" stroke-width="1.2"/>
<text x="66.1" y="460.5" font-size="11.40" text-anchor="middle" font-weight="normal" fill="#000" textLength="27.0" lengthAdjust="spacing" stroke="#000" stroke-width="0.3">100W</text>
<line x1="19.8" y1="444.3" x2="19.8" y2="448.3" stroke="#000" stroke-width="1.2"/>
<text x="20.3" y="460.5" font-size="11.40" text-anchor="middle" font-weight="normal" fill="#000" textLength="27.0" lengthAdjust="spacing" stroke="#000" stroke-width="0.3">110W</text>
<rect x="177.2" y="196.80" width="22.0" height="27.30" fill="#a50000" stroke="#222" stroke-width="1.2"/>
<rect x="177.2" y="224.10" width="22.0" height="27.30" fill="#e11400" stroke="#222" stroke-width="1.2"/>
<rect x="177.2" y="251.40" width="22.0" height="27.30" fill="#ff6000" stroke="#222" stroke-width="1.2"/>
<rect x="177.2" y="278.70" width="22.0" height="27.30" fill="#ffc03c" stroke="#222" stroke-width="1.2"/>
<rect x="177.2" y="306.00" width="22.0" height="27.30" fill="#fffaaa" stroke="#222" stroke-width="1.2"/>
<rect x="177.2" y="333.30" width="22.0" height="27.30" fill="#ffffff" stroke="#222" stroke-width="1.2"/>
<rect x="177.2" y="360.60" width="22.0" height="27.30" fill="#e1ffff" stroke="#222" stroke-width="1.2"/>
<rect x="177.2" y="387.90" width="22.0" height="27.30" fill="#96d2fa" stroke="#222" stroke-width="1.2"/>
<rect x="177.2" y="415.20" width="22.0" height="27.30" fill="#50a5f5" stroke="#222" stroke-width="1.2"/>
<rect x="177.2" y="442.50" width="22.0" height="27.30" fill="#2882f0" stroke="#222" stroke-width="1.2"/>
<rect x="177.2" y="469.80" width="22.0" height="27.30" fill="#1464d2" stroke="#222" stroke-width="1.2"/>
<text transform="translate(205.8,232.1) scale(0.840,1)" font-size="22.3" stroke="#000" stroke-width="0.42">6</text>
<text transform="translate(205.8,259.4) scale(0.840,1)" font-size="22.3" stroke="#000" stroke-width="0.42">4</text>
<text transform="translate(205.8,286.7) scale(0.840,1)" font-size="22.3" stroke="#000" stroke-width="0.42">2</text>
<text transform="translate(205.8,314.0) scale(0.840,1)" font-size="22.3" stroke="#000" stroke-width="0.42">1</text>
<text transform="translate(205.8,341.3) scale(0.840,1)" font-size="22.3" textLength="33.9" lengthAdjust="spacing" stroke="#000" stroke-width="0.42">0.5</text>
<line x1="206.2" y1="361.0" x2="219.2" y2="361.0" stroke="#000" stroke-width="1.89"/>
<text transform="translate(222.3,368.6) scale(0.840,1)" font-size="22.3" textLength="33.9" lengthAdjust="spacing" stroke="#000" stroke-width="0.42">0.5</text>
<line x1="206.2" y1="388.3" x2="219.2" y2="388.3" stroke="#000" stroke-width="1.89"/>
<text transform="translate(222.3,395.9) scale(0.840,1)" font-size="22.3" stroke="#000" stroke-width="0.42">1</text>
<line x1="206.2" y1="415.6" x2="219.2" y2="415.6" stroke="#000" stroke-width="1.89"/>
<text transform="translate(222.3,423.2) scale(0.840,1)" font-size="22.3" stroke="#000" stroke-width="0.42">2</text>
<line x1="206.2" y1="442.9" x2="219.2" y2="442.9" stroke="#000" stroke-width="1.89"/>
<text transform="translate(222.3,450.5) scale(0.840,1)" font-size="22.3" stroke="#000" stroke-width="0.42">4</text>
<line x1="206.2" y1="470.2" x2="219.2" y2="470.2" stroke="#000" stroke-width="1.89"/>
<text transform="translate(222.3,477.8) scale(0.840,1)" font-size="22.3" stroke="#000" stroke-width="0.42">6</text>
<text x="56.3" y="526.7" font-size="35.00" text-anchor="end" font-weight="bold" fill="#595959" >ysis</text>
</g></svg>
</body></html>
